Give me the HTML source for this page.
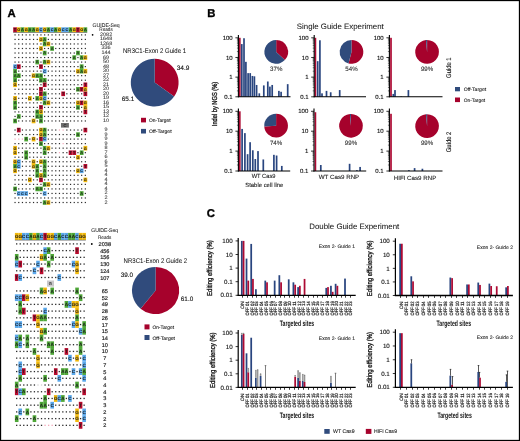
<!DOCTYPE html>
<html><head><meta charset="utf-8"><style>
html,body{margin:0;padding:0;background:#fff;}
svg{display:block;font-family:"Liberation Sans", sans-serif;text-rendering:geometricPrecision;will-change:transform;}
</style></head><body>
<svg width="520" height="441" viewBox="0 0 520 441">
<rect x="0" y="0" width="520" height="441" fill="#fff"/>
<text x="7.6" y="16.6" font-size="11.3" font-weight="bold" fill="#000" stroke="#000" stroke-width="0.35">A</text>
<text x="207.2" y="17.0" font-size="11.3" font-weight="bold" fill="#000" stroke="#000" stroke-width="0.35">B</text>
<text x="206.8" y="217.2" font-size="11.3" font-weight="bold" fill="#000" stroke="#000" stroke-width="0.35">C</text>
<rect x="13.20" y="27.30" width="3.75" height="5.00" fill="#b80a2d" />
<text x="15.05" y="31.20" font-size="3.9" text-anchor="middle" fill="#111" font-weight="bold" >T</text>
<rect x="16.90" y="27.30" width="3.75" height="5.00" fill="#f2b90c" />
<text x="18.75" y="31.20" font-size="3.9" text-anchor="middle" fill="#111" font-weight="bold" >G</text>
<rect x="20.60" y="27.30" width="3.75" height="5.00" fill="#4ea737" />
<text x="22.45" y="31.20" font-size="3.9" text-anchor="middle" fill="#111" font-weight="bold" >A</text>
<rect x="24.30" y="27.30" width="3.75" height="5.00" fill="#f2b90c" />
<text x="26.15" y="31.20" font-size="3.9" text-anchor="middle" fill="#111" font-weight="bold" >G</text>
<rect x="28.00" y="27.30" width="3.75" height="5.00" fill="#4ea737" />
<text x="29.85" y="31.20" font-size="3.9" text-anchor="middle" fill="#111" font-weight="bold" >A</text>
<rect x="31.70" y="27.30" width="3.75" height="5.00" fill="#4ea737" />
<text x="33.55" y="31.20" font-size="3.9" text-anchor="middle" fill="#111" font-weight="bold" >A</text>
<rect x="35.40" y="27.30" width="3.75" height="5.00" fill="#f2b90c" />
<text x="37.25" y="31.20" font-size="3.9" text-anchor="middle" fill="#111" font-weight="bold" >G</text>
<rect x="39.10" y="27.30" width="3.75" height="5.00" fill="#5aa8ec" />
<text x="40.95" y="31.20" font-size="3.9" text-anchor="middle" fill="#111" font-weight="bold" >C</text>
<rect x="42.80" y="27.30" width="3.75" height="5.00" fill="#f2b90c" />
<text x="44.65" y="31.20" font-size="3.9" text-anchor="middle" fill="#111" font-weight="bold" >G</text>
<rect x="46.50" y="27.30" width="3.75" height="5.00" fill="#4ea737" />
<text x="48.35" y="31.20" font-size="3.9" text-anchor="middle" fill="#111" font-weight="bold" >A</text>
<rect x="50.20" y="27.30" width="3.75" height="5.00" fill="#5aa8ec" />
<text x="52.05" y="31.20" font-size="3.9" text-anchor="middle" fill="#111" font-weight="bold" >C</text>
<rect x="53.90" y="27.30" width="3.75" height="5.00" fill="#4ea737" />
<text x="55.75" y="31.20" font-size="3.9" text-anchor="middle" fill="#111" font-weight="bold" >A</text>
<rect x="57.60" y="27.30" width="3.75" height="5.00" fill="#f2b90c" />
<text x="59.45" y="31.20" font-size="3.9" text-anchor="middle" fill="#111" font-weight="bold" >G</text>
<rect x="61.30" y="27.30" width="3.75" height="5.00" fill="#5aa8ec" />
<text x="63.15" y="31.20" font-size="3.9" text-anchor="middle" fill="#111" font-weight="bold" >C</text>
<rect x="65.00" y="27.30" width="3.75" height="5.00" fill="#5aa8ec" />
<text x="66.85" y="31.20" font-size="3.9" text-anchor="middle" fill="#111" font-weight="bold" >C</text>
<rect x="68.70" y="27.30" width="3.75" height="5.00" fill="#4ea737" />
<text x="70.55" y="31.20" font-size="3.9" text-anchor="middle" fill="#111" font-weight="bold" >A</text>
<rect x="72.40" y="27.30" width="3.75" height="5.00" fill="#f2b90c" />
<text x="74.25" y="31.20" font-size="3.9" text-anchor="middle" fill="#111" font-weight="bold" >G</text>
<rect x="76.10" y="27.30" width="3.75" height="5.00" fill="#b80a2d" />
<text x="77.95" y="31.20" font-size="3.9" text-anchor="middle" fill="#111" font-weight="bold" >T</text>
<rect x="79.80" y="27.30" width="3.75" height="5.00" fill="#f2b90c" />
<text x="81.65" y="31.20" font-size="3.9" text-anchor="middle" fill="#111" font-weight="bold" >G</text>
<rect x="83.50" y="27.30" width="3.75" height="5.00" fill="#4ea737" />
<text x="85.35" y="31.20" font-size="3.9" text-anchor="middle" fill="#111" font-weight="bold" >A</text>
<line x1="13.20" y1="32.50" x2="87.20" y2="32.50" stroke="#555" stroke-width="0.6"/>
<rect x="14.45" y="34.30" width="1.20" height="1.20" fill="#2a2a2a" />
<rect x="18.15" y="34.30" width="1.20" height="1.20" fill="#2a2a2a" />
<rect x="21.85" y="34.30" width="1.20" height="1.20" fill="#2a2a2a" />
<rect x="25.55" y="34.30" width="1.20" height="1.20" fill="#2a2a2a" />
<rect x="29.25" y="34.30" width="1.20" height="1.20" fill="#2a2a2a" />
<rect x="32.95" y="34.30" width="1.20" height="1.20" fill="#2a2a2a" />
<rect x="36.65" y="34.30" width="1.20" height="1.20" fill="#2a2a2a" />
<rect x="40.35" y="34.30" width="1.20" height="1.20" fill="#2a2a2a" />
<rect x="44.05" y="34.30" width="1.20" height="1.20" fill="#2a2a2a" />
<rect x="47.75" y="34.30" width="1.20" height="1.20" fill="#2a2a2a" />
<rect x="51.45" y="34.30" width="1.20" height="1.20" fill="#2a2a2a" />
<rect x="55.15" y="34.30" width="1.20" height="1.20" fill="#2a2a2a" />
<rect x="58.85" y="34.30" width="1.20" height="1.20" fill="#2a2a2a" />
<rect x="62.55" y="34.30" width="1.20" height="1.20" fill="#2a2a2a" />
<rect x="66.25" y="34.30" width="1.20" height="1.20" fill="#2a2a2a" />
<rect x="69.95" y="34.30" width="1.20" height="1.20" fill="#2a2a2a" />
<rect x="73.65" y="34.30" width="1.20" height="1.20" fill="#2a2a2a" />
<rect x="77.35" y="34.30" width="1.20" height="1.20" fill="#2a2a2a" />
<rect x="81.05" y="34.30" width="1.20" height="1.20" fill="#2a2a2a" />
<rect x="84.75" y="34.30" width="1.20" height="1.20" fill="#2a2a2a" />
<text x="106.10" y="35.90" font-size="5.0" text-anchor="middle" fill="#333" stroke="#333" stroke-width="0.06" textLength="12.20" lengthAdjust="spacingAndGlyphs" >2082</text>
<rect x="14.45" y="38.83" width="1.20" height="1.20" fill="#2a2a2a" />
<rect x="18.15" y="38.83" width="1.20" height="1.20" fill="#2a2a2a" />
<rect x="21.85" y="38.83" width="1.20" height="1.20" fill="#2a2a2a" />
<rect x="25.55" y="38.83" width="1.20" height="1.20" fill="#2a2a2a" />
<rect x="29.25" y="38.83" width="1.20" height="1.20" fill="#2a2a2a" />
<rect x="32.95" y="38.83" width="1.20" height="1.20" fill="#2a2a2a" />
<rect x="36.65" y="38.83" width="1.20" height="1.20" fill="#2a2a2a" />
<rect x="39.10" y="37.16" width="3.75" height="4.58" fill="#f2b90c" />
<text x="40.95" y="40.83" font-size="3.9" text-anchor="middle" fill="#1a1a1a" font-weight="bold" >G</text>
<rect x="42.80" y="37.16" width="3.75" height="4.58" fill="#4ea737" />
<text x="44.65" y="40.83" font-size="3.9" text-anchor="middle" fill="#1a1a1a" font-weight="bold" >A</text>
<rect x="47.75" y="38.83" width="1.20" height="1.20" fill="#2a2a2a" />
<rect x="51.45" y="38.83" width="1.20" height="1.20" fill="#2a2a2a" />
<rect x="55.15" y="38.83" width="1.20" height="1.20" fill="#2a2a2a" />
<rect x="58.85" y="38.83" width="1.20" height="1.20" fill="#2a2a2a" />
<rect x="62.55" y="38.83" width="1.20" height="1.20" fill="#2a2a2a" />
<rect x="66.25" y="38.83" width="1.20" height="1.20" fill="#2a2a2a" />
<rect x="69.95" y="38.83" width="1.20" height="1.20" fill="#2a2a2a" />
<rect x="73.65" y="38.83" width="1.20" height="1.20" fill="#2a2a2a" />
<rect x="77.35" y="38.83" width="1.20" height="1.20" fill="#2a2a2a" />
<rect x="81.05" y="38.83" width="1.20" height="1.20" fill="#2a2a2a" />
<rect x="84.75" y="38.83" width="1.20" height="1.20" fill="#2a2a2a" />
<text x="106.10" y="40.43" font-size="5.0" text-anchor="middle" fill="#333" stroke="#333" stroke-width="0.06" textLength="12.20" lengthAdjust="spacingAndGlyphs" >1648</text>
<rect x="14.45" y="43.36" width="1.20" height="1.20" fill="#2a2a2a" />
<rect x="18.15" y="43.36" width="1.20" height="1.20" fill="#2a2a2a" />
<rect x="21.85" y="43.36" width="1.20" height="1.20" fill="#2a2a2a" />
<rect x="25.55" y="43.36" width="1.20" height="1.20" fill="#2a2a2a" />
<rect x="29.25" y="43.36" width="1.20" height="1.20" fill="#2a2a2a" />
<rect x="32.95" y="43.36" width="1.20" height="1.20" fill="#2a2a2a" />
<rect x="36.65" y="43.36" width="1.20" height="1.20" fill="#2a2a2a" />
<rect x="40.35" y="43.36" width="1.20" height="1.20" fill="#2a2a2a" />
<rect x="42.80" y="41.70" width="3.75" height="4.58" fill="#4ea737" />
<text x="44.65" y="45.36" font-size="3.9" text-anchor="middle" fill="#1a1a1a" font-weight="bold" >A</text>
<rect x="46.50" y="41.70" width="3.75" height="4.58" fill="#f2b90c" />
<text x="48.35" y="45.36" font-size="3.9" text-anchor="middle" fill="#1a1a1a" font-weight="bold" >G</text>
<rect x="51.45" y="43.36" width="1.20" height="1.20" fill="#2a2a2a" />
<rect x="55.15" y="43.36" width="1.20" height="1.20" fill="#2a2a2a" />
<rect x="58.85" y="43.36" width="1.20" height="1.20" fill="#2a2a2a" />
<rect x="62.55" y="43.36" width="1.20" height="1.20" fill="#2a2a2a" />
<rect x="66.25" y="43.36" width="1.20" height="1.20" fill="#2a2a2a" />
<rect x="69.95" y="43.36" width="1.20" height="1.20" fill="#2a2a2a" />
<rect x="73.65" y="43.36" width="1.20" height="1.20" fill="#2a2a2a" />
<rect x="77.35" y="43.36" width="1.20" height="1.20" fill="#2a2a2a" />
<rect x="81.05" y="43.36" width="1.20" height="1.20" fill="#2a2a2a" />
<rect x="84.75" y="43.36" width="1.20" height="1.20" fill="#2a2a2a" />
<text x="106.10" y="44.96" font-size="5.0" text-anchor="middle" fill="#333" stroke="#333" stroke-width="0.06" textLength="12.20" lengthAdjust="spacingAndGlyphs" >1268</text>
<rect x="14.45" y="47.89" width="1.20" height="1.20" fill="#2a2a2a" />
<rect x="18.15" y="47.89" width="1.20" height="1.20" fill="#2a2a2a" />
<rect x="21.85" y="47.89" width="1.20" height="1.20" fill="#2a2a2a" />
<rect x="25.55" y="47.89" width="1.20" height="1.20" fill="#2a2a2a" />
<rect x="29.25" y="47.89" width="1.20" height="1.20" fill="#2a2a2a" />
<rect x="32.95" y="47.89" width="1.20" height="1.20" fill="#2a2a2a" />
<rect x="36.65" y="47.89" width="1.20" height="1.20" fill="#2a2a2a" />
<rect x="39.10" y="46.22" width="3.75" height="4.58" fill="#f2b90c" />
<text x="40.95" y="49.89" font-size="3.9" text-anchor="middle" fill="#1a1a1a" font-weight="bold" >G</text>
<rect x="44.05" y="47.89" width="1.20" height="1.20" fill="#2a2a2a" />
<rect x="47.75" y="47.89" width="1.20" height="1.20" fill="#2a2a2a" />
<rect x="50.20" y="46.22" width="3.75" height="4.58" fill="#4ea737" />
<text x="52.05" y="49.89" font-size="3.9" text-anchor="middle" fill="#1a1a1a" font-weight="bold" >A</text>
<rect x="55.15" y="47.89" width="1.20" height="1.20" fill="#2a2a2a" />
<rect x="58.85" y="47.89" width="1.20" height="1.20" fill="#2a2a2a" />
<rect x="62.55" y="47.89" width="1.20" height="1.20" fill="#2a2a2a" />
<rect x="66.25" y="47.89" width="1.20" height="1.20" fill="#2a2a2a" />
<rect x="69.95" y="47.89" width="1.20" height="1.20" fill="#2a2a2a" />
<rect x="73.65" y="47.89" width="1.20" height="1.20" fill="#2a2a2a" />
<rect x="77.35" y="47.89" width="1.20" height="1.20" fill="#2a2a2a" />
<rect x="81.05" y="47.89" width="1.20" height="1.20" fill="#2a2a2a" />
<rect x="84.75" y="47.89" width="1.20" height="1.20" fill="#2a2a2a" />
<text x="106.10" y="49.49" font-size="5.0" text-anchor="middle" fill="#333" stroke="#333" stroke-width="0.06" textLength="9.15" lengthAdjust="spacingAndGlyphs" >336</text>
<rect x="14.45" y="52.42" width="1.20" height="1.20" fill="#2a2a2a" />
<rect x="18.15" y="52.42" width="1.20" height="1.20" fill="#2a2a2a" />
<rect x="21.85" y="52.42" width="1.20" height="1.20" fill="#2a2a2a" />
<rect x="25.55" y="52.42" width="1.20" height="1.20" fill="#2a2a2a" />
<rect x="29.25" y="52.42" width="1.20" height="1.20" fill="#2a2a2a" />
<rect x="32.95" y="52.42" width="1.20" height="1.20" fill="#2a2a2a" />
<rect x="36.65" y="52.42" width="1.20" height="1.20" fill="#2a2a2a" />
<rect x="40.35" y="52.42" width="1.20" height="1.20" fill="#2a2a2a" />
<rect x="42.80" y="50.75" width="3.75" height="4.58" fill="#4ea737" />
<text x="44.65" y="54.42" font-size="3.9" text-anchor="middle" fill="#1a1a1a" font-weight="bold" >A</text>
<rect x="47.75" y="52.42" width="1.20" height="1.20" fill="#2a2a2a" />
<rect x="51.45" y="52.42" width="1.20" height="1.20" fill="#2a2a2a" />
<rect x="55.15" y="52.42" width="1.20" height="1.20" fill="#2a2a2a" />
<rect x="58.85" y="52.42" width="1.20" height="1.20" fill="#2a2a2a" />
<rect x="62.55" y="52.42" width="1.20" height="1.20" fill="#2a2a2a" />
<rect x="66.25" y="52.42" width="1.20" height="1.20" fill="#2a2a2a" />
<rect x="69.95" y="52.42" width="1.20" height="1.20" fill="#2a2a2a" />
<rect x="73.65" y="52.42" width="1.20" height="1.20" fill="#2a2a2a" />
<rect x="76.10" y="50.75" width="3.75" height="4.58" fill="#4ea737" />
<text x="77.95" y="54.42" font-size="3.9" text-anchor="middle" fill="#1a1a1a" font-weight="bold" >A</text>
<rect x="81.05" y="52.42" width="1.20" height="1.20" fill="#2a2a2a" />
<rect x="84.75" y="52.42" width="1.20" height="1.20" fill="#2a2a2a" />
<text x="106.10" y="54.02" font-size="5.0" text-anchor="middle" fill="#333" stroke="#333" stroke-width="0.06" textLength="9.15" lengthAdjust="spacingAndGlyphs" >144</text>
<rect x="14.45" y="56.95" width="1.20" height="1.20" fill="#2a2a2a" />
<rect x="18.15" y="56.95" width="1.20" height="1.20" fill="#2a2a2a" />
<rect x="21.85" y="56.95" width="1.20" height="1.20" fill="#2a2a2a" />
<rect x="25.55" y="56.95" width="1.20" height="1.20" fill="#2a2a2a" />
<rect x="29.25" y="56.95" width="1.20" height="1.20" fill="#2a2a2a" />
<rect x="32.95" y="56.95" width="1.20" height="1.20" fill="#2a2a2a" />
<rect x="36.65" y="56.95" width="1.20" height="1.20" fill="#2a2a2a" />
<rect x="40.35" y="56.95" width="1.20" height="1.20" fill="#2a2a2a" />
<rect x="44.05" y="56.95" width="1.20" height="1.20" fill="#2a2a2a" />
<rect x="47.75" y="56.95" width="1.20" height="1.20" fill="#2a2a2a" />
<rect x="51.45" y="56.95" width="1.20" height="1.20" fill="#2a2a2a" />
<rect x="55.15" y="56.95" width="1.20" height="1.20" fill="#2a2a2a" />
<rect x="58.85" y="56.95" width="1.20" height="1.20" fill="#2a2a2a" />
<rect x="62.55" y="56.95" width="1.20" height="1.20" fill="#2a2a2a" />
<rect x="66.25" y="56.95" width="1.20" height="1.20" fill="#2a2a2a" />
<rect x="69.95" y="56.95" width="1.20" height="1.20" fill="#2a2a2a" />
<rect x="72.40" y="55.28" width="3.75" height="4.58" fill="#4ea737" />
<text x="74.25" y="58.95" font-size="3.9" text-anchor="middle" fill="#1a1a1a" font-weight="bold" >A</text>
<rect x="77.35" y="56.95" width="1.20" height="1.20" fill="#2a2a2a" />
<rect x="79.80" y="55.28" width="3.75" height="4.58" fill="#4ea737" />
<text x="81.65" y="58.95" font-size="3.9" text-anchor="middle" fill="#1a1a1a" font-weight="bold" >A</text>
<rect x="83.50" y="55.28" width="3.75" height="4.58" fill="#f2b90c" />
<text x="85.35" y="58.95" font-size="3.9" text-anchor="middle" fill="#1a1a1a" font-weight="bold" >G</text>
<text x="106.10" y="58.55" font-size="5.0" text-anchor="middle" fill="#333" stroke="#333" stroke-width="0.06" textLength="6.10" lengthAdjust="spacingAndGlyphs" >69</text>
<rect x="14.45" y="61.48" width="1.20" height="1.20" fill="#2a2a2a" />
<rect x="18.15" y="61.48" width="1.20" height="1.20" fill="#2a2a2a" />
<rect x="21.85" y="61.48" width="1.20" height="1.20" fill="#2a2a2a" />
<rect x="25.55" y="61.48" width="1.20" height="1.20" fill="#2a2a2a" />
<rect x="29.25" y="61.48" width="1.20" height="1.20" fill="#2a2a2a" />
<rect x="32.95" y="61.48" width="1.20" height="1.20" fill="#2a2a2a" />
<rect x="35.40" y="59.81" width="3.75" height="4.58" fill="#4ea737" />
<text x="37.25" y="63.48" font-size="3.9" text-anchor="middle" fill="#1a1a1a" font-weight="bold" >A</text>
<rect x="40.35" y="61.48" width="1.20" height="1.20" fill="#2a2a2a" />
<rect x="42.80" y="59.81" width="3.75" height="4.58" fill="#4ea737" />
<text x="44.65" y="63.48" font-size="3.9" text-anchor="middle" fill="#1a1a1a" font-weight="bold" >A</text>
<rect x="46.50" y="59.81" width="3.75" height="4.58" fill="#f2b90c" />
<text x="48.35" y="63.48" font-size="3.9" text-anchor="middle" fill="#1a1a1a" font-weight="bold" >G</text>
<rect x="51.45" y="61.48" width="1.20" height="1.20" fill="#2a2a2a" />
<rect x="55.15" y="61.48" width="1.20" height="1.20" fill="#2a2a2a" />
<rect x="58.85" y="61.48" width="1.20" height="1.20" fill="#2a2a2a" />
<rect x="62.55" y="61.48" width="1.20" height="1.20" fill="#2a2a2a" />
<rect x="66.25" y="61.48" width="1.20" height="1.20" fill="#2a2a2a" />
<rect x="69.95" y="61.48" width="1.20" height="1.20" fill="#2a2a2a" />
<rect x="73.65" y="61.48" width="1.20" height="1.20" fill="#2a2a2a" />
<rect x="77.35" y="61.48" width="1.20" height="1.20" fill="#2a2a2a" />
<rect x="81.05" y="61.48" width="1.20" height="1.20" fill="#2a2a2a" />
<rect x="84.75" y="61.48" width="1.20" height="1.20" fill="#2a2a2a" />
<text x="106.10" y="63.08" font-size="5.0" text-anchor="middle" fill="#333" stroke="#333" stroke-width="0.06" textLength="6.10" lengthAdjust="spacingAndGlyphs" >50</text>
<rect x="13.20" y="64.34" width="3.75" height="4.58" fill="#5aa8ec" />
<text x="15.05" y="68.01" font-size="3.9" text-anchor="middle" fill="#1a1a1a" font-weight="bold" >C</text>
<rect x="16.90" y="64.34" width="3.75" height="4.58" fill="#b80a2d" />
<text x="18.75" y="68.01" font-size="3.9" text-anchor="middle" fill="#1a1a1a" font-weight="bold" >T</text>
<rect x="21.85" y="66.01" width="1.20" height="1.20" fill="#2a2a2a" />
<rect x="25.55" y="66.01" width="1.20" height="1.20" fill="#2a2a2a" />
<rect x="29.25" y="66.01" width="1.20" height="1.20" fill="#2a2a2a" />
<rect x="32.95" y="66.01" width="1.20" height="1.20" fill="#2a2a2a" />
<rect x="36.65" y="66.01" width="1.20" height="1.20" fill="#2a2a2a" />
<rect x="39.10" y="64.34" width="3.75" height="4.58" fill="#b80a2d" />
<text x="40.95" y="68.01" font-size="3.9" text-anchor="middle" fill="#1a1a1a" font-weight="bold" >T</text>
<rect x="44.05" y="66.01" width="1.20" height="1.20" fill="#2a2a2a" />
<rect x="47.75" y="66.01" width="1.20" height="1.20" fill="#2a2a2a" />
<rect x="51.45" y="66.01" width="1.20" height="1.20" fill="#2a2a2a" />
<rect x="55.15" y="66.01" width="1.20" height="1.20" fill="#2a2a2a" />
<rect x="58.85" y="66.01" width="1.20" height="1.20" fill="#2a2a2a" />
<rect x="62.55" y="66.01" width="1.20" height="1.20" fill="#2a2a2a" />
<rect x="66.25" y="66.01" width="1.20" height="1.20" fill="#2a2a2a" />
<rect x="69.95" y="66.01" width="1.20" height="1.20" fill="#2a2a2a" />
<rect x="73.65" y="66.01" width="1.20" height="1.20" fill="#2a2a2a" />
<rect x="77.35" y="66.01" width="1.20" height="1.20" fill="#2a2a2a" />
<rect x="79.80" y="64.34" width="3.75" height="4.58" fill="#4ea737" />
<text x="81.65" y="68.01" font-size="3.9" text-anchor="middle" fill="#1a1a1a" font-weight="bold" >A</text>
<rect x="84.75" y="66.01" width="1.20" height="1.20" fill="#2a2a2a" />
<text x="106.10" y="67.61" font-size="5.0" text-anchor="middle" fill="#333" stroke="#333" stroke-width="0.06" textLength="6.10" lengthAdjust="spacingAndGlyphs" >48</text>
<rect x="13.20" y="68.88" width="3.75" height="4.58" fill="#4ea737" />
<text x="15.05" y="72.54" font-size="3.9" text-anchor="middle" fill="#1a1a1a" font-weight="bold" >A</text>
<rect x="18.15" y="70.54" width="1.20" height="1.20" fill="#2a2a2a" />
<rect x="21.85" y="70.54" width="1.20" height="1.20" fill="#2a2a2a" />
<rect x="25.55" y="70.54" width="1.20" height="1.20" fill="#2a2a2a" />
<rect x="29.25" y="70.54" width="1.20" height="1.20" fill="#2a2a2a" />
<rect x="32.95" y="70.54" width="1.20" height="1.20" fill="#2a2a2a" />
<rect x="36.65" y="70.54" width="1.20" height="1.20" fill="#2a2a2a" />
<rect x="40.35" y="70.54" width="1.20" height="1.20" fill="#2a2a2a" />
<rect x="42.80" y="68.88" width="3.75" height="4.58" fill="#5aa8ec" />
<text x="44.65" y="72.54" font-size="3.9" text-anchor="middle" fill="#1a1a1a" font-weight="bold" >C</text>
<rect x="47.75" y="70.54" width="1.20" height="1.20" fill="#2a2a2a" />
<rect x="51.45" y="70.54" width="1.20" height="1.20" fill="#2a2a2a" />
<rect x="55.15" y="70.54" width="1.20" height="1.20" fill="#2a2a2a" />
<rect x="58.85" y="70.54" width="1.20" height="1.20" fill="#2a2a2a" />
<rect x="62.55" y="70.54" width="1.20" height="1.20" fill="#2a2a2a" />
<rect x="66.25" y="70.54" width="1.20" height="1.20" fill="#2a2a2a" />
<rect x="69.95" y="70.54" width="1.20" height="1.20" fill="#2a2a2a" />
<rect x="73.65" y="70.54" width="1.20" height="1.20" fill="#2a2a2a" />
<rect x="76.10" y="68.88" width="3.75" height="4.58" fill="#f2b90c" />
<text x="77.95" y="72.54" font-size="3.9" text-anchor="middle" fill="#1a1a1a" font-weight="bold" >G</text>
<rect x="79.80" y="68.88" width="3.75" height="4.58" fill="#4ea737" />
<text x="81.65" y="72.54" font-size="3.9" text-anchor="middle" fill="#1a1a1a" font-weight="bold" >A</text>
<rect x="83.50" y="68.88" width="3.75" height="4.58" fill="#f2b90c" />
<text x="85.35" y="72.54" font-size="3.9" text-anchor="middle" fill="#1a1a1a" font-weight="bold" >G</text>
<text x="106.10" y="72.14" font-size="5.0" text-anchor="middle" fill="#333" stroke="#333" stroke-width="0.06" textLength="6.10" lengthAdjust="spacingAndGlyphs" >30</text>
<rect x="13.20" y="73.41" width="3.75" height="4.58" fill="#4ea737" />
<text x="15.05" y="77.07" font-size="3.9" text-anchor="middle" fill="#1a1a1a" font-weight="bold" >A</text>
<rect x="16.90" y="73.41" width="3.75" height="4.58" fill="#4ea737" />
<text x="18.75" y="77.07" font-size="3.9" text-anchor="middle" fill="#1a1a1a" font-weight="bold" >A</text>
<rect x="21.85" y="75.07" width="1.20" height="1.20" fill="#2a2a2a" />
<rect x="25.55" y="75.07" width="1.20" height="1.20" fill="#2a2a2a" />
<rect x="29.25" y="75.07" width="1.20" height="1.20" fill="#2a2a2a" />
<rect x="31.70" y="73.41" width="3.75" height="4.58" fill="#f2b90c" />
<text x="33.55" y="77.07" font-size="3.9" text-anchor="middle" fill="#1a1a1a" font-weight="bold" >G</text>
<rect x="35.40" y="73.41" width="3.75" height="4.58" fill="#4ea737" />
<text x="37.25" y="77.07" font-size="3.9" text-anchor="middle" fill="#1a1a1a" font-weight="bold" >A</text>
<rect x="39.10" y="73.41" width="3.75" height="4.58" fill="#4ea737" />
<text x="40.95" y="77.07" font-size="3.9" text-anchor="middle" fill="#1a1a1a" font-weight="bold" >A</text>
<rect x="44.05" y="75.07" width="1.20" height="1.20" fill="#2a2a2a" />
<rect x="47.75" y="75.07" width="1.20" height="1.20" fill="#2a2a2a" />
<rect x="51.45" y="75.07" width="1.20" height="1.20" fill="#2a2a2a" />
<rect x="55.15" y="75.07" width="1.20" height="1.20" fill="#2a2a2a" />
<rect x="58.85" y="75.07" width="1.20" height="1.20" fill="#2a2a2a" />
<rect x="62.55" y="75.07" width="1.20" height="1.20" fill="#2a2a2a" />
<rect x="66.25" y="75.07" width="1.20" height="1.20" fill="#2a2a2a" />
<rect x="69.95" y="75.07" width="1.20" height="1.20" fill="#2a2a2a" />
<rect x="73.65" y="75.07" width="1.20" height="1.20" fill="#2a2a2a" />
<rect x="77.35" y="75.07" width="1.20" height="1.20" fill="#2a2a2a" />
<rect x="81.05" y="75.07" width="1.20" height="1.20" fill="#2a2a2a" />
<rect x="84.75" y="75.07" width="1.20" height="1.20" fill="#2a2a2a" />
<text x="106.10" y="76.67" font-size="5.0" text-anchor="middle" fill="#333" stroke="#333" stroke-width="0.06" textLength="6.10" lengthAdjust="spacingAndGlyphs" >27</text>
<rect x="13.20" y="77.94" width="3.75" height="4.58" fill="#4ea737" />
<text x="15.05" y="81.60" font-size="3.9" text-anchor="middle" fill="#1a1a1a" font-weight="bold" >A</text>
<rect x="18.15" y="79.60" width="1.20" height="1.20" fill="#2a2a2a" />
<rect x="21.85" y="79.60" width="1.20" height="1.20" fill="#2a2a2a" />
<rect x="25.55" y="79.60" width="1.20" height="1.20" fill="#2a2a2a" />
<rect x="29.25" y="79.60" width="1.20" height="1.20" fill="#2a2a2a" />
<rect x="32.95" y="79.60" width="1.20" height="1.20" fill="#2a2a2a" />
<rect x="36.65" y="79.60" width="1.20" height="1.20" fill="#2a2a2a" />
<rect x="39.10" y="77.94" width="3.75" height="4.58" fill="#4ea737" />
<text x="40.95" y="81.60" font-size="3.9" text-anchor="middle" fill="#1a1a1a" font-weight="bold" >A</text>
<rect x="42.80" y="77.94" width="3.75" height="4.58" fill="#4ea737" />
<text x="44.65" y="81.60" font-size="3.9" text-anchor="middle" fill="#1a1a1a" font-weight="bold" >A</text>
<rect x="47.75" y="79.60" width="1.20" height="1.20" fill="#2a2a2a" />
<rect x="51.45" y="79.60" width="1.20" height="1.20" fill="#2a2a2a" />
<rect x="55.15" y="79.60" width="1.20" height="1.20" fill="#2a2a2a" />
<rect x="58.85" y="79.60" width="1.20" height="1.20" fill="#2a2a2a" />
<rect x="62.55" y="79.60" width="1.20" height="1.20" fill="#2a2a2a" />
<rect x="66.25" y="79.60" width="1.20" height="1.20" fill="#2a2a2a" />
<rect x="69.95" y="79.60" width="1.20" height="1.20" fill="#2a2a2a" />
<rect x="73.65" y="79.60" width="1.20" height="1.20" fill="#2a2a2a" />
<rect x="77.35" y="79.60" width="1.20" height="1.20" fill="#2a2a2a" />
<rect x="81.05" y="79.60" width="1.20" height="1.20" fill="#2a2a2a" />
<rect x="84.75" y="79.60" width="1.20" height="1.20" fill="#2a2a2a" />
<text x="106.10" y="81.20" font-size="5.0" text-anchor="middle" fill="#333" stroke="#333" stroke-width="0.06" textLength="6.10" lengthAdjust="spacingAndGlyphs" >22</text>
<rect x="13.20" y="82.47" width="3.75" height="4.58" fill="#f2b90c" />
<text x="15.05" y="86.13" font-size="3.9" text-anchor="middle" fill="#1a1a1a" font-weight="bold" >G</text>
<rect x="18.15" y="84.13" width="1.20" height="1.20" fill="#2a2a2a" />
<rect x="21.85" y="84.13" width="1.20" height="1.20" fill="#2a2a2a" />
<rect x="25.55" y="84.13" width="1.20" height="1.20" fill="#2a2a2a" />
<rect x="29.25" y="84.13" width="1.20" height="1.20" fill="#2a2a2a" />
<rect x="32.95" y="84.13" width="1.20" height="1.20" fill="#2a2a2a" />
<rect x="36.65" y="84.13" width="1.20" height="1.20" fill="#2a2a2a" />
<rect x="40.35" y="84.13" width="1.20" height="1.20" fill="#2a2a2a" />
<rect x="42.80" y="82.47" width="3.75" height="4.58" fill="#b80a2d" />
<text x="44.65" y="86.13" font-size="3.9" text-anchor="middle" fill="#1a1a1a" font-weight="bold" >T</text>
<rect x="47.75" y="84.13" width="1.20" height="1.20" fill="#2a2a2a" />
<rect x="51.45" y="84.13" width="1.20" height="1.20" fill="#2a2a2a" />
<rect x="55.15" y="84.13" width="1.20" height="1.20" fill="#2a2a2a" />
<rect x="58.85" y="84.13" width="1.20" height="1.20" fill="#2a2a2a" />
<rect x="62.55" y="84.13" width="1.20" height="1.20" fill="#2a2a2a" />
<rect x="66.25" y="84.13" width="1.20" height="1.20" fill="#2a2a2a" />
<rect x="69.95" y="84.13" width="1.20" height="1.20" fill="#2a2a2a" />
<rect x="73.65" y="84.13" width="1.20" height="1.20" fill="#2a2a2a" />
<rect x="77.35" y="84.13" width="1.20" height="1.20" fill="#2a2a2a" />
<rect x="81.05" y="84.13" width="1.20" height="1.20" fill="#2a2a2a" />
<rect x="83.50" y="82.47" width="3.75" height="4.58" fill="#b80a2d" />
<text x="85.35" y="86.13" font-size="3.9" text-anchor="middle" fill="#1a1a1a" font-weight="bold" >T</text>
<text x="106.10" y="85.73" font-size="5.0" text-anchor="middle" fill="#333" stroke="#333" stroke-width="0.06" textLength="6.10" lengthAdjust="spacingAndGlyphs" >21</text>
<rect x="14.45" y="88.66" width="1.20" height="1.20" fill="#2a2a2a" />
<rect x="18.15" y="88.66" width="1.20" height="1.20" fill="#2a2a2a" />
<rect x="21.85" y="88.66" width="1.20" height="1.20" fill="#2a2a2a" />
<rect x="25.55" y="88.66" width="1.20" height="1.20" fill="#2a2a2a" />
<rect x="29.25" y="88.66" width="1.20" height="1.20" fill="#2a2a2a" />
<rect x="32.95" y="88.66" width="1.20" height="1.20" fill="#2a2a2a" />
<rect x="36.65" y="88.66" width="1.20" height="1.20" fill="#2a2a2a" />
<rect x="39.10" y="86.99" width="3.75" height="4.58" fill="#b80a2d" />
<text x="40.95" y="90.66" font-size="3.9" text-anchor="middle" fill="#1a1a1a" font-weight="bold" >T</text>
<rect x="44.05" y="88.66" width="1.20" height="1.20" fill="#2a2a2a" />
<rect x="47.75" y="88.66" width="1.20" height="1.20" fill="#2a2a2a" />
<rect x="51.45" y="88.66" width="1.20" height="1.20" fill="#2a2a2a" />
<rect x="55.15" y="88.66" width="1.20" height="1.20" fill="#2a2a2a" />
<rect x="58.85" y="88.66" width="1.20" height="1.20" fill="#2a2a2a" />
<rect x="62.55" y="88.66" width="1.20" height="1.20" fill="#2a2a2a" />
<rect x="66.25" y="88.66" width="1.20" height="1.20" fill="#2a2a2a" />
<rect x="69.95" y="88.66" width="1.20" height="1.20" fill="#2a2a2a" />
<rect x="73.65" y="88.66" width="1.20" height="1.20" fill="#2a2a2a" />
<rect x="76.10" y="86.99" width="3.75" height="4.58" fill="#4ea737" />
<text x="77.95" y="90.66" font-size="3.9" text-anchor="middle" fill="#1a1a1a" font-weight="bold" >A</text>
<rect x="79.80" y="86.99" width="3.75" height="4.58" fill="#b80a2d" />
<text x="81.65" y="90.66" font-size="3.9" text-anchor="middle" fill="#1a1a1a" font-weight="bold" >T</text>
<rect x="83.50" y="86.99" width="3.75" height="4.58" fill="#f2b90c" />
<text x="85.35" y="90.66" font-size="3.9" text-anchor="middle" fill="#1a1a1a" font-weight="bold" >G</text>
<text x="106.10" y="90.26" font-size="5.0" text-anchor="middle" fill="#333" stroke="#333" stroke-width="0.06" textLength="6.10" lengthAdjust="spacingAndGlyphs" >20</text>
<rect x="14.45" y="93.19" width="1.20" height="1.20" fill="#2a2a2a" />
<rect x="18.15" y="93.19" width="1.20" height="1.20" fill="#2a2a2a" />
<rect x="21.85" y="93.19" width="1.20" height="1.20" fill="#2a2a2a" />
<rect x="25.55" y="93.19" width="1.20" height="1.20" fill="#2a2a2a" />
<rect x="29.25" y="93.19" width="1.20" height="1.20" fill="#2a2a2a" />
<rect x="32.95" y="93.19" width="1.20" height="1.20" fill="#2a2a2a" />
<rect x="36.65" y="93.19" width="1.20" height="1.20" fill="#2a2a2a" />
<rect x="39.10" y="91.52" width="3.75" height="4.58" fill="#b80a2d" />
<text x="40.95" y="95.19" font-size="3.9" text-anchor="middle" fill="#1a1a1a" font-weight="bold" >T</text>
<rect x="42.80" y="91.52" width="3.75" height="4.58" fill="#4ea737" />
<text x="44.65" y="95.19" font-size="3.9" text-anchor="middle" fill="#1a1a1a" font-weight="bold" >A</text>
<rect x="47.75" y="93.19" width="1.20" height="1.20" fill="#2a2a2a" />
<rect x="51.45" y="93.19" width="1.20" height="1.20" fill="#2a2a2a" />
<rect x="55.15" y="93.19" width="1.20" height="1.20" fill="#2a2a2a" />
<rect x="58.85" y="93.19" width="1.20" height="1.20" fill="#2a2a2a" />
<rect x="61.30" y="91.52" width="3.75" height="4.58" fill="#b80a2d" />
<text x="63.15" y="95.19" font-size="3.9" text-anchor="middle" fill="#1a1a1a" font-weight="bold" >T</text>
<rect x="66.25" y="93.19" width="1.20" height="1.20" fill="#2a2a2a" />
<rect x="69.95" y="93.19" width="1.20" height="1.20" fill="#2a2a2a" />
<rect x="73.65" y="93.19" width="1.20" height="1.20" fill="#2a2a2a" />
<rect x="77.35" y="93.19" width="1.20" height="1.20" fill="#2a2a2a" />
<rect x="81.05" y="93.19" width="1.20" height="1.20" fill="#2a2a2a" />
<rect x="83.50" y="91.52" width="3.75" height="4.58" fill="#b80a2d" />
<text x="85.35" y="95.19" font-size="3.9" text-anchor="middle" fill="#1a1a1a" font-weight="bold" >T</text>
<text x="106.10" y="94.79" font-size="5.0" text-anchor="middle" fill="#333" stroke="#333" stroke-width="0.06" textLength="6.10" lengthAdjust="spacingAndGlyphs" >20</text>
<rect x="13.20" y="96.05" width="3.75" height="4.58" fill="#f2b90c" />
<text x="15.05" y="99.72" font-size="3.9" text-anchor="middle" fill="#1a1a1a" font-weight="bold" >G</text>
<rect x="18.15" y="97.72" width="1.20" height="1.20" fill="#2a2a2a" />
<rect x="21.85" y="97.72" width="1.20" height="1.20" fill="#2a2a2a" />
<rect x="25.55" y="97.72" width="1.20" height="1.20" fill="#2a2a2a" />
<rect x="28.00" y="96.05" width="3.75" height="4.58" fill="#f2b90c" />
<text x="29.85" y="99.72" font-size="3.9" text-anchor="middle" fill="#1a1a1a" font-weight="bold" >G</text>
<rect x="32.95" y="97.72" width="1.20" height="1.20" fill="#2a2a2a" />
<rect x="35.40" y="96.05" width="3.75" height="4.58" fill="#4ea737" />
<text x="37.25" y="99.72" font-size="3.9" text-anchor="middle" fill="#1a1a1a" font-weight="bold" >A</text>
<rect x="39.10" y="96.05" width="3.75" height="4.58" fill="#f2b90c" />
<text x="40.95" y="99.72" font-size="3.9" text-anchor="middle" fill="#1a1a1a" font-weight="bold" >G</text>
<rect x="42.80" y="96.05" width="3.75" height="4.58" fill="#5aa8ec" />
<text x="44.65" y="99.72" font-size="3.9" text-anchor="middle" fill="#1a1a1a" font-weight="bold" >C</text>
<rect x="47.75" y="97.72" width="1.20" height="1.20" fill="#2a2a2a" />
<rect x="51.45" y="97.72" width="1.20" height="1.20" fill="#2a2a2a" />
<rect x="55.15" y="97.72" width="1.20" height="1.20" fill="#2a2a2a" />
<rect x="58.85" y="97.72" width="1.20" height="1.20" fill="#2a2a2a" />
<rect x="62.55" y="97.72" width="1.20" height="1.20" fill="#2a2a2a" />
<rect x="66.25" y="97.72" width="1.20" height="1.20" fill="#2a2a2a" />
<rect x="69.95" y="97.72" width="1.20" height="1.20" fill="#2a2a2a" />
<rect x="73.65" y="97.72" width="1.20" height="1.20" fill="#2a2a2a" />
<rect x="77.35" y="97.72" width="1.20" height="1.20" fill="#2a2a2a" />
<rect x="81.05" y="97.72" width="1.20" height="1.20" fill="#2a2a2a" />
<rect x="84.75" y="97.72" width="1.20" height="1.20" fill="#2a2a2a" />
<text x="106.10" y="99.32" font-size="5.0" text-anchor="middle" fill="#333" stroke="#333" stroke-width="0.06" textLength="6.10" lengthAdjust="spacingAndGlyphs" >19</text>
<rect x="13.20" y="100.58" width="3.75" height="4.58" fill="#4ea737" />
<text x="15.05" y="104.25" font-size="3.9" text-anchor="middle" fill="#1a1a1a" font-weight="bold" >A</text>
<rect x="18.15" y="102.25" width="1.20" height="1.20" fill="#2a2a2a" />
<rect x="21.85" y="102.25" width="1.20" height="1.20" fill="#2a2a2a" />
<rect x="25.55" y="102.25" width="1.20" height="1.20" fill="#2a2a2a" />
<rect x="29.25" y="102.25" width="1.20" height="1.20" fill="#2a2a2a" />
<rect x="32.95" y="102.25" width="1.20" height="1.20" fill="#2a2a2a" />
<rect x="36.65" y="102.25" width="1.20" height="1.20" fill="#2a2a2a" />
<rect x="40.35" y="102.25" width="1.20" height="1.20" fill="#2a2a2a" />
<rect x="42.80" y="100.58" width="3.75" height="4.58" fill="#4ea737" />
<text x="44.65" y="104.25" font-size="3.9" text-anchor="middle" fill="#1a1a1a" font-weight="bold" >A</text>
<rect x="46.50" y="100.58" width="3.75" height="4.58" fill="#f2b90c" />
<text x="48.35" y="104.25" font-size="3.9" text-anchor="middle" fill="#1a1a1a" font-weight="bold" >G</text>
<rect x="51.45" y="102.25" width="1.20" height="1.20" fill="#2a2a2a" />
<rect x="55.15" y="102.25" width="1.20" height="1.20" fill="#2a2a2a" />
<rect x="58.85" y="102.25" width="1.20" height="1.20" fill="#2a2a2a" />
<rect x="62.55" y="102.25" width="1.20" height="1.20" fill="#2a2a2a" />
<rect x="66.25" y="102.25" width="1.20" height="1.20" fill="#2a2a2a" />
<rect x="69.95" y="102.25" width="1.20" height="1.20" fill="#2a2a2a" />
<rect x="73.65" y="102.25" width="1.20" height="1.20" fill="#2a2a2a" />
<rect x="76.10" y="100.58" width="3.75" height="4.58" fill="#f2b90c" />
<text x="77.95" y="104.25" font-size="3.9" text-anchor="middle" fill="#1a1a1a" font-weight="bold" >G</text>
<rect x="79.80" y="100.58" width="3.75" height="4.58" fill="#b80a2d" />
<text x="81.65" y="104.25" font-size="3.9" text-anchor="middle" fill="#1a1a1a" font-weight="bold" >T</text>
<rect x="83.50" y="100.58" width="3.75" height="4.58" fill="#f2b90c" />
<text x="85.35" y="104.25" font-size="3.9" text-anchor="middle" fill="#1a1a1a" font-weight="bold" >G</text>
<text x="106.10" y="103.85" font-size="5.0" text-anchor="middle" fill="#333" stroke="#333" stroke-width="0.06" textLength="6.10" lengthAdjust="spacingAndGlyphs" >16</text>
<rect x="13.20" y="105.11" width="3.75" height="4.58" fill="#4ea737" />
<text x="15.05" y="108.78" font-size="3.9" text-anchor="middle" fill="#1a1a1a" font-weight="bold" >A</text>
<rect x="18.15" y="106.78" width="1.20" height="1.20" fill="#2a2a2a" />
<rect x="21.85" y="106.78" width="1.20" height="1.20" fill="#2a2a2a" />
<rect x="25.55" y="106.78" width="1.20" height="1.20" fill="#2a2a2a" />
<rect x="29.25" y="106.78" width="1.20" height="1.20" fill="#2a2a2a" />
<rect x="32.95" y="106.78" width="1.20" height="1.20" fill="#2a2a2a" />
<rect x="36.65" y="106.78" width="1.20" height="1.20" fill="#2a2a2a" />
<rect x="39.10" y="105.11" width="3.75" height="4.58" fill="#b80a2d" />
<text x="40.95" y="108.78" font-size="3.9" text-anchor="middle" fill="#1a1a1a" font-weight="bold" >T</text>
<rect x="44.05" y="106.78" width="1.20" height="1.20" fill="#2a2a2a" />
<rect x="47.75" y="106.78" width="1.20" height="1.20" fill="#2a2a2a" />
<rect x="51.45" y="106.78" width="1.20" height="1.20" fill="#2a2a2a" />
<rect x="55.15" y="106.78" width="1.20" height="1.20" fill="#2a2a2a" />
<rect x="58.85" y="106.78" width="1.20" height="1.20" fill="#2a2a2a" />
<rect x="62.55" y="106.78" width="1.20" height="1.20" fill="#2a2a2a" />
<rect x="66.25" y="106.78" width="1.20" height="1.20" fill="#2a2a2a" />
<rect x="69.95" y="106.78" width="1.20" height="1.20" fill="#2a2a2a" />
<rect x="73.65" y="106.78" width="1.20" height="1.20" fill="#2a2a2a" />
<rect x="76.10" y="105.11" width="3.75" height="4.58" fill="#4ea737" />
<text x="77.95" y="108.78" font-size="3.9" text-anchor="middle" fill="#1a1a1a" font-weight="bold" >A</text>
<rect x="81.05" y="106.78" width="1.20" height="1.20" fill="#2a2a2a" />
<rect x="83.50" y="105.11" width="3.75" height="4.58" fill="#f2b90c" />
<text x="85.35" y="108.78" font-size="3.9" text-anchor="middle" fill="#1a1a1a" font-weight="bold" >G</text>
<text x="106.10" y="108.38" font-size="5.0" text-anchor="middle" fill="#333" stroke="#333" stroke-width="0.06" textLength="6.10" lengthAdjust="spacingAndGlyphs" >15</text>
<rect x="14.45" y="111.31" width="1.20" height="1.20" fill="#2a2a2a" />
<rect x="18.15" y="111.31" width="1.20" height="1.20" fill="#2a2a2a" />
<rect x="21.85" y="111.31" width="1.20" height="1.20" fill="#2a2a2a" />
<rect x="25.55" y="111.31" width="1.20" height="1.20" fill="#2a2a2a" />
<rect x="29.25" y="111.31" width="1.20" height="1.20" fill="#2a2a2a" />
<rect x="32.95" y="111.31" width="1.20" height="1.20" fill="#2a2a2a" />
<rect x="35.40" y="109.64" width="3.75" height="4.58" fill="#4ea737" />
<text x="37.25" y="113.31" font-size="3.9" text-anchor="middle" fill="#1a1a1a" font-weight="bold" >A</text>
<rect x="39.10" y="109.64" width="3.75" height="4.58" fill="#f2b90c" />
<text x="40.95" y="113.31" font-size="3.9" text-anchor="middle" fill="#1a1a1a" font-weight="bold" >G</text>
<rect x="44.05" y="111.31" width="1.20" height="1.20" fill="#2a2a2a" />
<rect x="47.75" y="111.31" width="1.20" height="1.20" fill="#2a2a2a" />
<rect x="51.45" y="111.31" width="1.20" height="1.20" fill="#2a2a2a" />
<rect x="55.15" y="111.31" width="1.20" height="1.20" fill="#2a2a2a" />
<rect x="58.85" y="111.31" width="1.20" height="1.20" fill="#2a2a2a" />
<rect x="62.55" y="111.31" width="1.20" height="1.20" fill="#2a2a2a" />
<rect x="66.25" y="111.31" width="1.20" height="1.20" fill="#2a2a2a" />
<rect x="69.95" y="111.31" width="1.20" height="1.20" fill="#2a2a2a" />
<rect x="73.65" y="111.31" width="1.20" height="1.20" fill="#2a2a2a" />
<rect x="77.35" y="111.31" width="1.20" height="1.20" fill="#2a2a2a" />
<rect x="81.05" y="111.31" width="1.20" height="1.20" fill="#2a2a2a" />
<rect x="83.50" y="109.64" width="3.75" height="4.58" fill="#b80a2d" />
<text x="85.35" y="113.31" font-size="3.9" text-anchor="middle" fill="#1a1a1a" font-weight="bold" >T</text>
<text x="106.10" y="112.91" font-size="5.0" text-anchor="middle" fill="#333" stroke="#333" stroke-width="0.06" textLength="6.10" lengthAdjust="spacingAndGlyphs" >13</text>
<rect x="14.45" y="115.84" width="1.20" height="1.20" fill="#2a2a2a" />
<rect x="16.90" y="114.17" width="3.75" height="4.58" fill="#4ea737" />
<text x="18.75" y="117.84" font-size="3.9" text-anchor="middle" fill="#1a1a1a" font-weight="bold" >A</text>
<rect x="21.85" y="115.84" width="1.20" height="1.20" fill="#2a2a2a" />
<rect x="25.55" y="115.84" width="1.20" height="1.20" fill="#2a2a2a" />
<rect x="29.25" y="115.84" width="1.20" height="1.20" fill="#2a2a2a" />
<rect x="32.95" y="115.84" width="1.20" height="1.20" fill="#2a2a2a" />
<rect x="35.40" y="114.17" width="3.75" height="4.58" fill="#4ea737" />
<text x="37.25" y="117.84" font-size="3.9" text-anchor="middle" fill="#1a1a1a" font-weight="bold" >A</text>
<rect x="39.10" y="114.17" width="3.75" height="4.58" fill="#4ea737" />
<text x="40.95" y="117.84" font-size="3.9" text-anchor="middle" fill="#1a1a1a" font-weight="bold" >A</text>
<rect x="44.05" y="115.84" width="1.20" height="1.20" fill="#2a2a2a" />
<rect x="47.75" y="115.84" width="1.20" height="1.20" fill="#2a2a2a" />
<rect x="51.45" y="115.84" width="1.20" height="1.20" fill="#2a2a2a" />
<rect x="55.15" y="115.84" width="1.20" height="1.20" fill="#2a2a2a" />
<rect x="58.85" y="115.84" width="1.20" height="1.20" fill="#2a2a2a" />
<rect x="62.55" y="115.84" width="1.20" height="1.20" fill="#2a2a2a" />
<rect x="66.25" y="115.84" width="1.20" height="1.20" fill="#2a2a2a" />
<rect x="69.95" y="115.84" width="1.20" height="1.20" fill="#2a2a2a" />
<rect x="73.65" y="115.84" width="1.20" height="1.20" fill="#2a2a2a" />
<rect x="77.35" y="115.84" width="1.20" height="1.20" fill="#2a2a2a" />
<rect x="81.05" y="115.84" width="1.20" height="1.20" fill="#2a2a2a" />
<rect x="84.75" y="115.84" width="1.20" height="1.20" fill="#2a2a2a" />
<text x="106.10" y="117.44" font-size="5.0" text-anchor="middle" fill="#333" stroke="#333" stroke-width="0.06" textLength="6.10" lengthAdjust="spacingAndGlyphs" >12</text>
<rect x="13.20" y="118.70" width="3.75" height="4.58" fill="#4ea737" />
<text x="15.05" y="122.37" font-size="3.9" text-anchor="middle" fill="#1a1a1a" font-weight="bold" >A</text>
<rect x="18.15" y="120.37" width="1.20" height="1.20" fill="#2a2a2a" />
<rect x="21.85" y="120.37" width="1.20" height="1.20" fill="#2a2a2a" />
<rect x="25.55" y="120.37" width="1.20" height="1.20" fill="#2a2a2a" />
<rect x="29.25" y="120.37" width="1.20" height="1.20" fill="#2a2a2a" />
<rect x="31.70" y="118.70" width="3.75" height="4.58" fill="#f2b90c" />
<text x="33.55" y="122.37" font-size="3.9" text-anchor="middle" fill="#1a1a1a" font-weight="bold" >G</text>
<rect x="36.65" y="120.37" width="1.20" height="1.20" fill="#2a2a2a" />
<rect x="39.10" y="118.70" width="3.75" height="4.58" fill="#4ea737" />
<text x="40.95" y="122.37" font-size="3.9" text-anchor="middle" fill="#1a1a1a" font-weight="bold" >A</text>
<rect x="44.05" y="120.37" width="1.20" height="1.20" fill="#2a2a2a" />
<rect x="47.75" y="120.37" width="1.20" height="1.20" fill="#2a2a2a" />
<rect x="51.45" y="120.37" width="1.20" height="1.20" fill="#2a2a2a" />
<rect x="55.15" y="120.37" width="1.20" height="1.20" fill="#2a2a2a" />
<rect x="58.85" y="120.37" width="1.20" height="1.20" fill="#2a2a2a" />
<rect x="62.55" y="120.37" width="1.20" height="1.20" fill="#2a2a2a" />
<rect x="66.25" y="120.37" width="1.20" height="1.20" fill="#2a2a2a" />
<rect x="69.95" y="120.37" width="1.20" height="1.20" fill="#2a2a2a" />
<rect x="73.65" y="120.37" width="1.20" height="1.20" fill="#2a2a2a" />
<rect x="77.35" y="120.37" width="1.20" height="1.20" fill="#2a2a2a" />
<rect x="81.05" y="120.37" width="1.20" height="1.20" fill="#2a2a2a" />
<rect x="84.75" y="120.37" width="1.20" height="1.20" fill="#2a2a2a" />
<text x="106.10" y="121.97" font-size="5.0" text-anchor="middle" fill="#333" stroke="#333" stroke-width="0.06" textLength="6.10" lengthAdjust="spacingAndGlyphs" >10</text>
<rect x="14.45" y="129.43" width="1.20" height="1.20" fill="#2a2a2a" />
<rect x="16.90" y="127.77" width="3.75" height="4.58" fill="#b80a2d" />
<text x="18.75" y="131.43" font-size="3.9" text-anchor="middle" fill="#1a1a1a" font-weight="bold" >T</text>
<rect x="21.85" y="129.43" width="1.20" height="1.20" fill="#2a2a2a" />
<rect x="25.55" y="129.43" width="1.20" height="1.20" fill="#2a2a2a" />
<rect x="29.25" y="129.43" width="1.20" height="1.20" fill="#2a2a2a" />
<rect x="32.95" y="129.43" width="1.20" height="1.20" fill="#2a2a2a" />
<rect x="36.65" y="129.43" width="1.20" height="1.20" fill="#2a2a2a" />
<rect x="39.10" y="127.77" width="3.75" height="4.58" fill="#f2b90c" />
<text x="40.95" y="131.43" font-size="3.9" text-anchor="middle" fill="#1a1a1a" font-weight="bold" >G</text>
<rect x="42.80" y="127.77" width="3.75" height="4.58" fill="#4ea737" />
<text x="44.65" y="131.43" font-size="3.9" text-anchor="middle" fill="#1a1a1a" font-weight="bold" >A</text>
<rect x="47.75" y="129.43" width="1.20" height="1.20" fill="#2a2a2a" />
<rect x="51.45" y="129.43" width="1.20" height="1.20" fill="#2a2a2a" />
<rect x="55.15" y="129.43" width="1.20" height="1.20" fill="#2a2a2a" />
<rect x="58.85" y="129.43" width="1.20" height="1.20" fill="#f2a6b8" />
<rect x="62.55" y="129.43" width="1.20" height="1.20" fill="#f2a6b8" />
<rect x="66.25" y="129.43" width="1.20" height="1.20" fill="#2a2a2a" />
<rect x="69.95" y="129.43" width="1.20" height="1.20" fill="#2a2a2a" />
<rect x="73.65" y="129.43" width="1.20" height="1.20" fill="#2a2a2a" />
<rect x="77.35" y="129.43" width="1.20" height="1.20" fill="#2a2a2a" />
<rect x="81.05" y="129.43" width="1.20" height="1.20" fill="#2a2a2a" />
<rect x="83.50" y="127.77" width="3.75" height="4.58" fill="#b80a2d" />
<text x="85.35" y="131.43" font-size="3.9" text-anchor="middle" fill="#1a1a1a" font-weight="bold" >T</text>
<text x="106.10" y="131.03" font-size="5.0" text-anchor="middle" fill="#333" stroke="#333" stroke-width="0.06" textLength="3.05" lengthAdjust="spacingAndGlyphs" >9</text>
<rect x="14.45" y="133.96" width="1.20" height="1.20" fill="#2a2a2a" />
<rect x="18.15" y="133.96" width="1.20" height="1.20" fill="#2a2a2a" />
<rect x="21.85" y="133.96" width="1.20" height="1.20" fill="#2a2a2a" />
<rect x="25.55" y="133.96" width="1.20" height="1.20" fill="#2a2a2a" />
<rect x="29.25" y="133.96" width="1.20" height="1.20" fill="#2a2a2a" />
<rect x="32.95" y="133.96" width="1.20" height="1.20" fill="#2a2a2a" />
<rect x="36.65" y="133.96" width="1.20" height="1.20" fill="#2a2a2a" />
<rect x="39.10" y="132.30" width="3.75" height="4.58" fill="#f2b90c" />
<text x="40.95" y="135.96" font-size="3.9" text-anchor="middle" fill="#1a1a1a" font-weight="bold" >G</text>
<rect x="42.80" y="132.30" width="3.75" height="4.58" fill="#4ea737" />
<text x="44.65" y="135.96" font-size="3.9" text-anchor="middle" fill="#1a1a1a" font-weight="bold" >A</text>
<rect x="47.75" y="133.96" width="1.20" height="1.20" fill="#2a2a2a" />
<rect x="51.45" y="133.96" width="1.20" height="1.20" fill="#2a2a2a" />
<rect x="55.15" y="133.96" width="1.20" height="1.20" fill="#2a2a2a" />
<rect x="58.85" y="133.96" width="1.20" height="1.20" fill="#2a2a2a" />
<rect x="62.55" y="133.96" width="1.20" height="1.20" fill="#2a2a2a" />
<rect x="66.25" y="133.96" width="1.20" height="1.20" fill="#2a2a2a" />
<rect x="69.95" y="133.96" width="1.20" height="1.20" fill="#2a2a2a" />
<rect x="73.65" y="133.96" width="1.20" height="1.20" fill="#2a2a2a" />
<rect x="76.10" y="132.30" width="3.75" height="4.58" fill="#4ea737" />
<text x="77.95" y="135.96" font-size="3.9" text-anchor="middle" fill="#1a1a1a" font-weight="bold" >A</text>
<rect x="81.05" y="133.96" width="1.20" height="1.20" fill="#2a2a2a" />
<rect x="84.75" y="133.96" width="1.20" height="1.20" fill="#2a2a2a" />
<text x="106.10" y="135.56" font-size="5.0" text-anchor="middle" fill="#333" stroke="#333" stroke-width="0.06" textLength="3.05" lengthAdjust="spacingAndGlyphs" >9</text>
<rect x="14.45" y="138.49" width="1.20" height="1.20" fill="#f2a6b8" />
<rect x="18.15" y="138.49" width="1.20" height="1.20" fill="#f2a6b8" />
<rect x="21.85" y="138.49" width="1.20" height="1.20" fill="#f2a6b8" />
<rect x="24.30" y="136.83" width="3.75" height="4.58" fill="#4ea737" />
<text x="26.15" y="140.49" font-size="3.9" text-anchor="middle" fill="#1a1a1a" font-weight="bold" >A</text>
<rect x="29.25" y="138.49" width="1.20" height="1.20" fill="#2a2a2a" />
<rect x="31.70" y="136.83" width="3.75" height="4.58" fill="#f2b90c" />
<text x="33.55" y="140.49" font-size="3.9" text-anchor="middle" fill="#1a1a1a" font-weight="bold" >G</text>
<rect x="36.65" y="138.49" width="1.20" height="1.20" fill="#2a2a2a" />
<rect x="39.10" y="136.83" width="3.75" height="4.58" fill="#b80a2d" />
<text x="40.95" y="140.49" font-size="3.9" text-anchor="middle" fill="#1a1a1a" font-weight="bold" >T</text>
<rect x="42.80" y="136.83" width="3.75" height="4.58" fill="#5aa8ec" />
<text x="44.65" y="140.49" font-size="3.9" text-anchor="middle" fill="#1a1a1a" font-weight="bold" >C</text>
<rect x="47.75" y="138.49" width="1.20" height="1.20" fill="#2a2a2a" />
<rect x="51.45" y="138.49" width="1.20" height="1.20" fill="#2a2a2a" />
<rect x="55.15" y="138.49" width="1.20" height="1.20" fill="#2a2a2a" />
<rect x="58.85" y="138.49" width="1.20" height="1.20" fill="#2a2a2a" />
<rect x="62.55" y="138.49" width="1.20" height="1.20" fill="#2a2a2a" />
<rect x="66.25" y="138.49" width="1.20" height="1.20" fill="#2a2a2a" />
<rect x="69.95" y="138.49" width="1.20" height="1.20" fill="#2a2a2a" />
<rect x="73.65" y="138.49" width="1.20" height="1.20" fill="#2a2a2a" />
<rect x="77.35" y="138.49" width="1.20" height="1.20" fill="#2a2a2a" />
<rect x="81.05" y="138.49" width="1.20" height="1.20" fill="#2a2a2a" />
<rect x="84.75" y="138.49" width="1.20" height="1.20" fill="#2a2a2a" />
<text x="106.10" y="140.09" font-size="5.0" text-anchor="middle" fill="#333" stroke="#333" stroke-width="0.06" textLength="3.05" lengthAdjust="spacingAndGlyphs" >9</text>
<rect x="14.45" y="143.02" width="1.20" height="1.20" fill="#2a2a2a" />
<rect x="18.15" y="143.02" width="1.20" height="1.20" fill="#2a2a2a" />
<rect x="21.85" y="143.02" width="1.20" height="1.20" fill="#2a2a2a" />
<rect x="25.55" y="143.02" width="1.20" height="1.20" fill="#2a2a2a" />
<rect x="29.25" y="143.02" width="1.20" height="1.20" fill="#2a2a2a" />
<rect x="32.95" y="143.02" width="1.20" height="1.20" fill="#2a2a2a" />
<rect x="36.65" y="143.02" width="1.20" height="1.20" fill="#2a2a2a" />
<rect x="39.10" y="141.36" width="3.75" height="4.58" fill="#4ea737" />
<text x="40.95" y="145.02" font-size="3.9" text-anchor="middle" fill="#1a1a1a" font-weight="bold" >A</text>
<rect x="44.05" y="143.02" width="1.20" height="1.20" fill="#2a2a2a" />
<rect x="47.75" y="143.02" width="1.20" height="1.20" fill="#2a2a2a" />
<rect x="51.45" y="143.02" width="1.20" height="1.20" fill="#2a2a2a" />
<rect x="55.15" y="143.02" width="1.20" height="1.20" fill="#2a2a2a" />
<rect x="58.85" y="143.02" width="1.20" height="1.20" fill="#2a2a2a" />
<rect x="62.55" y="143.02" width="1.20" height="1.20" fill="#f2a6b8" />
<rect x="66.25" y="143.02" width="1.20" height="1.20" fill="#2a2a2a" />
<rect x="69.95" y="143.02" width="1.20" height="1.20" fill="#2a2a2a" />
<rect x="73.65" y="143.02" width="1.20" height="1.20" fill="#2a2a2a" />
<rect x="77.35" y="143.02" width="1.20" height="1.20" fill="#2a2a2a" />
<rect x="81.05" y="143.02" width="1.20" height="1.20" fill="#2a2a2a" />
<rect x="84.75" y="143.02" width="1.20" height="1.20" fill="#2a2a2a" />
<text x="106.10" y="144.62" font-size="5.0" text-anchor="middle" fill="#333" stroke="#333" stroke-width="0.06" textLength="3.05" lengthAdjust="spacingAndGlyphs" >9</text>
<rect x="13.20" y="145.89" width="3.75" height="4.58" fill="#f2b90c" />
<text x="15.05" y="149.55" font-size="3.9" text-anchor="middle" fill="#1a1a1a" font-weight="bold" >G</text>
<rect x="18.15" y="147.55" width="1.20" height="1.20" fill="#2a2a2a" />
<rect x="21.85" y="147.55" width="1.20" height="1.20" fill="#2a2a2a" />
<rect x="25.55" y="147.55" width="1.20" height="1.20" fill="#2a2a2a" />
<rect x="29.25" y="147.55" width="1.20" height="1.20" fill="#2a2a2a" />
<rect x="32.95" y="147.55" width="1.20" height="1.20" fill="#2a2a2a" />
<rect x="36.65" y="147.55" width="1.20" height="1.20" fill="#2a2a2a" />
<rect x="40.35" y="147.55" width="1.20" height="1.20" fill="#2a2a2a" />
<rect x="42.80" y="145.89" width="3.75" height="4.58" fill="#4ea737" />
<text x="44.65" y="149.55" font-size="3.9" text-anchor="middle" fill="#1a1a1a" font-weight="bold" >A</text>
<rect x="46.50" y="145.89" width="3.75" height="4.58" fill="#f2b90c" />
<text x="48.35" y="149.55" font-size="3.9" text-anchor="middle" fill="#1a1a1a" font-weight="bold" >G</text>
<rect x="51.45" y="147.55" width="1.20" height="1.20" fill="#2a2a2a" />
<rect x="55.15" y="147.55" width="1.20" height="1.20" fill="#2a2a2a" />
<rect x="58.85" y="147.55" width="1.20" height="1.20" fill="#2a2a2a" />
<rect x="62.55" y="147.55" width="1.20" height="1.20" fill="#2a2a2a" />
<rect x="66.25" y="147.55" width="1.20" height="1.20" fill="#2a2a2a" />
<rect x="69.95" y="147.55" width="1.20" height="1.20" fill="#2a2a2a" />
<rect x="73.65" y="147.55" width="1.20" height="1.20" fill="#2a2a2a" />
<rect x="77.35" y="147.55" width="1.20" height="1.20" fill="#2a2a2a" />
<rect x="81.05" y="147.55" width="1.20" height="1.20" fill="#2a2a2a" />
<rect x="83.50" y="145.89" width="3.75" height="4.58" fill="#f2b90c" />
<text x="85.35" y="149.55" font-size="3.9" text-anchor="middle" fill="#1a1a1a" font-weight="bold" >G</text>
<text x="106.10" y="149.15" font-size="5.0" text-anchor="middle" fill="#333" stroke="#333" stroke-width="0.06" textLength="3.05" lengthAdjust="spacingAndGlyphs" >8</text>
<rect x="13.20" y="150.42" width="3.75" height="4.58" fill="#f2b90c" />
<text x="15.05" y="154.08" font-size="3.9" text-anchor="middle" fill="#1a1a1a" font-weight="bold" >G</text>
<rect x="18.15" y="152.08" width="1.20" height="1.20" fill="#2a2a2a" />
<rect x="21.85" y="152.08" width="1.20" height="1.20" fill="#2a2a2a" />
<rect x="24.30" y="150.42" width="3.75" height="4.58" fill="#4ea737" />
<text x="26.15" y="154.08" font-size="3.9" text-anchor="middle" fill="#1a1a1a" font-weight="bold" >A</text>
<rect x="29.25" y="152.08" width="1.20" height="1.20" fill="#2a2a2a" />
<rect x="32.95" y="152.08" width="1.20" height="1.20" fill="#2a2a2a" />
<rect x="36.65" y="152.08" width="1.20" height="1.20" fill="#2a2a2a" />
<rect x="40.35" y="152.08" width="1.20" height="1.20" fill="#2a2a2a" />
<rect x="42.80" y="150.42" width="3.75" height="4.58" fill="#4ea737" />
<text x="44.65" y="154.08" font-size="3.9" text-anchor="middle" fill="#1a1a1a" font-weight="bold" >A</text>
<rect x="47.75" y="152.08" width="1.20" height="1.20" fill="#2a2a2a" />
<rect x="51.45" y="152.08" width="1.20" height="1.20" fill="#2a2a2a" />
<rect x="55.15" y="152.08" width="1.20" height="1.20" fill="#2a2a2a" />
<rect x="58.85" y="152.08" width="1.20" height="1.20" fill="#f2a6b8" />
<rect x="62.55" y="152.08" width="1.20" height="1.20" fill="#2a2a2a" />
<rect x="66.25" y="152.08" width="1.20" height="1.20" fill="#2a2a2a" />
<rect x="68.70" y="150.42" width="3.75" height="4.58" fill="#b80a2d" />
<text x="70.55" y="154.08" font-size="3.9" text-anchor="middle" fill="#1a1a1a" font-weight="bold" >T</text>
<rect x="72.40" y="150.42" width="3.75" height="4.58" fill="#b80a2d" />
<text x="74.25" y="154.08" font-size="3.9" text-anchor="middle" fill="#1a1a1a" font-weight="bold" >T</text>
<rect x="77.35" y="152.08" width="1.20" height="1.20" fill="#2a2a2a" />
<rect x="79.80" y="150.42" width="3.75" height="4.58" fill="#4ea737" />
<text x="81.65" y="154.08" font-size="3.9" text-anchor="middle" fill="#1a1a1a" font-weight="bold" >A</text>
<rect x="84.75" y="152.08" width="1.20" height="1.20" fill="#2a2a2a" />
<text x="106.10" y="153.68" font-size="5.0" text-anchor="middle" fill="#333" stroke="#333" stroke-width="0.06" textLength="3.05" lengthAdjust="spacingAndGlyphs" >7</text>
<rect x="14.45" y="156.61" width="1.20" height="1.20" fill="#2a2a2a" />
<rect x="18.15" y="156.61" width="1.20" height="1.20" fill="#2a2a2a" />
<rect x="21.85" y="156.61" width="1.20" height="1.20" fill="#2a2a2a" />
<rect x="24.30" y="154.95" width="3.75" height="4.58" fill="#4ea737" />
<text x="26.15" y="158.61" font-size="3.9" text-anchor="middle" fill="#1a1a1a" font-weight="bold" >A</text>
<rect x="29.25" y="156.61" width="1.20" height="1.20" fill="#2a2a2a" />
<rect x="32.95" y="156.61" width="1.20" height="1.20" fill="#2a2a2a" />
<rect x="36.65" y="156.61" width="1.20" height="1.20" fill="#2a2a2a" />
<rect x="40.35" y="156.61" width="1.20" height="1.20" fill="#2a2a2a" />
<rect x="44.05" y="156.61" width="1.20" height="1.20" fill="#2a2a2a" />
<rect x="47.75" y="156.61" width="1.20" height="1.20" fill="#2a2a2a" />
<rect x="51.45" y="156.61" width="1.20" height="1.20" fill="#2a2a2a" />
<rect x="55.15" y="156.61" width="1.20" height="1.20" fill="#2a2a2a" />
<rect x="58.85" y="156.61" width="1.20" height="1.20" fill="#2a2a2a" />
<rect x="62.55" y="156.61" width="1.20" height="1.20" fill="#2a2a2a" />
<rect x="66.25" y="156.61" width="1.20" height="1.20" fill="#2a2a2a" />
<rect x="69.95" y="156.61" width="1.20" height="1.20" fill="#2a2a2a" />
<rect x="73.65" y="156.61" width="1.20" height="1.20" fill="#2a2a2a" />
<rect x="76.10" y="154.95" width="3.75" height="4.58" fill="#f2b90c" />
<text x="77.95" y="158.61" font-size="3.9" text-anchor="middle" fill="#1a1a1a" font-weight="bold" >G</text>
<rect x="81.05" y="156.61" width="1.20" height="1.20" fill="#2a2a2a" />
<rect x="84.75" y="156.61" width="1.20" height="1.20" fill="#2a2a2a" />
<text x="106.10" y="158.21" font-size="5.0" text-anchor="middle" fill="#333" stroke="#333" stroke-width="0.06" textLength="3.05" lengthAdjust="spacingAndGlyphs" >6</text>
<rect x="13.20" y="159.48" width="3.75" height="4.58" fill="#f2b90c" />
<text x="15.05" y="163.14" font-size="3.9" text-anchor="middle" fill="#1a1a1a" font-weight="bold" >G</text>
<rect x="16.90" y="159.48" width="3.75" height="4.58" fill="#5aa8ec" />
<text x="18.75" y="163.14" font-size="3.9" text-anchor="middle" fill="#1a1a1a" font-weight="bold" >C</text>
<rect x="21.85" y="161.14" width="1.20" height="1.20" fill="#2a2a2a" />
<rect x="25.55" y="161.14" width="1.20" height="1.20" fill="#2a2a2a" />
<rect x="29.25" y="161.14" width="1.20" height="1.20" fill="#2a2a2a" />
<rect x="31.70" y="159.48" width="3.75" height="4.58" fill="#f2b90c" />
<text x="33.55" y="163.14" font-size="3.9" text-anchor="middle" fill="#1a1a1a" font-weight="bold" >G</text>
<rect x="36.65" y="161.14" width="1.20" height="1.20" fill="#2a2a2a" />
<rect x="39.10" y="159.48" width="3.75" height="4.58" fill="#f2b90c" />
<text x="40.95" y="163.14" font-size="3.9" text-anchor="middle" fill="#1a1a1a" font-weight="bold" >G</text>
<rect x="42.80" y="159.48" width="3.75" height="4.58" fill="#4ea737" />
<text x="44.65" y="163.14" font-size="3.9" text-anchor="middle" fill="#1a1a1a" font-weight="bold" >A</text>
<rect x="47.75" y="161.14" width="1.20" height="1.20" fill="#2a2a2a" />
<rect x="51.45" y="161.14" width="1.20" height="1.20" fill="#2a2a2a" />
<rect x="55.15" y="161.14" width="1.20" height="1.20" fill="#2a2a2a" />
<rect x="58.85" y="161.14" width="1.20" height="1.20" fill="#2a2a2a" />
<rect x="62.55" y="161.14" width="1.20" height="1.20" fill="#2a2a2a" />
<rect x="66.25" y="161.14" width="1.20" height="1.20" fill="#2a2a2a" />
<rect x="69.95" y="161.14" width="1.20" height="1.20" fill="#2a2a2a" />
<rect x="73.65" y="161.14" width="1.20" height="1.20" fill="#2a2a2a" />
<rect x="77.35" y="161.14" width="1.20" height="1.20" fill="#2a2a2a" />
<rect x="81.05" y="161.14" width="1.20" height="1.20" fill="#2a2a2a" />
<rect x="84.75" y="161.14" width="1.20" height="1.20" fill="#2a2a2a" />
<text x="106.10" y="162.74" font-size="5.0" text-anchor="middle" fill="#333" stroke="#333" stroke-width="0.06" textLength="3.05" lengthAdjust="spacingAndGlyphs" >6</text>
<rect x="13.20" y="164.01" width="3.75" height="4.58" fill="#4ea737" />
<text x="15.05" y="167.67" font-size="3.9" text-anchor="middle" fill="#1a1a1a" font-weight="bold" >A</text>
<rect x="16.90" y="164.01" width="3.75" height="4.58" fill="#5aa8ec" />
<text x="18.75" y="167.67" font-size="3.9" text-anchor="middle" fill="#1a1a1a" font-weight="bold" >C</text>
<rect x="21.85" y="165.67" width="1.20" height="1.20" fill="#2a2a2a" />
<rect x="25.55" y="165.67" width="1.20" height="1.20" fill="#2a2a2a" />
<rect x="29.25" y="165.67" width="1.20" height="1.20" fill="#2a2a2a" />
<rect x="31.70" y="164.01" width="3.75" height="4.58" fill="#f2b90c" />
<text x="33.55" y="167.67" font-size="3.9" text-anchor="middle" fill="#1a1a1a" font-weight="bold" >G</text>
<rect x="35.40" y="164.01" width="3.75" height="4.58" fill="#4ea737" />
<text x="37.25" y="167.67" font-size="3.9" text-anchor="middle" fill="#1a1a1a" font-weight="bold" >A</text>
<rect x="40.35" y="165.67" width="1.20" height="1.20" fill="#2a2a2a" />
<rect x="42.80" y="164.01" width="3.75" height="4.58" fill="#4ea737" />
<text x="44.65" y="167.67" font-size="3.9" text-anchor="middle" fill="#1a1a1a" font-weight="bold" >A</text>
<rect x="47.75" y="165.67" width="1.20" height="1.20" fill="#2a2a2a" />
<rect x="51.45" y="165.67" width="1.20" height="1.20" fill="#2a2a2a" />
<rect x="55.15" y="165.67" width="1.20" height="1.20" fill="#2a2a2a" />
<rect x="58.85" y="165.67" width="1.20" height="1.20" fill="#2a2a2a" />
<rect x="62.55" y="165.67" width="1.20" height="1.20" fill="#2a2a2a" />
<rect x="66.25" y="165.67" width="1.20" height="1.20" fill="#2a2a2a" />
<rect x="69.95" y="165.67" width="1.20" height="1.20" fill="#2a2a2a" />
<rect x="73.65" y="165.67" width="1.20" height="1.20" fill="#2a2a2a" />
<rect x="77.35" y="165.67" width="1.20" height="1.20" fill="#2a2a2a" />
<rect x="81.05" y="165.67" width="1.20" height="1.20" fill="#2a2a2a" />
<rect x="83.50" y="164.01" width="3.75" height="4.58" fill="#b80a2d" />
<text x="85.35" y="167.67" font-size="3.9" text-anchor="middle" fill="#1a1a1a" font-weight="bold" >T</text>
<text x="106.10" y="167.27" font-size="5.0" text-anchor="middle" fill="#333" stroke="#333" stroke-width="0.06" textLength="3.05" lengthAdjust="spacingAndGlyphs" >5</text>
<rect x="13.20" y="168.54" width="3.75" height="4.58" fill="#f2b90c" />
<text x="15.05" y="172.20" font-size="3.9" text-anchor="middle" fill="#1a1a1a" font-weight="bold" >G</text>
<rect x="18.15" y="170.20" width="1.20" height="1.20" fill="#2a2a2a" />
<rect x="21.85" y="170.20" width="1.20" height="1.20" fill="#2a2a2a" />
<rect x="25.55" y="170.20" width="1.20" height="1.20" fill="#2a2a2a" />
<rect x="29.25" y="170.20" width="1.20" height="1.20" fill="#2a2a2a" />
<rect x="32.95" y="170.20" width="1.20" height="1.20" fill="#2a2a2a" />
<rect x="35.40" y="168.54" width="3.75" height="4.58" fill="#4ea737" />
<text x="37.25" y="172.20" font-size="3.9" text-anchor="middle" fill="#1a1a1a" font-weight="bold" >A</text>
<rect x="40.35" y="170.20" width="1.20" height="1.20" fill="#2a2a2a" />
<rect x="42.80" y="168.54" width="3.75" height="4.58" fill="#4ea737" />
<text x="44.65" y="172.20" font-size="3.9" text-anchor="middle" fill="#1a1a1a" font-weight="bold" >A</text>
<rect x="47.75" y="170.20" width="1.20" height="1.20" fill="#2a2a2a" />
<rect x="51.45" y="170.20" width="1.20" height="1.20" fill="#2a2a2a" />
<rect x="55.15" y="170.20" width="1.20" height="1.20" fill="#2a2a2a" />
<rect x="58.85" y="170.20" width="1.20" height="1.20" fill="#2a2a2a" />
<rect x="62.55" y="170.20" width="1.20" height="1.20" fill="#2a2a2a" />
<rect x="66.25" y="170.20" width="1.20" height="1.20" fill="#2a2a2a" />
<rect x="69.95" y="170.20" width="1.20" height="1.20" fill="#2a2a2a" />
<rect x="73.65" y="170.20" width="1.20" height="1.20" fill="#2a2a2a" />
<rect x="76.10" y="168.54" width="3.75" height="4.58" fill="#f2b90c" />
<text x="77.95" y="172.20" font-size="3.9" text-anchor="middle" fill="#1a1a1a" font-weight="bold" >G</text>
<rect x="79.80" y="168.54" width="3.75" height="4.58" fill="#5aa8ec" />
<text x="81.65" y="172.20" font-size="3.9" text-anchor="middle" fill="#1a1a1a" font-weight="bold" >C</text>
<rect x="84.75" y="170.20" width="1.20" height="1.20" fill="#2a2a2a" />
<text x="106.10" y="171.80" font-size="5.0" text-anchor="middle" fill="#333" stroke="#333" stroke-width="0.06" textLength="3.05" lengthAdjust="spacingAndGlyphs" >4</text>
<rect x="14.45" y="174.73" width="1.20" height="1.20" fill="#2a2a2a" />
<rect x="18.15" y="174.73" width="1.20" height="1.20" fill="#2a2a2a" />
<rect x="21.85" y="174.73" width="1.20" height="1.20" fill="#2a2a2a" />
<rect x="25.55" y="174.73" width="1.20" height="1.20" fill="#2a2a2a" />
<rect x="29.25" y="174.73" width="1.20" height="1.20" fill="#2a2a2a" />
<rect x="32.95" y="174.73" width="1.20" height="1.20" fill="#2a2a2a" />
<rect x="35.40" y="173.07" width="3.75" height="4.58" fill="#4ea737" />
<text x="37.25" y="176.73" font-size="3.9" text-anchor="middle" fill="#1a1a1a" font-weight="bold" >A</text>
<rect x="39.10" y="173.07" width="3.75" height="4.58" fill="#f2b90c" />
<text x="40.95" y="176.73" font-size="3.9" text-anchor="middle" fill="#1a1a1a" font-weight="bold" >G</text>
<rect x="42.80" y="173.07" width="3.75" height="4.58" fill="#4ea737" />
<text x="44.65" y="176.73" font-size="3.9" text-anchor="middle" fill="#1a1a1a" font-weight="bold" >A</text>
<rect x="47.75" y="174.73" width="1.20" height="1.20" fill="#2a2a2a" />
<rect x="51.45" y="174.73" width="1.20" height="1.20" fill="#2a2a2a" />
<rect x="55.15" y="174.73" width="1.20" height="1.20" fill="#2a2a2a" />
<rect x="58.85" y="174.73" width="1.20" height="1.20" fill="#2a2a2a" />
<rect x="62.55" y="174.73" width="1.20" height="1.20" fill="#2a2a2a" />
<rect x="66.25" y="174.73" width="1.20" height="1.20" fill="#2a2a2a" />
<rect x="69.95" y="174.73" width="1.20" height="1.20" fill="#2a2a2a" />
<rect x="73.65" y="174.73" width="1.20" height="1.20" fill="#2a2a2a" />
<rect x="77.35" y="174.73" width="1.20" height="1.20" fill="#2a2a2a" />
<rect x="81.05" y="174.73" width="1.20" height="1.20" fill="#2a2a2a" />
<rect x="84.75" y="174.73" width="1.20" height="1.20" fill="#2a2a2a" />
<text x="106.10" y="176.33" font-size="5.0" text-anchor="middle" fill="#333" stroke="#333" stroke-width="0.06" textLength="3.05" lengthAdjust="spacingAndGlyphs" >4</text>
<rect x="14.45" y="179.26" width="1.20" height="1.20" fill="#2a2a2a" />
<rect x="18.15" y="179.26" width="1.20" height="1.20" fill="#2a2a2a" />
<rect x="21.85" y="179.26" width="1.20" height="1.20" fill="#2a2a2a" />
<rect x="25.55" y="179.26" width="1.20" height="1.20" fill="#2a2a2a" />
<rect x="28.00" y="177.60" width="3.75" height="4.58" fill="#f2b90c" />
<text x="29.85" y="181.26" font-size="3.9" text-anchor="middle" fill="#1a1a1a" font-weight="bold" >G</text>
<rect x="32.95" y="179.26" width="1.20" height="1.20" fill="#2a2a2a" />
<rect x="36.65" y="179.26" width="1.20" height="1.20" fill="#2a2a2a" />
<rect x="39.10" y="177.60" width="3.75" height="4.58" fill="#b80a2d" />
<text x="40.95" y="181.26" font-size="3.9" text-anchor="middle" fill="#1a1a1a" font-weight="bold" >T</text>
<rect x="44.05" y="179.26" width="1.20" height="1.20" fill="#2a2a2a" />
<rect x="47.75" y="179.26" width="1.20" height="1.20" fill="#2a2a2a" />
<rect x="51.45" y="179.26" width="1.20" height="1.20" fill="#2a2a2a" />
<rect x="55.15" y="179.26" width="1.20" height="1.20" fill="#2a2a2a" />
<rect x="58.85" y="179.26" width="1.20" height="1.20" fill="#2a2a2a" />
<rect x="62.55" y="179.26" width="1.20" height="1.20" fill="#2a2a2a" />
<rect x="66.25" y="179.26" width="1.20" height="1.20" fill="#2a2a2a" />
<rect x="69.95" y="179.26" width="1.20" height="1.20" fill="#2a2a2a" />
<rect x="73.65" y="179.26" width="1.20" height="1.20" fill="#2a2a2a" />
<rect x="77.35" y="179.26" width="1.20" height="1.20" fill="#2a2a2a" />
<rect x="81.05" y="179.26" width="1.20" height="1.20" fill="#2a2a2a" />
<rect x="83.50" y="177.60" width="3.75" height="4.58" fill="#f2b90c" />
<text x="85.35" y="181.26" font-size="3.9" text-anchor="middle" fill="#1a1a1a" font-weight="bold" >G</text>
<text x="106.10" y="180.86" font-size="5.0" text-anchor="middle" fill="#333" stroke="#333" stroke-width="0.06" textLength="3.05" lengthAdjust="spacingAndGlyphs" >4</text>
<rect x="14.45" y="183.79" width="1.20" height="1.20" fill="#2a2a2a" />
<rect x="18.15" y="183.79" width="1.20" height="1.20" fill="#2a2a2a" />
<rect x="21.85" y="183.79" width="1.20" height="1.20" fill="#2a2a2a" />
<rect x="25.55" y="183.79" width="1.20" height="1.20" fill="#2a2a2a" />
<rect x="29.25" y="183.79" width="1.20" height="1.20" fill="#2a2a2a" />
<rect x="32.95" y="183.79" width="1.20" height="1.20" fill="#2a2a2a" />
<rect x="36.65" y="183.79" width="1.20" height="1.20" fill="#2a2a2a" />
<rect x="40.35" y="183.79" width="1.20" height="1.20" fill="#2a2a2a" />
<rect x="42.80" y="182.13" width="3.75" height="4.58" fill="#4ea737" />
<text x="44.65" y="185.79" font-size="3.9" text-anchor="middle" fill="#1a1a1a" font-weight="bold" >A</text>
<rect x="46.50" y="182.13" width="3.75" height="4.58" fill="#f2b90c" />
<text x="48.35" y="185.79" font-size="3.9" text-anchor="middle" fill="#1a1a1a" font-weight="bold" >G</text>
<rect x="51.45" y="183.79" width="1.20" height="1.20" fill="#2a2a2a" />
<rect x="55.15" y="183.79" width="1.20" height="1.20" fill="#2a2a2a" />
<rect x="58.85" y="183.79" width="1.20" height="1.20" fill="#2a2a2a" />
<rect x="62.55" y="183.79" width="1.20" height="1.20" fill="#2a2a2a" />
<rect x="66.25" y="183.79" width="1.20" height="1.20" fill="#2a2a2a" />
<rect x="69.95" y="183.79" width="1.20" height="1.20" fill="#2a2a2a" />
<rect x="73.65" y="183.79" width="1.20" height="1.20" fill="#2a2a2a" />
<rect x="77.35" y="183.79" width="1.20" height="1.20" fill="#2a2a2a" />
<rect x="81.05" y="183.79" width="1.20" height="1.20" fill="#2a2a2a" />
<rect x="84.75" y="183.79" width="1.20" height="1.20" fill="#2a2a2a" />
<text x="106.10" y="185.39" font-size="5.0" text-anchor="middle" fill="#333" stroke="#333" stroke-width="0.06" textLength="3.05" lengthAdjust="spacingAndGlyphs" >4</text>
<rect x="13.20" y="186.66" width="3.75" height="4.58" fill="#4ea737" />
<text x="15.05" y="190.32" font-size="3.9" text-anchor="middle" fill="#1a1a1a" font-weight="bold" >A</text>
<rect x="18.15" y="188.32" width="1.20" height="1.20" fill="#2a2a2a" />
<rect x="21.85" y="188.32" width="1.20" height="1.20" fill="#2a2a2a" />
<rect x="25.55" y="188.32" width="1.20" height="1.20" fill="#2a2a2a" />
<rect x="29.25" y="188.32" width="1.20" height="1.20" fill="#2a2a2a" />
<rect x="32.95" y="188.32" width="1.20" height="1.20" fill="#2a2a2a" />
<rect x="35.40" y="186.66" width="3.75" height="4.58" fill="#4ea737" />
<text x="37.25" y="190.32" font-size="3.9" text-anchor="middle" fill="#1a1a1a" font-weight="bold" >A</text>
<rect x="39.10" y="186.66" width="3.75" height="4.58" fill="#4ea737" />
<text x="40.95" y="190.32" font-size="3.9" text-anchor="middle" fill="#1a1a1a" font-weight="bold" >A</text>
<rect x="44.05" y="188.32" width="1.20" height="1.20" fill="#2a2a2a" />
<rect x="47.75" y="188.32" width="1.20" height="1.20" fill="#2a2a2a" />
<rect x="51.45" y="188.32" width="1.20" height="1.20" fill="#2a2a2a" />
<rect x="55.15" y="188.32" width="1.20" height="1.20" fill="#2a2a2a" />
<rect x="58.85" y="188.32" width="1.20" height="1.20" fill="#2a2a2a" />
<rect x="62.55" y="188.32" width="1.20" height="1.20" fill="#2a2a2a" />
<rect x="66.25" y="188.32" width="1.20" height="1.20" fill="#2a2a2a" />
<rect x="69.95" y="188.32" width="1.20" height="1.20" fill="#2a2a2a" />
<rect x="73.65" y="188.32" width="1.20" height="1.20" fill="#2a2a2a" />
<rect x="77.35" y="188.32" width="1.20" height="1.20" fill="#2a2a2a" />
<rect x="81.05" y="188.32" width="1.20" height="1.20" fill="#2a2a2a" />
<rect x="84.75" y="188.32" width="1.20" height="1.20" fill="#2a2a2a" />
<text x="106.10" y="189.92" font-size="5.0" text-anchor="middle" fill="#333" stroke="#333" stroke-width="0.06" textLength="3.05" lengthAdjust="spacingAndGlyphs" >4</text>
<rect x="14.45" y="192.85" width="1.20" height="1.20" fill="#2a2a2a" />
<rect x="16.90" y="191.19" width="3.75" height="4.58" fill="#5aa8ec" />
<text x="18.75" y="194.85" font-size="3.9" text-anchor="middle" fill="#1a1a1a" font-weight="bold" >C</text>
<rect x="20.60" y="191.19" width="3.75" height="4.58" fill="#5aa8ec" />
<text x="22.45" y="194.85" font-size="3.9" text-anchor="middle" fill="#1a1a1a" font-weight="bold" >C</text>
<rect x="24.30" y="191.19" width="3.75" height="4.58" fill="#5aa8ec" />
<text x="26.15" y="194.85" font-size="3.9" text-anchor="middle" fill="#1a1a1a" font-weight="bold" >C</text>
<rect x="29.25" y="192.85" width="1.20" height="1.20" fill="#2a2a2a" />
<rect x="32.95" y="192.85" width="1.20" height="1.20" fill="#2a2a2a" />
<rect x="36.65" y="192.85" width="1.20" height="1.20" fill="#2a2a2a" />
<rect x="40.35" y="192.85" width="1.20" height="1.20" fill="#2a2a2a" />
<rect x="42.80" y="191.19" width="3.75" height="4.58" fill="#5aa8ec" />
<text x="44.65" y="194.85" font-size="3.9" text-anchor="middle" fill="#1a1a1a" font-weight="bold" >C</text>
<rect x="47.75" y="192.85" width="1.20" height="1.20" fill="#2a2a2a" />
<rect x="51.45" y="192.85" width="1.20" height="1.20" fill="#2a2a2a" />
<rect x="55.15" y="192.85" width="1.20" height="1.20" fill="#2a2a2a" />
<rect x="58.85" y="192.85" width="1.20" height="1.20" fill="#2a2a2a" />
<rect x="62.55" y="192.85" width="1.20" height="1.20" fill="#2a2a2a" />
<rect x="66.25" y="192.85" width="1.20" height="1.20" fill="#2a2a2a" />
<rect x="69.95" y="192.85" width="1.20" height="1.20" fill="#2a2a2a" />
<rect x="73.65" y="192.85" width="1.20" height="1.20" fill="#2a2a2a" />
<rect x="77.35" y="192.85" width="1.20" height="1.20" fill="#2a2a2a" />
<rect x="79.80" y="191.19" width="3.75" height="4.58" fill="#4ea737" />
<text x="81.65" y="194.85" font-size="3.9" text-anchor="middle" fill="#1a1a1a" font-weight="bold" >A</text>
<rect x="84.75" y="192.85" width="1.20" height="1.20" fill="#2a2a2a" />
<text x="106.10" y="194.45" font-size="5.0" text-anchor="middle" fill="#333" stroke="#333" stroke-width="0.06" textLength="3.05" lengthAdjust="spacingAndGlyphs" >2</text>
<rect x="14.45" y="197.38" width="1.20" height="1.20" fill="#2a2a2a" />
<rect x="18.15" y="197.38" width="1.20" height="1.20" fill="#2a2a2a" />
<rect x="21.85" y="197.38" width="1.20" height="1.20" fill="#2a2a2a" />
<rect x="25.55" y="197.38" width="1.20" height="1.20" fill="#2a2a2a" />
<rect x="29.25" y="197.38" width="1.20" height="1.20" fill="#2a2a2a" />
<rect x="32.95" y="197.38" width="1.20" height="1.20" fill="#2a2a2a" />
<rect x="36.65" y="197.38" width="1.20" height="1.20" fill="#2a2a2a" />
<rect x="40.35" y="197.38" width="1.20" height="1.20" fill="#2a2a2a" />
<rect x="44.05" y="197.38" width="1.20" height="1.20" fill="#2a2a2a" />
<rect x="47.75" y="197.38" width="1.20" height="1.20" fill="#2a2a2a" />
<rect x="51.45" y="197.38" width="1.20" height="1.20" fill="#2a2a2a" />
<rect x="55.15" y="197.38" width="1.20" height="1.20" fill="#2a2a2a" />
<rect x="58.85" y="197.38" width="1.20" height="1.20" fill="#2a2a2a" />
<rect x="62.55" y="197.38" width="1.20" height="1.20" fill="#2a2a2a" />
<rect x="66.25" y="197.38" width="1.20" height="1.20" fill="#2a2a2a" />
<rect x="69.95" y="197.38" width="1.20" height="1.20" fill="#2a2a2a" />
<rect x="73.65" y="197.38" width="1.20" height="1.20" fill="#2a2a2a" />
<rect x="77.35" y="197.38" width="1.20" height="1.20" fill="#2a2a2a" />
<rect x="81.05" y="197.38" width="1.20" height="1.20" fill="#2a2a2a" />
<rect x="84.75" y="197.38" width="1.20" height="1.20" fill="#2a2a2a" />
<text x="106.10" y="198.98" font-size="5.0" text-anchor="middle" fill="#333" stroke="#333" stroke-width="0.06" textLength="3.05" lengthAdjust="spacingAndGlyphs" >2</text>
<rect x="14.45" y="201.91" width="1.20" height="1.20" fill="#2a2a2a" />
<rect x="18.15" y="201.91" width="1.20" height="1.20" fill="#2a2a2a" />
<rect x="21.85" y="201.91" width="1.20" height="1.20" fill="#2a2a2a" />
<rect x="25.55" y="201.91" width="1.20" height="1.20" fill="#2a2a2a" />
<rect x="29.25" y="201.91" width="1.20" height="1.20" fill="#2a2a2a" />
<rect x="32.95" y="201.91" width="1.20" height="1.20" fill="#2a2a2a" />
<rect x="36.65" y="201.91" width="1.20" height="1.20" fill="#2a2a2a" />
<rect x="40.35" y="201.91" width="1.20" height="1.20" fill="#2a2a2a" />
<rect x="42.80" y="200.25" width="3.75" height="4.58" fill="#4ea737" />
<text x="44.65" y="203.91" font-size="3.9" text-anchor="middle" fill="#1a1a1a" font-weight="bold" >A</text>
<rect x="46.50" y="200.25" width="3.75" height="4.58" fill="#f2b90c" />
<text x="48.35" y="203.91" font-size="3.9" text-anchor="middle" fill="#1a1a1a" font-weight="bold" >G</text>
<rect x="51.45" y="201.91" width="1.20" height="1.20" fill="#2a2a2a" />
<rect x="55.15" y="201.91" width="1.20" height="1.20" fill="#2a2a2a" />
<rect x="58.85" y="201.91" width="1.20" height="1.20" fill="#2a2a2a" />
<rect x="62.55" y="201.91" width="1.20" height="1.20" fill="#2a2a2a" />
<rect x="66.25" y="201.91" width="1.20" height="1.20" fill="#2a2a2a" />
<rect x="69.95" y="201.91" width="1.20" height="1.20" fill="#2a2a2a" />
<rect x="73.65" y="201.91" width="1.20" height="1.20" fill="#2a2a2a" />
<rect x="77.35" y="201.91" width="1.20" height="1.20" fill="#2a2a2a" />
<rect x="81.05" y="201.91" width="1.20" height="1.20" fill="#2a2a2a" />
<rect x="84.75" y="201.91" width="1.20" height="1.20" fill="#2a2a2a" />
<text x="106.10" y="203.51" font-size="5.0" text-anchor="middle" fill="#333" stroke="#333" stroke-width="0.06" textLength="3.05" lengthAdjust="spacingAndGlyphs" >2</text>
<rect x="61.00" y="123.00" width="7.90" height="4.60" fill="#6e6e6e" />
<text x="64.95" y="126.80" font-size="4.2" text-anchor="middle" fill="#222" stroke="#222" stroke-width="0.1" >C</text>
<text x="106.10" y="26.60" font-size="5.3" text-anchor="middle" fill="#222" stroke="#222" stroke-width="0.05" textLength="27.00" lengthAdjust="spacingAndGlyphs" >GUIDE-Seq</text>
<text x="106.00" y="30.90" font-size="5.0" text-anchor="middle" fill="#222" stroke="#222" stroke-width="0.05" textLength="13.40" lengthAdjust="spacingAndGlyphs" >Reads</text>
<circle cx="92.6" cy="34.8" r="0.85" fill="#000"/>
<rect x="14.90" y="232.90" width="3.60" height="7.10" fill="#f2b90c" />
<text x="16.68" y="238.44" font-size="4.6" text-anchor="middle" fill="#111" font-weight="bold" >G</text>
<rect x="18.45" y="232.90" width="3.60" height="7.10" fill="#f2b90c" />
<text x="20.22" y="238.44" font-size="4.6" text-anchor="middle" fill="#111" font-weight="bold" >G</text>
<rect x="22.00" y="232.90" width="3.60" height="7.10" fill="#5aa8ec" />
<text x="23.77" y="238.44" font-size="4.6" text-anchor="middle" fill="#111" font-weight="bold" >C</text>
<rect x="25.55" y="232.90" width="3.60" height="7.10" fill="#5aa8ec" />
<text x="27.32" y="238.44" font-size="4.6" text-anchor="middle" fill="#111" font-weight="bold" >C</text>
<rect x="29.10" y="232.90" width="3.60" height="7.10" fill="#4ea737" />
<text x="30.88" y="238.44" font-size="4.6" text-anchor="middle" fill="#111" font-weight="bold" >A</text>
<rect x="32.65" y="232.90" width="3.60" height="7.10" fill="#f2b90c" />
<text x="34.42" y="238.44" font-size="4.6" text-anchor="middle" fill="#111" font-weight="bold" >G</text>
<rect x="36.20" y="232.90" width="3.60" height="7.10" fill="#4ea737" />
<text x="37.97" y="238.44" font-size="4.6" text-anchor="middle" fill="#111" font-weight="bold" >A</text>
<rect x="39.75" y="232.90" width="3.60" height="7.10" fill="#5aa8ec" />
<text x="41.52" y="238.44" font-size="4.6" text-anchor="middle" fill="#111" font-weight="bold" >C</text>
<rect x="43.30" y="232.90" width="3.60" height="7.10" fill="#b80a2d" />
<text x="45.07" y="238.44" font-size="4.6" text-anchor="middle" fill="#111" font-weight="bold" >T</text>
<rect x="46.85" y="232.90" width="3.60" height="7.10" fill="#f2b90c" />
<text x="48.62" y="238.44" font-size="4.6" text-anchor="middle" fill="#111" font-weight="bold" >G</text>
<rect x="50.40" y="232.90" width="3.60" height="7.10" fill="#f2b90c" />
<text x="52.17" y="238.44" font-size="4.6" text-anchor="middle" fill="#111" font-weight="bold" >G</text>
<rect x="53.95" y="232.90" width="3.60" height="7.10" fill="#5aa8ec" />
<text x="55.72" y="238.44" font-size="4.6" text-anchor="middle" fill="#111" font-weight="bold" >C</text>
<rect x="57.50" y="232.90" width="3.60" height="7.10" fill="#4ea737" />
<text x="59.27" y="238.44" font-size="4.6" text-anchor="middle" fill="#111" font-weight="bold" >A</text>
<rect x="61.05" y="232.90" width="3.60" height="7.10" fill="#5aa8ec" />
<text x="62.82" y="238.44" font-size="4.6" text-anchor="middle" fill="#111" font-weight="bold" >C</text>
<rect x="64.60" y="232.90" width="3.60" height="7.10" fill="#5aa8ec" />
<text x="66.38" y="238.44" font-size="4.6" text-anchor="middle" fill="#111" font-weight="bold" >C</text>
<rect x="68.15" y="232.90" width="3.60" height="7.10" fill="#4ea737" />
<text x="69.93" y="238.44" font-size="4.6" text-anchor="middle" fill="#111" font-weight="bold" >A</text>
<rect x="71.70" y="232.90" width="3.60" height="7.10" fill="#4ea737" />
<text x="73.48" y="238.44" font-size="4.6" text-anchor="middle" fill="#111" font-weight="bold" >A</text>
<rect x="75.25" y="232.90" width="3.60" height="7.10" fill="#5aa8ec" />
<text x="77.03" y="238.44" font-size="4.6" text-anchor="middle" fill="#111" font-weight="bold" >C</text>
<rect x="78.80" y="232.90" width="3.60" height="7.10" fill="#f2b90c" />
<text x="80.58" y="238.44" font-size="4.6" text-anchor="middle" fill="#111" font-weight="bold" >G</text>
<rect x="82.35" y="232.90" width="3.60" height="7.10" fill="#f2b90c" />
<text x="84.13" y="238.44" font-size="4.6" text-anchor="middle" fill="#111" font-weight="bold" >G</text>
<line x1="14.90" y1="240.20" x2="85.90" y2="240.20" stroke="#555" stroke-width="0.6"/>
<rect x="16.03" y="243.25" width="1.30" height="1.30" fill="#2a2a2a" />
<rect x="19.57" y="243.25" width="1.30" height="1.30" fill="#2a2a2a" />
<rect x="23.12" y="243.25" width="1.30" height="1.30" fill="#2a2a2a" />
<rect x="26.67" y="243.25" width="1.30" height="1.30" fill="#2a2a2a" />
<rect x="30.23" y="243.25" width="1.30" height="1.30" fill="#2a2a2a" />
<rect x="33.77" y="243.25" width="1.30" height="1.30" fill="#2a2a2a" />
<rect x="37.32" y="243.25" width="1.30" height="1.30" fill="#2a2a2a" />
<rect x="40.88" y="243.25" width="1.30" height="1.30" fill="#2a2a2a" />
<rect x="44.42" y="243.25" width="1.30" height="1.30" fill="#2a2a2a" />
<rect x="47.98" y="243.25" width="1.30" height="1.30" fill="#2a2a2a" />
<rect x="51.52" y="243.25" width="1.30" height="1.30" fill="#2a2a2a" />
<rect x="55.07" y="243.25" width="1.30" height="1.30" fill="#2a2a2a" />
<rect x="58.62" y="243.25" width="1.30" height="1.30" fill="#2a2a2a" />
<rect x="62.17" y="243.25" width="1.30" height="1.30" fill="#2a2a2a" />
<rect x="65.72" y="243.25" width="1.30" height="1.30" fill="#2a2a2a" />
<rect x="69.28" y="243.25" width="1.30" height="1.30" fill="#2a2a2a" />
<rect x="72.83" y="243.25" width="1.30" height="1.30" fill="#2a2a2a" />
<rect x="76.38" y="243.25" width="1.30" height="1.30" fill="#2a2a2a" />
<rect x="79.92" y="243.25" width="1.30" height="1.30" fill="#2a2a2a" />
<rect x="83.48" y="243.25" width="1.30" height="1.30" fill="#2a2a2a" />
<text x="104.80" y="245.90" font-size="5.5" text-anchor="middle" fill="#1a1a1a" stroke="#1a1a1a" stroke-width="0.16" textLength="12.40" lengthAdjust="spacingAndGlyphs" >2038</text>
<rect x="16.03" y="249.97" width="1.30" height="1.30" fill="#2a2a2a" />
<rect x="19.57" y="249.97" width="1.30" height="1.30" fill="#2a2a2a" />
<rect x="23.12" y="249.97" width="1.30" height="1.30" fill="#2a2a2a" />
<rect x="26.67" y="249.97" width="1.30" height="1.30" fill="#2a2a2a" />
<rect x="30.23" y="249.97" width="1.30" height="1.30" fill="#2a2a2a" />
<rect x="33.77" y="249.97" width="1.30" height="1.30" fill="#2a2a2a" />
<rect x="37.32" y="249.97" width="1.30" height="1.30" fill="#2a2a2a" />
<rect x="40.88" y="249.97" width="1.30" height="1.30" fill="#2a2a2a" />
<rect x="43.30" y="247.26" width="3.60" height="6.77" fill="#5aa8ec" />
<text x="45.07" y="252.28" font-size="4.6" text-anchor="middle" fill="#1a1a1a" font-weight="bold" >C</text>
<rect x="46.85" y="247.26" width="3.60" height="6.77" fill="#4ea737" />
<text x="48.62" y="252.28" font-size="4.6" text-anchor="middle" fill="#1a1a1a" font-weight="bold" >A</text>
<rect x="51.52" y="249.97" width="1.30" height="1.30" fill="#2a2a2a" />
<rect x="55.07" y="249.97" width="1.30" height="1.30" fill="#2a2a2a" />
<rect x="58.62" y="249.97" width="1.30" height="1.30" fill="#2a2a2a" />
<rect x="62.17" y="249.97" width="1.30" height="1.30" fill="#2a2a2a" />
<rect x="65.72" y="249.97" width="1.30" height="1.30" fill="#2a2a2a" />
<rect x="69.28" y="249.97" width="1.30" height="1.30" fill="#2a2a2a" />
<rect x="72.83" y="249.97" width="1.30" height="1.30" fill="#2a2a2a" />
<rect x="75.25" y="247.26" width="3.60" height="6.77" fill="#b80a2d" />
<text x="77.03" y="252.28" font-size="4.6" text-anchor="middle" fill="#1a1a1a" font-weight="bold" >T</text>
<rect x="79.92" y="249.97" width="1.30" height="1.30" fill="#2a2a2a" />
<rect x="83.48" y="249.97" width="1.30" height="1.30" fill="#2a2a2a" />
<text x="104.80" y="252.62" font-size="5.5" text-anchor="middle" fill="#1a1a1a" stroke="#1a1a1a" stroke-width="0.16" textLength="9.30" lengthAdjust="spacingAndGlyphs" >456</text>
<rect x="14.90" y="253.98" width="3.60" height="6.77" fill="#4ea737" />
<text x="16.68" y="259.00" font-size="4.6" text-anchor="middle" fill="#1a1a1a" font-weight="bold" >A</text>
<rect x="19.57" y="256.69" width="1.30" height="1.30" fill="#2a2a2a" />
<rect x="23.12" y="256.69" width="1.30" height="1.30" fill="#2a2a2a" />
<rect x="26.67" y="256.69" width="1.30" height="1.30" fill="#2a2a2a" />
<rect x="30.23" y="256.69" width="1.30" height="1.30" fill="#2a2a2a" />
<rect x="33.77" y="256.69" width="1.30" height="1.30" fill="#2a2a2a" />
<rect x="37.32" y="256.69" width="1.30" height="1.30" fill="#2a2a2a" />
<rect x="39.75" y="253.98" width="3.60" height="6.77" fill="#f2b90c" />
<text x="41.52" y="259.00" font-size="4.6" text-anchor="middle" fill="#1a1a1a" font-weight="bold" >G</text>
<rect x="43.30" y="253.98" width="3.60" height="6.77" fill="#4ea737" />
<text x="45.07" y="259.00" font-size="4.6" text-anchor="middle" fill="#1a1a1a" font-weight="bold" >A</text>
<rect x="47.98" y="256.69" width="1.30" height="1.30" fill="#2a2a2a" />
<rect x="50.40" y="253.98" width="3.60" height="6.77" fill="#4ea737" />
<text x="52.17" y="259.00" font-size="4.6" text-anchor="middle" fill="#1a1a1a" font-weight="bold" >A</text>
<rect x="55.07" y="256.69" width="1.30" height="1.30" fill="#2a2a2a" />
<rect x="58.62" y="256.69" width="1.30" height="1.30" fill="#2a2a2a" />
<rect x="62.17" y="256.69" width="1.30" height="1.30" fill="#2a2a2a" />
<rect x="65.72" y="256.69" width="1.30" height="1.30" fill="#2a2a2a" />
<rect x="69.28" y="256.69" width="1.30" height="1.30" fill="#2a2a2a" />
<rect x="72.83" y="256.69" width="1.30" height="1.30" fill="#2a2a2a" />
<rect x="76.38" y="256.69" width="1.30" height="1.30" fill="#2a2a2a" />
<rect x="79.92" y="256.69" width="1.30" height="1.30" fill="#2a2a2a" />
<rect x="83.48" y="256.69" width="1.30" height="1.30" fill="#2a2a2a" />
<text x="104.80" y="259.34" font-size="5.5" text-anchor="middle" fill="#1a1a1a" stroke="#1a1a1a" stroke-width="0.16" textLength="9.30" lengthAdjust="spacingAndGlyphs" >156</text>
<rect x="14.90" y="260.70" width="3.60" height="6.77" fill="#5aa8ec" />
<text x="16.68" y="265.72" font-size="4.6" text-anchor="middle" fill="#1a1a1a" font-weight="bold" >C</text>
<rect x="18.45" y="260.70" width="3.60" height="6.77" fill="#b80a2d" />
<text x="20.22" y="265.72" font-size="4.6" text-anchor="middle" fill="#1a1a1a" font-weight="bold" >T</text>
<rect x="23.12" y="263.41" width="1.30" height="1.30" fill="#2a2a2a" />
<rect x="26.67" y="263.41" width="1.30" height="1.30" fill="#2a2a2a" />
<rect x="30.23" y="263.41" width="1.30" height="1.30" fill="#2a2a2a" />
<rect x="33.77" y="263.41" width="1.30" height="1.30" fill="#2a2a2a" />
<rect x="36.20" y="260.70" width="3.60" height="6.77" fill="#5aa8ec" />
<text x="37.97" y="265.72" font-size="4.6" text-anchor="middle" fill="#1a1a1a" font-weight="bold" >C</text>
<rect x="40.88" y="263.41" width="1.30" height="1.30" fill="#2a2a2a" />
<rect x="44.42" y="263.41" width="1.30" height="1.30" fill="#2a2a2a" />
<rect x="46.85" y="260.70" width="3.60" height="6.77" fill="#4ea737" />
<text x="48.62" y="265.72" font-size="4.6" text-anchor="middle" fill="#1a1a1a" font-weight="bold" >A</text>
<rect x="51.52" y="263.41" width="1.30" height="1.30" fill="#2a2a2a" />
<rect x="55.07" y="263.41" width="1.30" height="1.30" fill="#2a2a2a" />
<rect x="58.62" y="263.41" width="1.30" height="1.30" fill="#2a2a2a" />
<rect x="62.17" y="263.41" width="1.30" height="1.30" fill="#2a2a2a" />
<rect x="65.72" y="263.41" width="1.30" height="1.30" fill="#2a2a2a" />
<rect x="69.28" y="263.41" width="1.30" height="1.30" fill="#2a2a2a" />
<rect x="71.70" y="260.70" width="3.60" height="6.77" fill="#5aa8ec" />
<text x="73.48" y="265.72" font-size="4.6" text-anchor="middle" fill="#1a1a1a" font-weight="bold" >C</text>
<rect x="75.25" y="260.70" width="3.60" height="6.77" fill="#f2b90c" />
<text x="77.03" y="265.72" font-size="4.6" text-anchor="middle" fill="#1a1a1a" font-weight="bold" >G</text>
<rect x="79.92" y="263.41" width="1.30" height="1.30" fill="#2a2a2a" />
<rect x="83.48" y="263.41" width="1.30" height="1.30" fill="#2a2a2a" />
<text x="104.80" y="266.06" font-size="5.5" text-anchor="middle" fill="#1a1a1a" stroke="#1a1a1a" stroke-width="0.16" textLength="9.30" lengthAdjust="spacingAndGlyphs" >130</text>
<rect x="16.03" y="270.13" width="1.30" height="1.30" fill="#2a2a2a" />
<rect x="19.57" y="270.13" width="1.30" height="1.30" fill="#2a2a2a" />
<rect x="23.12" y="270.13" width="1.30" height="1.30" fill="#2a2a2a" />
<rect x="26.67" y="270.13" width="1.30" height="1.30" fill="#2a2a2a" />
<rect x="30.23" y="270.13" width="1.30" height="1.30" fill="#2a2a2a" />
<rect x="32.65" y="267.42" width="3.60" height="6.77" fill="#5aa8ec" />
<text x="34.42" y="272.44" font-size="4.6" text-anchor="middle" fill="#1a1a1a" font-weight="bold" >C</text>
<rect x="37.32" y="270.13" width="1.30" height="1.30" fill="#2a2a2a" />
<rect x="39.75" y="267.42" width="3.60" height="6.77" fill="#b80a2d" />
<text x="41.52" y="272.44" font-size="4.6" text-anchor="middle" fill="#1a1a1a" font-weight="bold" >T</text>
<rect x="44.42" y="270.13" width="1.30" height="1.30" fill="#2a2a2a" />
<rect x="47.98" y="270.13" width="1.30" height="1.30" fill="#2a2a2a" />
<rect x="51.52" y="270.13" width="1.30" height="1.30" fill="#2a2a2a" />
<rect x="55.07" y="270.13" width="1.30" height="1.30" fill="#2a2a2a" />
<rect x="58.62" y="270.13" width="1.30" height="1.30" fill="#2a2a2a" />
<rect x="62.17" y="270.13" width="1.30" height="1.30" fill="#2a2a2a" />
<rect x="65.72" y="270.13" width="1.30" height="1.30" fill="#2a2a2a" />
<rect x="69.28" y="270.13" width="1.30" height="1.30" fill="#2a2a2a" />
<rect x="72.83" y="270.13" width="1.30" height="1.30" fill="#2a2a2a" />
<rect x="75.25" y="267.42" width="3.60" height="6.77" fill="#f2b90c" />
<text x="77.03" y="272.44" font-size="4.6" text-anchor="middle" fill="#1a1a1a" font-weight="bold" >G</text>
<rect x="79.92" y="270.13" width="1.30" height="1.30" fill="#2a2a2a" />
<rect x="83.48" y="270.13" width="1.30" height="1.30" fill="#2a2a2a" />
<text x="104.80" y="272.78" font-size="5.5" text-anchor="middle" fill="#1a1a1a" stroke="#1a1a1a" stroke-width="0.16" textLength="9.30" lengthAdjust="spacingAndGlyphs" >124</text>
<rect x="14.90" y="274.14" width="3.60" height="6.77" fill="#b80a2d" />
<text x="16.68" y="279.16" font-size="4.6" text-anchor="middle" fill="#1a1a1a" font-weight="bold" >T</text>
<rect x="18.45" y="274.14" width="3.60" height="6.77" fill="#5aa8ec" />
<text x="20.22" y="279.16" font-size="4.6" text-anchor="middle" fill="#1a1a1a" font-weight="bold" >C</text>
<rect x="23.12" y="276.85" width="1.30" height="1.30" fill="#2a2a2a" />
<rect x="26.67" y="276.85" width="1.30" height="1.30" fill="#2a2a2a" />
<rect x="30.23" y="276.85" width="1.30" height="1.30" fill="#2a2a2a" />
<rect x="33.77" y="276.85" width="1.30" height="1.30" fill="#2a2a2a" />
<rect x="37.32" y="276.85" width="1.30" height="1.30" fill="#2a2a2a" />
<rect x="40.88" y="276.85" width="1.30" height="1.30" fill="#2a2a2a" />
<rect x="44.42" y="276.85" width="1.30" height="1.30" fill="#2a2a2a" />
<rect x="47.98" y="276.85" width="1.30" height="1.30" fill="#2a2a2a" />
<rect x="51.52" y="276.85" width="1.30" height="1.30" fill="#2a2a2a" />
<rect x="55.07" y="276.85" width="1.30" height="1.30" fill="#2a2a2a" />
<rect x="57.50" y="274.14" width="3.60" height="6.77" fill="#5aa8ec" />
<text x="59.27" y="279.16" font-size="4.6" text-anchor="middle" fill="#1a1a1a" font-weight="bold" >C</text>
<rect x="62.17" y="276.85" width="1.30" height="1.30" fill="#2a2a2a" />
<rect x="65.72" y="276.85" width="1.30" height="1.30" fill="#2a2a2a" />
<rect x="69.28" y="276.85" width="1.30" height="1.30" fill="#2a2a2a" />
<rect x="72.83" y="276.85" width="1.30" height="1.30" fill="#2a2a2a" />
<rect x="76.38" y="276.85" width="1.30" height="1.30" fill="#2a2a2a" />
<rect x="79.92" y="276.85" width="1.30" height="1.30" fill="#2a2a2a" />
<rect x="83.48" y="276.85" width="1.30" height="1.30" fill="#2a2a2a" />
<text x="104.80" y="279.50" font-size="5.5" text-anchor="middle" fill="#1a1a1a" stroke="#1a1a1a" stroke-width="0.16" textLength="9.30" lengthAdjust="spacingAndGlyphs" >107</text>
<rect x="16.03" y="290.29" width="1.30" height="1.30" fill="#2a2a2a" />
<rect x="19.57" y="290.29" width="1.30" height="1.30" fill="#2a2a2a" />
<rect x="23.12" y="290.29" width="1.30" height="1.30" fill="#2a2a2a" />
<rect x="26.67" y="290.29" width="1.30" height="1.30" fill="#2a2a2a" />
<rect x="30.23" y="290.29" width="1.30" height="1.30" fill="#2a2a2a" />
<rect x="33.77" y="290.29" width="1.30" height="1.30" fill="#2a2a2a" />
<rect x="37.32" y="290.29" width="1.30" height="1.30" fill="#2a2a2a" />
<rect x="39.75" y="287.58" width="3.60" height="6.77" fill="#4ea737" />
<text x="41.52" y="292.60" font-size="4.6" text-anchor="middle" fill="#1a1a1a" font-weight="bold" >A</text>
<rect x="43.30" y="287.58" width="3.60" height="6.77" fill="#f2b90c" />
<text x="45.07" y="292.60" font-size="4.6" text-anchor="middle" fill="#1a1a1a" font-weight="bold" >G</text>
<rect x="47.98" y="290.29" width="1.30" height="1.30" fill="#2a2a2a" />
<rect x="50.40" y="287.58" width="3.60" height="6.77" fill="#4ea737" />
<text x="52.17" y="292.60" font-size="4.6" text-anchor="middle" fill="#1a1a1a" font-weight="bold" >A</text>
<rect x="55.07" y="290.29" width="1.30" height="1.30" fill="#2a2a2a" />
<rect x="58.62" y="290.29" width="1.30" height="1.30" fill="#2a2a2a" />
<rect x="62.17" y="290.29" width="1.30" height="1.30" fill="#2a2a2a" />
<rect x="65.72" y="290.29" width="1.30" height="1.30" fill="#2a2a2a" />
<rect x="69.28" y="290.29" width="1.30" height="1.30" fill="#2a2a2a" />
<rect x="72.83" y="290.29" width="1.30" height="1.30" fill="#2a2a2a" />
<rect x="75.25" y="287.58" width="3.60" height="6.77" fill="#4ea737" />
<text x="77.03" y="292.60" font-size="4.6" text-anchor="middle" fill="#1a1a1a" font-weight="bold" >A</text>
<rect x="79.92" y="290.29" width="1.30" height="1.30" fill="#2a2a2a" />
<rect x="83.48" y="290.29" width="1.30" height="1.30" fill="#2a2a2a" />
<text x="104.80" y="292.94" font-size="5.5" text-anchor="middle" fill="#1a1a1a" stroke="#1a1a1a" stroke-width="0.16" textLength="6.20" lengthAdjust="spacingAndGlyphs" >65</text>
<rect x="14.90" y="294.30" width="3.60" height="6.77" fill="#5aa8ec" />
<text x="16.68" y="299.32" font-size="4.6" text-anchor="middle" fill="#1a1a1a" font-weight="bold" >C</text>
<rect x="18.45" y="294.30" width="3.60" height="6.77" fill="#5aa8ec" />
<text x="20.22" y="299.32" font-size="4.6" text-anchor="middle" fill="#1a1a1a" font-weight="bold" >C</text>
<rect x="22.00" y="294.30" width="3.60" height="6.77" fill="#b80a2d" />
<text x="23.77" y="299.32" font-size="4.6" text-anchor="middle" fill="#1a1a1a" font-weight="bold" >T</text>
<rect x="25.55" y="294.30" width="3.60" height="6.77" fill="#f2b90c" />
<text x="27.32" y="299.32" font-size="4.6" text-anchor="middle" fill="#1a1a1a" font-weight="bold" >G</text>
<rect x="30.23" y="297.01" width="1.30" height="1.30" fill="#2a2a2a" />
<rect x="33.77" y="297.01" width="1.30" height="1.30" fill="#2a2a2a" />
<rect x="37.32" y="297.01" width="1.30" height="1.30" fill="#2a2a2a" />
<rect x="40.88" y="297.01" width="1.30" height="1.30" fill="#2a2a2a" />
<rect x="44.42" y="297.01" width="1.30" height="1.30" fill="#2a2a2a" />
<rect x="47.98" y="297.01" width="1.30" height="1.30" fill="#2a2a2a" />
<rect x="51.52" y="297.01" width="1.30" height="1.30" fill="#2a2a2a" />
<rect x="55.07" y="297.01" width="1.30" height="1.30" fill="#2a2a2a" />
<rect x="58.62" y="297.01" width="1.30" height="1.30" fill="#2a2a2a" />
<rect x="62.17" y="297.01" width="1.30" height="1.30" fill="#2a2a2a" />
<rect x="65.72" y="297.01" width="1.30" height="1.30" fill="#2a2a2a" />
<rect x="69.28" y="297.01" width="1.30" height="1.30" fill="#2a2a2a" />
<rect x="72.83" y="297.01" width="1.30" height="1.30" fill="#2a2a2a" />
<rect x="76.38" y="297.01" width="1.30" height="1.30" fill="#2a2a2a" />
<rect x="78.80" y="294.30" width="3.60" height="6.77" fill="#4ea737" />
<text x="80.58" y="299.32" font-size="4.6" text-anchor="middle" fill="#1a1a1a" font-weight="bold" >A</text>
<rect x="83.48" y="297.01" width="1.30" height="1.30" fill="#2a2a2a" />
<text x="104.80" y="299.66" font-size="5.5" text-anchor="middle" fill="#1a1a1a" stroke="#1a1a1a" stroke-width="0.16" textLength="6.20" lengthAdjust="spacingAndGlyphs" >52</text>
<rect x="16.03" y="303.73" width="1.30" height="1.30" fill="#2a2a2a" />
<rect x="18.45" y="301.02" width="3.60" height="6.77" fill="#4ea737" />
<text x="20.22" y="306.04" font-size="4.6" text-anchor="middle" fill="#1a1a1a" font-weight="bold" >A</text>
<rect x="23.12" y="303.73" width="1.30" height="1.30" fill="#2a2a2a" />
<rect x="26.67" y="303.73" width="1.30" height="1.30" fill="#2a2a2a" />
<rect x="30.23" y="303.73" width="1.30" height="1.30" fill="#2a2a2a" />
<rect x="33.77" y="303.73" width="1.30" height="1.30" fill="#2a2a2a" />
<rect x="37.32" y="303.73" width="1.30" height="1.30" fill="#2a2a2a" />
<rect x="40.88" y="303.73" width="1.30" height="1.30" fill="#2a2a2a" />
<rect x="44.42" y="303.73" width="1.30" height="1.30" fill="#2a2a2a" />
<rect x="47.98" y="303.73" width="1.30" height="1.30" fill="#2a2a2a" />
<rect x="51.52" y="303.73" width="1.30" height="1.30" fill="#2a2a2a" />
<rect x="55.07" y="303.73" width="1.30" height="1.30" fill="#2a2a2a" />
<rect x="58.62" y="303.73" width="1.30" height="1.30" fill="#2a2a2a" />
<rect x="62.17" y="303.73" width="1.30" height="1.30" fill="#2a2a2a" />
<rect x="64.60" y="301.02" width="3.60" height="6.77" fill="#4ea737" />
<text x="66.38" y="306.04" font-size="4.6" text-anchor="middle" fill="#1a1a1a" font-weight="bold" >A</text>
<rect x="68.15" y="301.02" width="3.60" height="6.77" fill="#5aa8ec" />
<text x="69.93" y="306.04" font-size="4.6" text-anchor="middle" fill="#1a1a1a" font-weight="bold" >C</text>
<rect x="71.70" y="301.02" width="3.60" height="6.77" fill="#f2b90c" />
<text x="73.48" y="306.04" font-size="4.6" text-anchor="middle" fill="#1a1a1a" font-weight="bold" >G</text>
<rect x="75.25" y="301.02" width="3.60" height="6.77" fill="#f2b90c" />
<text x="77.03" y="306.04" font-size="4.6" text-anchor="middle" fill="#1a1a1a" font-weight="bold" >G</text>
<rect x="79.92" y="303.73" width="1.30" height="1.30" fill="#2a2a2a" />
<rect x="83.48" y="303.73" width="1.30" height="1.30" fill="#2a2a2a" />
<text x="104.80" y="306.38" font-size="5.5" text-anchor="middle" fill="#1a1a1a" stroke="#1a1a1a" stroke-width="0.16" textLength="6.20" lengthAdjust="spacingAndGlyphs" >49</text>
<rect x="16.03" y="310.45" width="1.30" height="1.30" fill="#2a2a2a" />
<rect x="18.45" y="307.74" width="3.60" height="6.77" fill="#4ea737" />
<text x="20.22" y="312.76" font-size="4.6" text-anchor="middle" fill="#1a1a1a" font-weight="bold" >A</text>
<rect x="22.00" y="307.74" width="3.60" height="6.77" fill="#b80a2d" />
<text x="23.77" y="312.76" font-size="4.6" text-anchor="middle" fill="#1a1a1a" font-weight="bold" >T</text>
<rect x="26.67" y="310.45" width="1.30" height="1.30" fill="#2a2a2a" />
<rect x="30.23" y="310.45" width="1.30" height="1.30" fill="#2a2a2a" />
<rect x="33.77" y="310.45" width="1.30" height="1.30" fill="#2a2a2a" />
<rect x="37.32" y="310.45" width="1.30" height="1.30" fill="#2a2a2a" />
<rect x="40.88" y="310.45" width="1.30" height="1.30" fill="#2a2a2a" />
<rect x="43.30" y="307.74" width="3.60" height="6.77" fill="#5aa8ec" />
<text x="45.07" y="312.76" font-size="4.6" text-anchor="middle" fill="#1a1a1a" font-weight="bold" >C</text>
<rect x="47.98" y="310.45" width="1.30" height="1.30" fill="#2a2a2a" />
<rect x="51.52" y="310.45" width="1.30" height="1.30" fill="#2a2a2a" />
<rect x="55.07" y="310.45" width="1.30" height="1.30" fill="#2a2a2a" />
<rect x="58.62" y="310.45" width="1.30" height="1.30" fill="#2a2a2a" />
<rect x="62.17" y="310.45" width="1.30" height="1.30" fill="#2a2a2a" />
<rect x="65.72" y="310.45" width="1.30" height="1.30" fill="#2a2a2a" />
<rect x="69.28" y="310.45" width="1.30" height="1.30" fill="#2a2a2a" />
<rect x="72.83" y="310.45" width="1.30" height="1.30" fill="#2a2a2a" />
<rect x="75.25" y="307.74" width="3.60" height="6.77" fill="#f2b90c" />
<text x="77.03" y="312.76" font-size="4.6" text-anchor="middle" fill="#1a1a1a" font-weight="bold" >G</text>
<rect x="79.92" y="310.45" width="1.30" height="1.30" fill="#2a2a2a" />
<rect x="83.48" y="310.45" width="1.30" height="1.30" fill="#2a2a2a" />
<text x="104.80" y="313.10" font-size="5.5" text-anchor="middle" fill="#1a1a1a" stroke="#1a1a1a" stroke-width="0.16" textLength="6.20" lengthAdjust="spacingAndGlyphs" >28</text>
<rect x="16.03" y="317.17" width="1.30" height="1.30" fill="#2a2a2a" />
<rect x="19.57" y="317.17" width="1.30" height="1.30" fill="#2a2a2a" />
<rect x="23.12" y="317.17" width="1.30" height="1.30" fill="#2a2a2a" />
<rect x="26.67" y="317.17" width="1.30" height="1.30" fill="#2a2a2a" />
<rect x="30.23" y="317.17" width="1.30" height="1.30" fill="#2a2a2a" />
<rect x="32.65" y="314.46" width="3.60" height="6.77" fill="#b80a2d" />
<text x="34.42" y="319.48" font-size="4.6" text-anchor="middle" fill="#1a1a1a" font-weight="bold" >T</text>
<rect x="36.20" y="314.46" width="3.60" height="6.77" fill="#f2b90c" />
<text x="37.97" y="319.48" font-size="4.6" text-anchor="middle" fill="#1a1a1a" font-weight="bold" >G</text>
<rect x="39.75" y="314.46" width="3.60" height="6.77" fill="#4ea737" />
<text x="41.52" y="319.48" font-size="4.6" text-anchor="middle" fill="#1a1a1a" font-weight="bold" >A</text>
<rect x="43.30" y="314.46" width="3.60" height="6.77" fill="#4ea737" />
<text x="45.07" y="319.48" font-size="4.6" text-anchor="middle" fill="#1a1a1a" font-weight="bold" >A</text>
<rect x="47.98" y="317.17" width="1.30" height="1.30" fill="#2a2a2a" />
<rect x="51.52" y="317.17" width="1.30" height="1.30" fill="#2a2a2a" />
<rect x="55.07" y="317.17" width="1.30" height="1.30" fill="#2a2a2a" />
<rect x="58.62" y="317.17" width="1.30" height="1.30" fill="#2a2a2a" />
<rect x="62.17" y="317.17" width="1.30" height="1.30" fill="#2a2a2a" />
<rect x="65.72" y="317.17" width="1.30" height="1.30" fill="#2a2a2a" />
<rect x="69.28" y="317.17" width="1.30" height="1.30" fill="#2a2a2a" />
<rect x="72.83" y="317.17" width="1.30" height="1.30" fill="#2a2a2a" />
<rect x="75.25" y="314.46" width="3.60" height="6.77" fill="#4ea737" />
<text x="77.03" y="319.48" font-size="4.6" text-anchor="middle" fill="#1a1a1a" font-weight="bold" >A</text>
<rect x="79.92" y="317.17" width="1.30" height="1.30" fill="#2a2a2a" />
<rect x="83.48" y="317.17" width="1.30" height="1.30" fill="#2a2a2a" />
<text x="104.80" y="319.82" font-size="5.5" text-anchor="middle" fill="#1a1a1a" stroke="#1a1a1a" stroke-width="0.16" textLength="6.20" lengthAdjust="spacingAndGlyphs" >26</text>
<rect x="14.90" y="321.18" width="3.60" height="6.77" fill="#5aa8ec" />
<text x="16.68" y="326.20" font-size="4.6" text-anchor="middle" fill="#1a1a1a" font-weight="bold" >C</text>
<rect x="18.45" y="321.18" width="3.60" height="6.77" fill="#5aa8ec" />
<text x="20.22" y="326.20" font-size="4.6" text-anchor="middle" fill="#1a1a1a" font-weight="bold" >C</text>
<rect x="23.12" y="323.89" width="1.30" height="1.30" fill="#2a2a2a" />
<rect x="26.67" y="323.89" width="1.30" height="1.30" fill="#2a2a2a" />
<rect x="30.23" y="323.89" width="1.30" height="1.30" fill="#2a2a2a" />
<rect x="33.77" y="323.89" width="1.30" height="1.30" fill="#2a2a2a" />
<rect x="36.20" y="321.18" width="3.60" height="6.77" fill="#f2b90c" />
<text x="37.97" y="326.20" font-size="4.6" text-anchor="middle" fill="#1a1a1a" font-weight="bold" >G</text>
<rect x="40.88" y="323.89" width="1.30" height="1.30" fill="#2a2a2a" />
<rect x="44.42" y="323.89" width="1.30" height="1.30" fill="#2a2a2a" />
<rect x="47.98" y="323.89" width="1.30" height="1.30" fill="#2a2a2a" />
<rect x="51.52" y="323.89" width="1.30" height="1.30" fill="#2a2a2a" />
<rect x="55.07" y="323.89" width="1.30" height="1.30" fill="#2a2a2a" />
<rect x="58.62" y="323.89" width="1.30" height="1.30" fill="#2a2a2a" />
<rect x="62.17" y="323.89" width="1.30" height="1.30" fill="#2a2a2a" />
<rect x="65.72" y="323.89" width="1.30" height="1.30" fill="#2a2a2a" />
<rect x="69.28" y="323.89" width="1.30" height="1.30" fill="#2a2a2a" />
<rect x="71.70" y="321.18" width="3.60" height="6.77" fill="#5aa8ec" />
<text x="73.48" y="326.20" font-size="4.6" text-anchor="middle" fill="#1a1a1a" font-weight="bold" >C</text>
<rect x="75.25" y="321.18" width="3.60" height="6.77" fill="#f2b90c" />
<text x="77.03" y="326.20" font-size="4.6" text-anchor="middle" fill="#1a1a1a" font-weight="bold" >G</text>
<rect x="79.92" y="323.89" width="1.30" height="1.30" fill="#2a2a2a" />
<rect x="82.35" y="321.18" width="3.60" height="6.77" fill="#4ea737" />
<text x="84.13" y="326.20" font-size="4.6" text-anchor="middle" fill="#1a1a1a" font-weight="bold" >A</text>
<text x="104.80" y="326.54" font-size="5.5" text-anchor="middle" fill="#1a1a1a" stroke="#1a1a1a" stroke-width="0.16" textLength="6.20" lengthAdjust="spacingAndGlyphs" >17</text>
<rect x="16.03" y="330.61" width="1.30" height="1.30" fill="#2a2a2a" />
<rect x="19.57" y="330.61" width="1.30" height="1.30" fill="#2a2a2a" />
<rect x="23.12" y="330.61" width="1.30" height="1.30" fill="#2a2a2a" />
<rect x="26.67" y="330.61" width="1.30" height="1.30" fill="#2a2a2a" />
<rect x="30.23" y="330.61" width="1.30" height="1.30" fill="#2a2a2a" />
<rect x="33.77" y="330.61" width="1.30" height="1.30" fill="#2a2a2a" />
<rect x="37.32" y="330.61" width="1.30" height="1.30" fill="#2a2a2a" />
<rect x="39.75" y="327.90" width="3.60" height="6.77" fill="#f2b90c" />
<text x="41.52" y="332.92" font-size="4.6" text-anchor="middle" fill="#1a1a1a" font-weight="bold" >G</text>
<rect x="43.30" y="327.90" width="3.60" height="6.77" fill="#4ea737" />
<text x="45.07" y="332.92" font-size="4.6" text-anchor="middle" fill="#1a1a1a" font-weight="bold" >A</text>
<rect x="47.98" y="330.61" width="1.30" height="1.30" fill="#2a2a2a" />
<rect x="51.52" y="330.61" width="1.30" height="1.30" fill="#2a2a2a" />
<rect x="55.07" y="330.61" width="1.30" height="1.30" fill="#2a2a2a" />
<rect x="58.62" y="330.61" width="1.30" height="1.30" fill="#2a2a2a" />
<rect x="62.17" y="330.61" width="1.30" height="1.30" fill="#2a2a2a" />
<rect x="65.72" y="330.61" width="1.30" height="1.30" fill="#2a2a2a" />
<rect x="69.28" y="330.61" width="1.30" height="1.30" fill="#2a2a2a" />
<rect x="72.83" y="330.61" width="1.30" height="1.30" fill="#2a2a2a" />
<rect x="76.38" y="330.61" width="1.30" height="1.30" fill="#2a2a2a" />
<rect x="78.80" y="327.90" width="3.60" height="6.77" fill="#5aa8ec" />
<text x="80.58" y="332.92" font-size="4.6" text-anchor="middle" fill="#1a1a1a" font-weight="bold" >C</text>
<rect x="82.35" y="327.90" width="3.60" height="6.77" fill="#4ea737" />
<text x="84.13" y="332.92" font-size="4.6" text-anchor="middle" fill="#1a1a1a" font-weight="bold" >A</text>
<text x="104.80" y="333.26" font-size="5.5" text-anchor="middle" fill="#1a1a1a" stroke="#1a1a1a" stroke-width="0.16" textLength="6.20" lengthAdjust="spacingAndGlyphs" >15</text>
<rect x="14.90" y="334.62" width="3.60" height="6.77" fill="#5aa8ec" />
<text x="16.68" y="339.64" font-size="4.6" text-anchor="middle" fill="#1a1a1a" font-weight="bold" >C</text>
<rect x="18.45" y="334.62" width="3.60" height="6.77" fill="#4ea737" />
<text x="20.22" y="339.64" font-size="4.6" text-anchor="middle" fill="#1a1a1a" font-weight="bold" >A</text>
<rect x="23.12" y="337.33" width="1.30" height="1.30" fill="#2a2a2a" />
<rect x="25.55" y="334.62" width="3.60" height="6.77" fill="#4ea737" />
<text x="27.32" y="339.64" font-size="4.6" text-anchor="middle" fill="#1a1a1a" font-weight="bold" >A</text>
<rect x="30.23" y="337.33" width="1.30" height="1.30" fill="#2a2a2a" />
<rect x="33.77" y="337.33" width="1.30" height="1.30" fill="#2a2a2a" />
<rect x="37.32" y="337.33" width="1.30" height="1.30" fill="#2a2a2a" />
<rect x="39.75" y="334.62" width="3.60" height="6.77" fill="#4ea737" />
<text x="41.52" y="339.64" font-size="4.6" text-anchor="middle" fill="#1a1a1a" font-weight="bold" >A</text>
<rect x="44.42" y="337.33" width="1.30" height="1.30" fill="#2a2a2a" />
<rect x="47.98" y="337.33" width="1.30" height="1.30" fill="#2a2a2a" />
<rect x="51.52" y="337.33" width="1.30" height="1.30" fill="#2a2a2a" />
<rect x="55.07" y="337.33" width="1.30" height="1.30" fill="#2a2a2a" />
<rect x="58.62" y="337.33" width="1.30" height="1.30" fill="#2a2a2a" />
<rect x="62.17" y="337.33" width="1.30" height="1.30" fill="#2a2a2a" />
<rect x="65.72" y="337.33" width="1.30" height="1.30" fill="#2a2a2a" />
<rect x="69.28" y="337.33" width="1.30" height="1.30" fill="#2a2a2a" />
<rect x="72.83" y="337.33" width="1.30" height="1.30" fill="#2a2a2a" />
<rect x="76.38" y="337.33" width="1.30" height="1.30" fill="#2a2a2a" />
<rect x="79.92" y="337.33" width="1.30" height="1.30" fill="#2a2a2a" />
<rect x="83.48" y="337.33" width="1.30" height="1.30" fill="#2a2a2a" />
<text x="104.80" y="339.98" font-size="5.5" text-anchor="middle" fill="#1a1a1a" stroke="#1a1a1a" stroke-width="0.16" textLength="6.20" lengthAdjust="spacingAndGlyphs" >14</text>
<rect x="14.90" y="341.34" width="3.60" height="6.77" fill="#4ea737" />
<text x="16.68" y="346.36" font-size="4.6" text-anchor="middle" fill="#1a1a1a" font-weight="bold" >A</text>
<rect x="18.45" y="341.34" width="3.60" height="6.77" fill="#5aa8ec" />
<text x="20.22" y="346.36" font-size="4.6" text-anchor="middle" fill="#1a1a1a" font-weight="bold" >C</text>
<rect x="23.12" y="344.05" width="1.30" height="1.30" fill="#2a2a2a" />
<rect x="25.55" y="341.34" width="3.60" height="6.77" fill="#4ea737" />
<text x="27.32" y="346.36" font-size="4.6" text-anchor="middle" fill="#1a1a1a" font-weight="bold" >A</text>
<rect x="30.23" y="344.05" width="1.30" height="1.30" fill="#2a2a2a" />
<rect x="33.77" y="344.05" width="1.30" height="1.30" fill="#2a2a2a" />
<rect x="37.32" y="344.05" width="1.30" height="1.30" fill="#2a2a2a" />
<rect x="40.88" y="344.05" width="1.30" height="1.30" fill="#2a2a2a" />
<rect x="44.42" y="344.05" width="1.30" height="1.30" fill="#2a2a2a" />
<rect x="46.85" y="341.34" width="3.60" height="6.77" fill="#4ea737" />
<text x="48.62" y="346.36" font-size="4.6" text-anchor="middle" fill="#1a1a1a" font-weight="bold" >A</text>
<rect x="50.40" y="341.34" width="3.60" height="6.77" fill="#4ea737" />
<text x="52.17" y="346.36" font-size="4.6" text-anchor="middle" fill="#1a1a1a" font-weight="bold" >A</text>
<rect x="55.07" y="344.05" width="1.30" height="1.30" fill="#2a2a2a" />
<rect x="58.62" y="344.05" width="1.30" height="1.30" fill="#2a2a2a" />
<rect x="62.17" y="344.05" width="1.30" height="1.30" fill="#2a2a2a" />
<rect x="65.72" y="344.05" width="1.30" height="1.30" fill="#2a2a2a" />
<rect x="69.28" y="344.05" width="1.30" height="1.30" fill="#2a2a2a" />
<rect x="72.83" y="344.05" width="1.30" height="1.30" fill="#2a2a2a" />
<rect x="76.38" y="344.05" width="1.30" height="1.30" fill="#2a2a2a" />
<rect x="78.80" y="341.34" width="3.60" height="6.77" fill="#4ea737" />
<text x="80.58" y="346.36" font-size="4.6" text-anchor="middle" fill="#1a1a1a" font-weight="bold" >A</text>
<rect x="83.48" y="344.05" width="1.30" height="1.30" fill="#2a2a2a" />
<text x="104.80" y="346.70" font-size="5.5" text-anchor="middle" fill="#1a1a1a" stroke="#1a1a1a" stroke-width="0.16" textLength="6.20" lengthAdjust="spacingAndGlyphs" >10</text>
<rect x="16.03" y="350.77" width="1.30" height="1.30" fill="#2a2a2a" />
<rect x="19.57" y="350.77" width="1.30" height="1.30" fill="#2a2a2a" />
<rect x="23.12" y="350.77" width="1.30" height="1.30" fill="#2a2a2a" />
<rect x="26.67" y="350.77" width="1.30" height="1.30" fill="#2a2a2a" />
<rect x="30.23" y="350.77" width="1.30" height="1.30" fill="#2a2a2a" />
<rect x="32.65" y="348.06" width="3.60" height="6.77" fill="#4ea737" />
<text x="34.42" y="353.08" font-size="4.6" text-anchor="middle" fill="#1a1a1a" font-weight="bold" >A</text>
<rect x="37.32" y="350.77" width="1.30" height="1.30" fill="#2a2a2a" />
<rect x="40.88" y="350.77" width="1.30" height="1.30" fill="#2a2a2a" />
<rect x="44.42" y="350.77" width="1.30" height="1.30" fill="#2a2a2a" />
<rect x="47.98" y="350.77" width="1.30" height="1.30" fill="#2a2a2a" />
<rect x="50.40" y="348.06" width="3.60" height="6.77" fill="#4ea737" />
<text x="52.17" y="353.08" font-size="4.6" text-anchor="middle" fill="#1a1a1a" font-weight="bold" >A</text>
<rect x="55.07" y="350.77" width="1.30" height="1.30" fill="#2a2a2a" />
<rect x="58.62" y="350.77" width="1.30" height="1.30" fill="#2a2a2a" />
<rect x="62.17" y="350.77" width="1.30" height="1.30" fill="#2a2a2a" />
<rect x="64.60" y="348.06" width="3.60" height="6.77" fill="#b80a2d" />
<text x="66.38" y="353.08" font-size="4.6" text-anchor="middle" fill="#1a1a1a" font-weight="bold" >T</text>
<rect x="69.28" y="350.77" width="1.30" height="1.30" fill="#2a2a2a" />
<rect x="72.83" y="350.77" width="1.30" height="1.30" fill="#2a2a2a" />
<rect x="76.38" y="350.77" width="1.30" height="1.30" fill="#2a2a2a" />
<rect x="78.80" y="348.06" width="3.60" height="6.77" fill="#4ea737" />
<text x="80.58" y="353.08" font-size="4.6" text-anchor="middle" fill="#1a1a1a" font-weight="bold" >A</text>
<rect x="83.48" y="350.77" width="1.30" height="1.30" fill="#2a2a2a" />
<text x="104.80" y="353.42" font-size="5.5" text-anchor="middle" fill="#1a1a1a" stroke="#1a1a1a" stroke-width="0.16" textLength="6.20" lengthAdjust="spacingAndGlyphs" >10</text>
<rect x="16.03" y="357.49" width="1.30" height="1.30" fill="#2a2a2a" />
<rect x="19.57" y="357.49" width="1.30" height="1.30" fill="#2a2a2a" />
<rect x="23.12" y="357.49" width="1.30" height="1.30" fill="#2a2a2a" />
<rect x="26.67" y="357.49" width="1.30" height="1.30" fill="#2a2a2a" />
<rect x="30.23" y="357.49" width="1.30" height="1.30" fill="#2a2a2a" />
<rect x="33.77" y="357.49" width="1.30" height="1.30" fill="#2a2a2a" />
<rect x="36.20" y="354.78" width="3.60" height="6.77" fill="#f2b90c" />
<text x="37.97" y="359.80" font-size="4.6" text-anchor="middle" fill="#1a1a1a" font-weight="bold" >G</text>
<rect x="40.88" y="357.49" width="1.30" height="1.30" fill="#2a2a2a" />
<rect x="44.42" y="357.49" width="1.30" height="1.30" fill="#2a2a2a" />
<rect x="47.98" y="357.49" width="1.30" height="1.30" fill="#2a2a2a" />
<rect x="51.52" y="357.49" width="1.30" height="1.30" fill="#2a2a2a" />
<rect x="55.07" y="357.49" width="1.30" height="1.30" fill="#2a2a2a" />
<rect x="58.62" y="357.49" width="1.30" height="1.30" fill="#2a2a2a" />
<rect x="62.17" y="357.49" width="1.30" height="1.30" fill="#2a2a2a" />
<rect x="65.72" y="357.49" width="1.30" height="1.30" fill="#2a2a2a" />
<rect x="68.15" y="354.78" width="3.60" height="6.77" fill="#5aa8ec" />
<text x="69.93" y="359.80" font-size="4.6" text-anchor="middle" fill="#1a1a1a" font-weight="bold" >C</text>
<rect x="72.83" y="357.49" width="1.30" height="1.30" fill="#2a2a2a" />
<rect x="75.25" y="354.78" width="3.60" height="6.77" fill="#f2b90c" />
<text x="77.03" y="359.80" font-size="4.6" text-anchor="middle" fill="#1a1a1a" font-weight="bold" >G</text>
<rect x="79.92" y="357.49" width="1.30" height="1.30" fill="#2a2a2a" />
<rect x="82.35" y="354.78" width="3.60" height="6.77" fill="#5aa8ec" />
<text x="84.13" y="359.80" font-size="4.6" text-anchor="middle" fill="#1a1a1a" font-weight="bold" >C</text>
<text x="104.80" y="360.14" font-size="5.5" text-anchor="middle" fill="#1a1a1a" stroke="#1a1a1a" stroke-width="0.16" textLength="3.10" lengthAdjust="spacingAndGlyphs" >7</text>
<rect x="16.03" y="364.21" width="1.30" height="1.30" fill="#2a2a2a" />
<rect x="18.45" y="361.50" width="3.60" height="6.77" fill="#5aa8ec" />
<text x="20.22" y="366.52" font-size="4.6" text-anchor="middle" fill="#1a1a1a" font-weight="bold" >C</text>
<rect x="23.12" y="364.21" width="1.30" height="1.30" fill="#2a2a2a" />
<rect x="26.67" y="364.21" width="1.30" height="1.30" fill="#2a2a2a" />
<rect x="30.23" y="364.21" width="1.30" height="1.30" fill="#2a2a2a" />
<rect x="33.77" y="364.21" width="1.30" height="1.30" fill="#2a2a2a" />
<rect x="36.20" y="361.50" width="3.60" height="6.77" fill="#f2b90c" />
<text x="37.97" y="366.52" font-size="4.6" text-anchor="middle" fill="#1a1a1a" font-weight="bold" >G</text>
<rect x="40.88" y="364.21" width="1.30" height="1.30" fill="#2a2a2a" />
<rect x="44.42" y="364.21" width="1.30" height="1.30" fill="#2a2a2a" />
<rect x="47.98" y="364.21" width="1.30" height="1.30" fill="#2a2a2a" />
<rect x="51.52" y="364.21" width="1.30" height="1.30" fill="#2a2a2a" />
<rect x="55.07" y="364.21" width="1.30" height="1.30" fill="#2a2a2a" />
<rect x="58.62" y="364.21" width="1.30" height="1.30" fill="#2a2a2a" />
<rect x="62.17" y="364.21" width="1.30" height="1.30" fill="#2a2a2a" />
<rect x="65.72" y="364.21" width="1.30" height="1.30" fill="#2a2a2a" />
<rect x="69.28" y="364.21" width="1.30" height="1.30" fill="#2a2a2a" />
<rect x="72.83" y="364.21" width="1.30" height="1.30" fill="#2a2a2a" />
<rect x="76.38" y="364.21" width="1.30" height="1.30" fill="#2a2a2a" />
<rect x="79.92" y="364.21" width="1.30" height="1.30" fill="#2a2a2a" />
<rect x="82.35" y="361.50" width="3.60" height="6.77" fill="#5aa8ec" />
<text x="84.13" y="366.52" font-size="4.6" text-anchor="middle" fill="#1a1a1a" font-weight="bold" >C</text>
<text x="104.80" y="366.86" font-size="5.5" text-anchor="middle" fill="#1a1a1a" stroke="#1a1a1a" stroke-width="0.16" textLength="3.10" lengthAdjust="spacingAndGlyphs" >7</text>
<rect x="16.03" y="370.93" width="1.30" height="1.30" fill="#2a2a2a" />
<rect x="18.45" y="368.22" width="3.60" height="6.77" fill="#5aa8ec" />
<text x="20.22" y="373.24" font-size="4.6" text-anchor="middle" fill="#1a1a1a" font-weight="bold" >C</text>
<rect x="22.00" y="368.22" width="3.60" height="6.77" fill="#b80a2d" />
<text x="23.77" y="373.24" font-size="4.6" text-anchor="middle" fill="#1a1a1a" font-weight="bold" >T</text>
<rect x="26.67" y="370.93" width="1.30" height="1.30" fill="#2a2a2a" />
<rect x="30.23" y="370.93" width="1.30" height="1.30" fill="#2a2a2a" />
<rect x="33.77" y="370.93" width="1.30" height="1.30" fill="#2a2a2a" />
<rect x="37.32" y="370.93" width="1.30" height="1.30" fill="#2a2a2a" />
<rect x="40.88" y="370.93" width="1.30" height="1.30" fill="#2a2a2a" />
<rect x="44.42" y="370.93" width="1.30" height="1.30" fill="#2a2a2a" />
<rect x="47.98" y="370.93" width="1.30" height="1.30" fill="#2a2a2a" />
<rect x="51.52" y="370.93" width="1.30" height="1.30" fill="#2a2a2a" />
<rect x="53.95" y="368.22" width="3.60" height="6.77" fill="#b80a2d" />
<text x="55.72" y="373.24" font-size="4.6" text-anchor="middle" fill="#1a1a1a" font-weight="bold" >T</text>
<rect x="58.62" y="370.93" width="1.30" height="1.30" fill="#2a2a2a" />
<rect x="61.05" y="368.22" width="3.60" height="6.77" fill="#4ea737" />
<text x="62.82" y="373.24" font-size="4.6" text-anchor="middle" fill="#1a1a1a" font-weight="bold" >A</text>
<rect x="64.60" y="368.22" width="3.60" height="6.77" fill="#4ea737" />
<text x="66.38" y="373.24" font-size="4.6" text-anchor="middle" fill="#1a1a1a" font-weight="bold" >A</text>
<rect x="69.28" y="370.93" width="1.30" height="1.30" fill="#2a2a2a" />
<rect x="71.70" y="368.22" width="3.60" height="6.77" fill="#5aa8ec" />
<text x="73.48" y="373.24" font-size="4.6" text-anchor="middle" fill="#1a1a1a" font-weight="bold" >C</text>
<rect x="76.38" y="370.93" width="1.30" height="1.30" fill="#2a2a2a" />
<rect x="78.80" y="368.22" width="3.60" height="6.77" fill="#5aa8ec" />
<text x="80.58" y="373.24" font-size="4.6" text-anchor="middle" fill="#1a1a1a" font-weight="bold" >C</text>
<rect x="82.35" y="368.22" width="3.60" height="6.77" fill="#4ea737" />
<text x="84.13" y="373.24" font-size="4.6" text-anchor="middle" fill="#1a1a1a" font-weight="bold" >A</text>
<text x="104.80" y="373.58" font-size="5.5" text-anchor="middle" fill="#1a1a1a" stroke="#1a1a1a" stroke-width="0.16" textLength="3.10" lengthAdjust="spacingAndGlyphs" >5</text>
<rect x="16.03" y="377.65" width="1.30" height="1.30" fill="#2a2a2a" />
<rect x="18.45" y="374.94" width="3.60" height="6.77" fill="#4ea737" />
<text x="20.22" y="379.96" font-size="4.6" text-anchor="middle" fill="#1a1a1a" font-weight="bold" >A</text>
<rect x="23.12" y="377.65" width="1.30" height="1.30" fill="#2a2a2a" />
<rect x="26.67" y="377.65" width="1.30" height="1.30" fill="#2a2a2a" />
<rect x="30.23" y="377.65" width="1.30" height="1.30" fill="#2a2a2a" />
<rect x="33.77" y="377.65" width="1.30" height="1.30" fill="#2a2a2a" />
<rect x="37.32" y="377.65" width="1.30" height="1.30" fill="#2a2a2a" />
<rect x="40.88" y="377.65" width="1.30" height="1.30" fill="#2a2a2a" />
<rect x="43.30" y="374.94" width="3.60" height="6.77" fill="#4ea737" />
<text x="45.07" y="379.96" font-size="4.6" text-anchor="middle" fill="#1a1a1a" font-weight="bold" >A</text>
<rect x="47.98" y="377.65" width="1.30" height="1.30" fill="#2a2a2a" />
<rect x="51.52" y="377.65" width="1.30" height="1.30" fill="#2a2a2a" />
<rect x="55.07" y="377.65" width="1.30" height="1.30" fill="#2a2a2a" />
<rect x="57.50" y="374.94" width="3.60" height="6.77" fill="#5aa8ec" />
<text x="59.27" y="379.96" font-size="4.6" text-anchor="middle" fill="#1a1a1a" font-weight="bold" >C</text>
<rect x="62.17" y="377.65" width="1.30" height="1.30" fill="#2a2a2a" />
<rect x="65.72" y="377.65" width="1.30" height="1.30" fill="#2a2a2a" />
<rect x="69.28" y="377.65" width="1.30" height="1.30" fill="#2a2a2a" />
<rect x="72.83" y="377.65" width="1.30" height="1.30" fill="#2a2a2a" />
<rect x="76.38" y="377.65" width="1.30" height="1.30" fill="#2a2a2a" />
<rect x="79.92" y="377.65" width="1.30" height="1.30" fill="#2a2a2a" />
<rect x="82.35" y="374.94" width="3.60" height="6.77" fill="#5aa8ec" />
<text x="84.13" y="379.96" font-size="4.6" text-anchor="middle" fill="#1a1a1a" font-weight="bold" >C</text>
<text x="104.80" y="380.30" font-size="5.5" text-anchor="middle" fill="#1a1a1a" stroke="#1a1a1a" stroke-width="0.16" textLength="3.10" lengthAdjust="spacingAndGlyphs" >4</text>
<rect x="14.90" y="381.66" width="3.60" height="6.77" fill="#4ea737" />
<text x="16.68" y="386.68" font-size="4.6" text-anchor="middle" fill="#1a1a1a" font-weight="bold" >A</text>
<rect x="19.57" y="384.37" width="1.30" height="1.30" fill="#2a2a2a" />
<rect x="23.12" y="384.37" width="1.30" height="1.30" fill="#2a2a2a" />
<rect x="26.67" y="384.37" width="1.30" height="1.30" fill="#2a2a2a" />
<rect x="30.23" y="384.37" width="1.30" height="1.30" fill="#2a2a2a" />
<rect x="33.77" y="384.37" width="1.30" height="1.30" fill="#2a2a2a" />
<rect x="37.32" y="384.37" width="1.30" height="1.30" fill="#d0d0d0" />
<rect x="40.88" y="384.37" width="1.30" height="1.30" fill="#d0d0d0" />
<rect x="44.42" y="384.37" width="1.30" height="1.30" fill="#2a2a2a" />
<rect x="47.98" y="384.37" width="1.30" height="1.30" fill="#2a2a2a" />
<rect x="51.52" y="384.37" width="1.30" height="1.30" fill="#2a2a2a" />
<rect x="55.07" y="384.37" width="1.30" height="1.30" fill="#2a2a2a" />
<rect x="58.62" y="384.37" width="1.30" height="1.30" fill="#2a2a2a" />
<rect x="62.17" y="384.37" width="1.30" height="1.30" fill="#2a2a2a" />
<rect x="65.72" y="384.37" width="1.30" height="1.30" fill="#2a2a2a" />
<rect x="69.28" y="384.37" width="1.30" height="1.30" fill="#2a2a2a" />
<rect x="72.83" y="384.37" width="1.30" height="1.30" fill="#2a2a2a" />
<rect x="75.25" y="381.66" width="3.60" height="6.77" fill="#4ea737" />
<text x="77.03" y="386.68" font-size="4.6" text-anchor="middle" fill="#1a1a1a" font-weight="bold" >A</text>
<rect x="79.92" y="384.37" width="1.30" height="1.30" fill="#2a2a2a" />
<rect x="83.48" y="384.37" width="1.30" height="1.30" fill="#2a2a2a" />
<text x="104.80" y="387.02" font-size="5.5" text-anchor="middle" fill="#1a1a1a" stroke="#1a1a1a" stroke-width="0.16" textLength="3.10" lengthAdjust="spacingAndGlyphs" >4</text>
<rect x="14.90" y="388.38" width="3.60" height="6.77" fill="#b80a2d" />
<text x="16.68" y="393.40" font-size="4.6" text-anchor="middle" fill="#1a1a1a" font-weight="bold" >T</text>
<rect x="18.45" y="388.38" width="3.60" height="6.77" fill="#5aa8ec" />
<text x="20.22" y="393.40" font-size="4.6" text-anchor="middle" fill="#1a1a1a" font-weight="bold" >C</text>
<rect x="22.00" y="388.38" width="3.60" height="6.77" fill="#4ea737" />
<text x="23.77" y="393.40" font-size="4.6" text-anchor="middle" fill="#1a1a1a" font-weight="bold" >A</text>
<rect x="26.67" y="391.09" width="1.30" height="1.30" fill="#2a2a2a" />
<rect x="30.23" y="391.09" width="1.30" height="1.30" fill="#2a2a2a" />
<rect x="33.77" y="391.09" width="1.30" height="1.30" fill="#2a2a2a" />
<rect x="37.32" y="391.09" width="1.30" height="1.30" fill="#2a2a2a" />
<rect x="40.88" y="391.09" width="1.30" height="1.30" fill="#2a2a2a" />
<rect x="44.42" y="391.09" width="1.30" height="1.30" fill="#2a2a2a" />
<rect x="46.85" y="388.38" width="3.60" height="6.77" fill="#b80a2d" />
<text x="48.62" y="393.40" font-size="4.6" text-anchor="middle" fill="#1a1a1a" font-weight="bold" >T</text>
<rect x="51.52" y="391.09" width="1.30" height="1.30" fill="#2a2a2a" />
<rect x="55.07" y="391.09" width="1.30" height="1.30" fill="#2a2a2a" />
<rect x="58.62" y="391.09" width="1.30" height="1.30" fill="#2a2a2a" />
<rect x="62.17" y="391.09" width="1.30" height="1.30" fill="#2a2a2a" />
<rect x="65.72" y="391.09" width="1.30" height="1.30" fill="#2a2a2a" />
<rect x="69.28" y="391.09" width="1.30" height="1.30" fill="#2a2a2a" />
<rect x="72.83" y="391.09" width="1.30" height="1.30" fill="#2a2a2a" />
<rect x="76.38" y="391.09" width="1.30" height="1.30" fill="#2a2a2a" />
<rect x="79.92" y="391.09" width="1.30" height="1.30" fill="#2a2a2a" />
<rect x="82.35" y="388.38" width="3.60" height="6.77" fill="#b80a2d" />
<text x="84.13" y="393.40" font-size="4.6" text-anchor="middle" fill="#1a1a1a" font-weight="bold" >T</text>
<text x="104.80" y="393.74" font-size="5.5" text-anchor="middle" fill="#1a1a1a" stroke="#1a1a1a" stroke-width="0.16" textLength="3.10" lengthAdjust="spacingAndGlyphs" >4</text>
<rect x="16.03" y="397.81" width="1.30" height="1.30" fill="#2a2a2a" />
<rect x="19.57" y="397.81" width="1.30" height="1.30" fill="#2a2a2a" />
<rect x="23.12" y="397.81" width="1.30" height="1.30" fill="#2a2a2a" />
<rect x="26.67" y="397.81" width="1.30" height="1.30" fill="#2a2a2a" />
<rect x="30.23" y="397.81" width="1.30" height="1.30" fill="#2a2a2a" />
<rect x="33.77" y="397.81" width="1.30" height="1.30" fill="#2a2a2a" />
<rect x="37.32" y="397.81" width="1.30" height="1.30" fill="#2a2a2a" />
<rect x="40.88" y="397.81" width="1.30" height="1.30" fill="#2a2a2a" />
<rect x="43.30" y="395.10" width="3.60" height="6.77" fill="#4ea737" />
<text x="45.07" y="400.12" font-size="4.6" text-anchor="middle" fill="#1a1a1a" font-weight="bold" >A</text>
<rect x="47.98" y="397.81" width="1.30" height="1.30" fill="#2a2a2a" />
<rect x="51.52" y="397.81" width="1.30" height="1.30" fill="#2a2a2a" />
<rect x="53.95" y="395.10" width="3.60" height="6.77" fill="#f2b90c" />
<text x="55.72" y="400.12" font-size="4.6" text-anchor="middle" fill="#1a1a1a" font-weight="bold" >G</text>
<rect x="57.50" y="395.10" width="3.60" height="6.77" fill="#5aa8ec" />
<text x="59.27" y="400.12" font-size="4.6" text-anchor="middle" fill="#1a1a1a" font-weight="bold" >C</text>
<rect x="61.05" y="395.10" width="3.60" height="6.77" fill="#4ea737" />
<text x="62.82" y="400.12" font-size="4.6" text-anchor="middle" fill="#1a1a1a" font-weight="bold" >A</text>
<rect x="65.72" y="397.81" width="1.30" height="1.30" fill="#2a2a2a" />
<rect x="68.15" y="395.10" width="3.60" height="6.77" fill="#5aa8ec" />
<text x="69.93" y="400.12" font-size="4.6" text-anchor="middle" fill="#1a1a1a" font-weight="bold" >C</text>
<rect x="72.83" y="397.81" width="1.30" height="1.30" fill="#2a2a2a" />
<rect x="76.38" y="397.81" width="1.30" height="1.30" fill="#2a2a2a" />
<rect x="79.92" y="397.81" width="1.30" height="1.30" fill="#2a2a2a" />
<rect x="83.48" y="397.81" width="1.30" height="1.30" fill="#2a2a2a" />
<text x="104.80" y="400.46" font-size="5.5" text-anchor="middle" fill="#1a1a1a" stroke="#1a1a1a" stroke-width="0.16" textLength="3.10" lengthAdjust="spacingAndGlyphs" >3</text>
<rect x="16.03" y="404.53" width="1.30" height="1.30" fill="#2a2a2a" />
<rect x="19.57" y="404.53" width="1.30" height="1.30" fill="#2a2a2a" />
<rect x="23.12" y="404.53" width="1.30" height="1.30" fill="#2a2a2a" />
<rect x="26.67" y="404.53" width="1.30" height="1.30" fill="#2a2a2a" />
<rect x="30.23" y="404.53" width="1.30" height="1.30" fill="#2a2a2a" />
<rect x="33.77" y="404.53" width="1.30" height="1.30" fill="#2a2a2a" />
<rect x="37.32" y="404.53" width="1.30" height="1.30" fill="#2a2a2a" />
<rect x="39.75" y="401.82" width="3.60" height="6.77" fill="#4ea737" />
<text x="41.52" y="406.84" font-size="4.6" text-anchor="middle" fill="#1a1a1a" font-weight="bold" >A</text>
<rect x="43.30" y="401.82" width="3.60" height="6.77" fill="#4ea737" />
<text x="45.07" y="406.84" font-size="4.6" text-anchor="middle" fill="#1a1a1a" font-weight="bold" >A</text>
<rect x="47.98" y="404.53" width="1.30" height="1.30" fill="#2a2a2a" />
<rect x="50.40" y="401.82" width="3.60" height="6.77" fill="#5aa8ec" />
<text x="52.17" y="406.84" font-size="4.6" text-anchor="middle" fill="#1a1a1a" font-weight="bold" >C</text>
<rect x="55.07" y="404.53" width="1.30" height="1.30" fill="#2a2a2a" />
<rect x="58.62" y="404.53" width="1.30" height="1.30" fill="#2a2a2a" />
<rect x="62.17" y="404.53" width="1.30" height="1.30" fill="#2a2a2a" />
<rect x="65.72" y="404.53" width="1.30" height="1.30" fill="#2a2a2a" />
<rect x="69.28" y="404.53" width="1.30" height="1.30" fill="#2a2a2a" />
<rect x="72.83" y="404.53" width="1.30" height="1.30" fill="#2a2a2a" />
<rect x="76.38" y="404.53" width="1.30" height="1.30" fill="#2a2a2a" />
<rect x="78.80" y="401.82" width="3.60" height="6.77" fill="#b80a2d" />
<text x="80.58" y="406.84" font-size="4.6" text-anchor="middle" fill="#1a1a1a" font-weight="bold" >T</text>
<rect x="83.48" y="404.53" width="1.30" height="1.30" fill="#2a2a2a" />
<text x="104.80" y="407.18" font-size="5.5" text-anchor="middle" fill="#1a1a1a" stroke="#1a1a1a" stroke-width="0.16" textLength="3.10" lengthAdjust="spacingAndGlyphs" >3</text>
<rect x="16.03" y="411.25" width="1.30" height="1.30" fill="#2a2a2a" />
<rect x="18.45" y="408.54" width="3.60" height="6.77" fill="#5aa8ec" />
<text x="20.22" y="413.56" font-size="4.6" text-anchor="middle" fill="#1a1a1a" font-weight="bold" >C</text>
<rect x="23.12" y="411.25" width="1.30" height="1.30" fill="#2a2a2a" />
<rect x="25.55" y="408.54" width="3.60" height="6.77" fill="#4ea737" />
<text x="27.32" y="413.56" font-size="4.6" text-anchor="middle" fill="#1a1a1a" font-weight="bold" >A</text>
<rect x="30.23" y="411.25" width="1.30" height="1.30" fill="#2a2a2a" />
<rect x="33.77" y="411.25" width="1.30" height="1.30" fill="#2a2a2a" />
<rect x="37.32" y="411.25" width="1.30" height="1.30" fill="#2a2a2a" />
<rect x="40.88" y="411.25" width="1.30" height="1.30" fill="#2a2a2a" />
<rect x="44.42" y="411.25" width="1.30" height="1.30" fill="#2a2a2a" />
<rect x="47.98" y="411.25" width="1.30" height="1.30" fill="#2a2a2a" />
<rect x="51.52" y="411.25" width="1.30" height="1.30" fill="#2a2a2a" />
<rect x="55.07" y="411.25" width="1.30" height="1.30" fill="#2a2a2a" />
<rect x="58.62" y="411.25" width="1.30" height="1.30" fill="#2a2a2a" />
<rect x="62.17" y="411.25" width="1.30" height="1.30" fill="#2a2a2a" />
<rect x="65.72" y="411.25" width="1.30" height="1.30" fill="#2a2a2a" />
<rect x="69.28" y="411.25" width="1.30" height="1.30" fill="#2a2a2a" />
<rect x="72.83" y="411.25" width="1.30" height="1.30" fill="#2a2a2a" />
<rect x="75.25" y="408.54" width="3.60" height="6.77" fill="#f2b90c" />
<text x="77.03" y="413.56" font-size="4.6" text-anchor="middle" fill="#1a1a1a" font-weight="bold" >G</text>
<rect x="79.92" y="411.25" width="1.30" height="1.30" fill="#2a2a2a" />
<rect x="82.35" y="408.54" width="3.60" height="6.77" fill="#5aa8ec" />
<text x="84.13" y="413.56" font-size="4.6" text-anchor="middle" fill="#1a1a1a" font-weight="bold" >C</text>
<text x="104.80" y="413.90" font-size="5.5" text-anchor="middle" fill="#1a1a1a" stroke="#1a1a1a" stroke-width="0.16" textLength="3.10" lengthAdjust="spacingAndGlyphs" >2</text>
<rect x="14.90" y="415.26" width="3.60" height="6.77" fill="#4ea737" />
<text x="16.68" y="420.28" font-size="4.6" text-anchor="middle" fill="#1a1a1a" font-weight="bold" >A</text>
<rect x="19.57" y="417.97" width="1.30" height="1.30" fill="#2a2a2a" />
<rect x="23.12" y="417.97" width="1.30" height="1.30" fill="#2a2a2a" />
<rect x="26.67" y="417.97" width="1.30" height="1.30" fill="#2a2a2a" />
<rect x="30.23" y="417.97" width="1.30" height="1.30" fill="#2a2a2a" />
<rect x="32.65" y="415.26" width="3.60" height="6.77" fill="#4ea737" />
<text x="34.42" y="420.28" font-size="4.6" text-anchor="middle" fill="#1a1a1a" font-weight="bold" >A</text>
<rect x="37.32" y="417.97" width="1.30" height="1.30" fill="#2a2a2a" />
<rect x="40.88" y="417.97" width="1.30" height="1.30" fill="#2a2a2a" />
<rect x="44.42" y="417.97" width="1.30" height="1.30" fill="#2a2a2a" />
<rect x="47.98" y="417.97" width="1.30" height="1.30" fill="#2a2a2a" />
<rect x="51.52" y="417.97" width="1.30" height="1.30" fill="#2a2a2a" />
<rect x="55.07" y="417.97" width="1.30" height="1.30" fill="#2a2a2a" />
<rect x="58.62" y="417.97" width="1.30" height="1.30" fill="#2a2a2a" />
<rect x="62.17" y="417.97" width="1.30" height="1.30" fill="#2a2a2a" />
<rect x="65.72" y="417.97" width="1.30" height="1.30" fill="#2a2a2a" />
<rect x="69.28" y="417.97" width="1.30" height="1.30" fill="#2a2a2a" />
<rect x="72.83" y="417.97" width="1.30" height="1.30" fill="#2a2a2a" />
<rect x="75.25" y="415.26" width="3.60" height="6.77" fill="#f2b90c" />
<text x="77.03" y="420.28" font-size="4.6" text-anchor="middle" fill="#1a1a1a" font-weight="bold" >G</text>
<rect x="79.92" y="417.97" width="1.30" height="1.30" fill="#2a2a2a" />
<rect x="82.35" y="415.26" width="3.60" height="6.77" fill="#5aa8ec" />
<text x="84.13" y="420.28" font-size="4.6" text-anchor="middle" fill="#1a1a1a" font-weight="bold" >C</text>
<text x="104.80" y="420.62" font-size="5.5" text-anchor="middle" fill="#1a1a1a" stroke="#1a1a1a" stroke-width="0.16" textLength="3.10" lengthAdjust="spacingAndGlyphs" >2</text>
<rect x="16.03" y="424.69" width="1.30" height="1.30" fill="#2a2a2a" />
<rect x="19.57" y="424.69" width="1.30" height="1.30" fill="#2a2a2a" />
<rect x="23.12" y="424.69" width="1.30" height="1.30" fill="#2a2a2a" />
<rect x="26.67" y="424.69" width="1.30" height="1.30" fill="#2a2a2a" />
<rect x="30.23" y="424.69" width="1.30" height="1.30" fill="#2a2a2a" />
<rect x="33.77" y="424.69" width="1.30" height="1.30" fill="#2a2a2a" />
<rect x="37.32" y="424.69" width="1.30" height="1.30" fill="#2a2a2a" />
<rect x="40.88" y="424.69" width="1.30" height="1.30" fill="#2a2a2a" />
<rect x="44.42" y="424.69" width="1.30" height="1.30" fill="#f2a6b8" />
<rect x="47.98" y="424.69" width="1.30" height="1.30" fill="#f2a6b8" />
<rect x="51.52" y="424.69" width="1.30" height="1.30" fill="#f2a6b8" />
<rect x="55.07" y="424.69" width="1.30" height="1.30" fill="#2a2a2a" />
<rect x="58.62" y="424.69" width="1.30" height="1.30" fill="#2a2a2a" />
<rect x="62.17" y="424.69" width="1.30" height="1.30" fill="#2a2a2a" />
<rect x="65.72" y="424.69" width="1.30" height="1.30" fill="#2a2a2a" />
<rect x="69.28" y="424.69" width="1.30" height="1.30" fill="#2a2a2a" />
<rect x="72.83" y="424.69" width="1.30" height="1.30" fill="#2a2a2a" />
<rect x="76.38" y="424.69" width="1.30" height="1.30" fill="#2a2a2a" />
<rect x="78.80" y="421.98" width="3.60" height="6.77" fill="#b80a2d" />
<text x="80.58" y="427.00" font-size="4.6" text-anchor="middle" fill="#1a1a1a" font-weight="bold" >T</text>
<rect x="83.48" y="424.69" width="1.30" height="1.30" fill="#2a2a2a" />
<text x="104.80" y="427.34" font-size="5.5" text-anchor="middle" fill="#1a1a1a" stroke="#1a1a1a" stroke-width="0.16" textLength="3.10" lengthAdjust="spacingAndGlyphs" >2</text>
<rect x="47.00" y="280.50" width="7.00" height="6.20" fill="#c9c9cb" />
<text x="50.50" y="285.10" font-size="4.2" text-anchor="middle" fill="#222" stroke="#222" stroke-width="0.1" >G</text>
<text x="104.70" y="231.80" font-size="5.3" text-anchor="middle" fill="#222" stroke="#222" stroke-width="0.05" textLength="27.00" lengthAdjust="spacingAndGlyphs" >GUIDE-Seq</text>
<text x="104.70" y="238.60" font-size="5.0" text-anchor="middle" fill="#222" stroke="#222" stroke-width="0.05" textLength="13.40" lengthAdjust="spacingAndGlyphs" >Reads</text>
<circle cx="91.8" cy="244.0" r="0.9" fill="#000"/>
<text x="123.00" y="53.20" font-size="6.8" text-anchor="start" fill="#111" stroke="#111" stroke-width="0.04" textLength="63.00" lengthAdjust="spacingAndGlyphs" >NR3C1-Exon 2 Guide 1</text>
<path d="M154.70,82.60 L154.70,58.70 A23.9,23.9 0 0 1 174.12,96.53 Z" fill="#a6022c"/>
<path d="M154.70,82.60 L174.12,96.53 A23.9,23.9 0 1 1 154.70,58.70 Z" fill="#304b7c"/>
<text x="176.70" y="69.60" font-size="6.3" text-anchor="start" fill="#111" stroke="#111" stroke-width="0.1" textLength="12.70" lengthAdjust="spacingAndGlyphs" >34.9</text>
<text x="121.80" y="101.30" font-size="6.3" text-anchor="start" fill="#111" stroke="#111" stroke-width="0.1" textLength="12.50" lengthAdjust="spacingAndGlyphs" >65.1</text>
<rect x="141.00" y="117.80" width="5.00" height="4.60" fill="#a6022c" />
<text x="149.00" y="122.20" font-size="5.0" text-anchor="start" fill="#222" stroke="#222" stroke-width="0.1" textLength="21.60" lengthAdjust="spacingAndGlyphs" >On-Target</text>
<rect x="141.00" y="128.90" width="5.00" height="4.60" fill="#304b7c" />
<text x="149.00" y="133.30" font-size="5.0" text-anchor="start" fill="#222" stroke="#222" stroke-width="0.1" textLength="22.60" lengthAdjust="spacingAndGlyphs" >Off-Target</text>
<text x="123.60" y="263.30" font-size="6.8" text-anchor="start" fill="#111" stroke="#111" stroke-width="0.04" textLength="63.50" lengthAdjust="spacingAndGlyphs" >NR3C1-Exon 2 Guide 2</text>
<path d="M155.60,290.50 L155.60,266.90 A23.6,23.6 0 1 1 140.56,308.68 Z" fill="#a6022c"/>
<path d="M155.60,290.50 L140.56,308.68 A23.6,23.6 0 0 1 155.60,266.90 Z" fill="#304b7c"/>
<text x="120.70" y="277.00" font-size="6.3" text-anchor="start" fill="#111" stroke="#111" stroke-width="0.1" textLength="12.40" lengthAdjust="spacingAndGlyphs" >39.0</text>
<text x="180.80" y="300.60" font-size="6.3" text-anchor="start" fill="#111" stroke="#111" stroke-width="0.1" textLength="12.40" lengthAdjust="spacingAndGlyphs" >61.0</text>
<rect x="144.50" y="324.40" width="5.00" height="5.00" fill="#a6022c" />
<text x="152.40" y="329.00" font-size="5.0" text-anchor="start" fill="#222" stroke="#222" stroke-width="0.1" textLength="21.60" lengthAdjust="spacingAndGlyphs" >On-Target</text>
<rect x="144.50" y="335.00" width="5.00" height="5.00" fill="#304b7c" />
<text x="152.40" y="339.60" font-size="5.0" text-anchor="start" fill="#222" stroke="#222" stroke-width="0.1" textLength="22.60" lengthAdjust="spacingAndGlyphs" >Off-Target</text>
<text x="296.80" y="29.00" font-size="7.8" text-anchor="start" fill="#111" stroke="#111" stroke-width="0.04" textLength="87.00" lengthAdjust="spacingAndGlyphs" >Single Guide Experiment</text>
<rect x="238.95" y="37.80" width="1.70" height="59.00" fill="#ad0a33" />
<rect x="240.95" y="44.07" width="1.70" height="52.73" fill="#29457f" />
<rect x="243.15" y="38.24" width="1.70" height="58.56" fill="#29457f" />
<rect x="245.05" y="61.83" width="1.70" height="34.97" fill="#29457f" />
<rect x="247.25" y="73.12" width="1.70" height="23.68" fill="#29457f" />
<rect x="249.35" y="73.12" width="1.70" height="23.68" fill="#29457f" />
<rect x="251.55" y="75.94" width="1.70" height="20.86" fill="#29457f" />
<rect x="253.55" y="76.32" width="1.70" height="20.48" fill="#29457f" />
<rect x="255.75" y="84.96" width="1.70" height="11.84" fill="#29457f" />
<rect x="258.45" y="93.34" width="1.70" height="3.46" fill="#29457f" />
<rect x="262.95" y="85.40" width="1.70" height="11.40" fill="#29457f" />
<rect x="266.95" y="81.50" width="1.70" height="15.30" fill="#29457f" />
<rect x="269.05" y="86.60" width="1.70" height="10.20" fill="#29457f" />
<rect x="271.35" y="84.96" width="1.70" height="11.84" fill="#29457f" />
<rect x="278.05" y="90.88" width="1.70" height="5.92" fill="#29457f" />
<rect x="280.25" y="91.78" width="1.70" height="5.02" fill="#29457f" />
<rect x="286.85" y="84.15" width="1.70" height="12.65" fill="#29457f" />
<line x1="238.40" y1="34.90" x2="238.40" y2="97.30" stroke="#000" stroke-width="1.1"/>
<line x1="237.90" y1="96.80" x2="290.50" y2="96.80" stroke="#000" stroke-width="1.1"/>
<line x1="235.40" y1="37.80" x2="238.40" y2="37.80" stroke="#000" stroke-width="0.8"/>
<text x="232.70" y="39.90" font-size="6.0" text-anchor="end" fill="#111" stroke="#111" stroke-width="0.12" >100</text>
<line x1="236.90" y1="51.55" x2="238.40" y2="51.55" stroke="#000" stroke-width="0.5"/>
<line x1="236.90" y1="48.08" x2="238.40" y2="48.08" stroke="#000" stroke-width="0.5"/>
<line x1="236.90" y1="45.63" x2="238.40" y2="45.63" stroke="#000" stroke-width="0.5"/>
<line x1="236.90" y1="43.72" x2="238.40" y2="43.72" stroke="#000" stroke-width="0.5"/>
<line x1="236.90" y1="42.16" x2="238.40" y2="42.16" stroke="#000" stroke-width="0.5"/>
<line x1="236.90" y1="40.85" x2="238.40" y2="40.85" stroke="#000" stroke-width="0.5"/>
<line x1="236.90" y1="39.71" x2="238.40" y2="39.71" stroke="#000" stroke-width="0.5"/>
<line x1="236.90" y1="38.70" x2="238.40" y2="38.70" stroke="#000" stroke-width="0.5"/>
<line x1="235.40" y1="57.47" x2="238.40" y2="57.47" stroke="#000" stroke-width="0.8"/>
<text x="232.70" y="59.57" font-size="6.0" text-anchor="end" fill="#111" stroke="#111" stroke-width="0.12" >10</text>
<line x1="236.90" y1="71.21" x2="238.40" y2="71.21" stroke="#000" stroke-width="0.5"/>
<line x1="236.90" y1="67.75" x2="238.40" y2="67.75" stroke="#000" stroke-width="0.5"/>
<line x1="236.90" y1="65.29" x2="238.40" y2="65.29" stroke="#000" stroke-width="0.5"/>
<line x1="236.90" y1="63.39" x2="238.40" y2="63.39" stroke="#000" stroke-width="0.5"/>
<line x1="236.90" y1="61.83" x2="238.40" y2="61.83" stroke="#000" stroke-width="0.5"/>
<line x1="236.90" y1="60.51" x2="238.40" y2="60.51" stroke="#000" stroke-width="0.5"/>
<line x1="236.90" y1="59.37" x2="238.40" y2="59.37" stroke="#000" stroke-width="0.5"/>
<line x1="236.90" y1="58.37" x2="238.40" y2="58.37" stroke="#000" stroke-width="0.5"/>
<line x1="235.40" y1="77.13" x2="238.40" y2="77.13" stroke="#000" stroke-width="0.8"/>
<text x="232.70" y="79.23" font-size="6.0" text-anchor="end" fill="#111" stroke="#111" stroke-width="0.12" >1</text>
<line x1="236.90" y1="90.88" x2="238.40" y2="90.88" stroke="#000" stroke-width="0.5"/>
<line x1="236.90" y1="87.42" x2="238.40" y2="87.42" stroke="#000" stroke-width="0.5"/>
<line x1="236.90" y1="84.96" x2="238.40" y2="84.96" stroke="#000" stroke-width="0.5"/>
<line x1="236.90" y1="83.05" x2="238.40" y2="83.05" stroke="#000" stroke-width="0.5"/>
<line x1="236.90" y1="81.50" x2="238.40" y2="81.50" stroke="#000" stroke-width="0.5"/>
<line x1="236.90" y1="80.18" x2="238.40" y2="80.18" stroke="#000" stroke-width="0.5"/>
<line x1="236.90" y1="79.04" x2="238.40" y2="79.04" stroke="#000" stroke-width="0.5"/>
<line x1="236.90" y1="78.03" x2="238.40" y2="78.03" stroke="#000" stroke-width="0.5"/>
<line x1="235.40" y1="96.80" x2="238.40" y2="96.80" stroke="#000" stroke-width="0.8"/>
<text x="232.70" y="98.90" font-size="6.0" text-anchor="end" fill="#111" stroke="#111" stroke-width="0.12" >0.1</text>
<path d="M276.20,51.90 L276.20,40.05 A11.85,11.85 0 0 1 284.84,60.01 Z" fill="#a6022c"/>
<path d="M276.20,51.90 L284.84,60.01 A11.85,11.85 0 1 1 276.20,40.05 Z" fill="#304b7c"/>
<text x="276.20" y="70.80" font-size="6.3" text-anchor="middle" fill="#333" stroke="#333" stroke-width="0.1" textLength="12.30" lengthAdjust="spacingAndGlyphs" >37%</text>
<rect x="314.55" y="37.80" width="1.70" height="59.00" fill="#ad0a33" />
<rect x="316.85" y="61.15" width="1.70" height="35.65" fill="#29457f" />
<rect x="319.05" y="40.26" width="1.70" height="56.54" fill="#29457f" />
<rect x="321.15" y="93.34" width="1.70" height="3.46" fill="#29457f" />
<rect x="325.65" y="90.88" width="1.70" height="5.92" fill="#29457f" />
<rect x="329.85" y="92.27" width="1.70" height="4.53" fill="#29457f" />
<rect x="338.85" y="90.07" width="1.70" height="6.73" fill="#29457f" />
<line x1="314.20" y1="34.90" x2="314.20" y2="97.30" stroke="#000" stroke-width="1.1"/>
<line x1="313.70" y1="96.80" x2="366.00" y2="96.80" stroke="#000" stroke-width="1.1"/>
<line x1="311.20" y1="37.80" x2="314.20" y2="37.80" stroke="#000" stroke-width="0.8"/>
<text x="308.50" y="39.90" font-size="6.0" text-anchor="end" fill="#111" stroke="#111" stroke-width="0.12" >100</text>
<line x1="312.70" y1="51.55" x2="314.20" y2="51.55" stroke="#000" stroke-width="0.5"/>
<line x1="312.70" y1="48.08" x2="314.20" y2="48.08" stroke="#000" stroke-width="0.5"/>
<line x1="312.70" y1="45.63" x2="314.20" y2="45.63" stroke="#000" stroke-width="0.5"/>
<line x1="312.70" y1="43.72" x2="314.20" y2="43.72" stroke="#000" stroke-width="0.5"/>
<line x1="312.70" y1="42.16" x2="314.20" y2="42.16" stroke="#000" stroke-width="0.5"/>
<line x1="312.70" y1="40.85" x2="314.20" y2="40.85" stroke="#000" stroke-width="0.5"/>
<line x1="312.70" y1="39.71" x2="314.20" y2="39.71" stroke="#000" stroke-width="0.5"/>
<line x1="312.70" y1="38.70" x2="314.20" y2="38.70" stroke="#000" stroke-width="0.5"/>
<line x1="311.20" y1="57.47" x2="314.20" y2="57.47" stroke="#000" stroke-width="0.8"/>
<text x="308.50" y="59.57" font-size="6.0" text-anchor="end" fill="#111" stroke="#111" stroke-width="0.12" >10</text>
<line x1="312.70" y1="71.21" x2="314.20" y2="71.21" stroke="#000" stroke-width="0.5"/>
<line x1="312.70" y1="67.75" x2="314.20" y2="67.75" stroke="#000" stroke-width="0.5"/>
<line x1="312.70" y1="65.29" x2="314.20" y2="65.29" stroke="#000" stroke-width="0.5"/>
<line x1="312.70" y1="63.39" x2="314.20" y2="63.39" stroke="#000" stroke-width="0.5"/>
<line x1="312.70" y1="61.83" x2="314.20" y2="61.83" stroke="#000" stroke-width="0.5"/>
<line x1="312.70" y1="60.51" x2="314.20" y2="60.51" stroke="#000" stroke-width="0.5"/>
<line x1="312.70" y1="59.37" x2="314.20" y2="59.37" stroke="#000" stroke-width="0.5"/>
<line x1="312.70" y1="58.37" x2="314.20" y2="58.37" stroke="#000" stroke-width="0.5"/>
<line x1="311.20" y1="77.13" x2="314.20" y2="77.13" stroke="#000" stroke-width="0.8"/>
<text x="308.50" y="79.23" font-size="6.0" text-anchor="end" fill="#111" stroke="#111" stroke-width="0.12" >1</text>
<line x1="312.70" y1="90.88" x2="314.20" y2="90.88" stroke="#000" stroke-width="0.5"/>
<line x1="312.70" y1="87.42" x2="314.20" y2="87.42" stroke="#000" stroke-width="0.5"/>
<line x1="312.70" y1="84.96" x2="314.20" y2="84.96" stroke="#000" stroke-width="0.5"/>
<line x1="312.70" y1="83.05" x2="314.20" y2="83.05" stroke="#000" stroke-width="0.5"/>
<line x1="312.70" y1="81.50" x2="314.20" y2="81.50" stroke="#000" stroke-width="0.5"/>
<line x1="312.70" y1="80.18" x2="314.20" y2="80.18" stroke="#000" stroke-width="0.5"/>
<line x1="312.70" y1="79.04" x2="314.20" y2="79.04" stroke="#000" stroke-width="0.5"/>
<line x1="312.70" y1="78.03" x2="314.20" y2="78.03" stroke="#000" stroke-width="0.5"/>
<line x1="311.20" y1="96.80" x2="314.20" y2="96.80" stroke="#000" stroke-width="0.8"/>
<text x="308.50" y="98.90" font-size="6.0" text-anchor="end" fill="#111" stroke="#111" stroke-width="0.12" >0.1</text>
<path d="M351.50,51.90 L351.50,40.05 A11.85,11.85 0 1 1 348.55,63.38 Z" fill="#a6022c"/>
<path d="M351.50,51.90 L348.55,63.38 A11.85,11.85 0 0 1 351.50,40.05 Z" fill="#304b7c"/>
<text x="351.50" y="70.80" font-size="6.3" text-anchor="middle" fill="#333" stroke="#333" stroke-width="0.1" textLength="12.30" lengthAdjust="spacingAndGlyphs" >54%</text>
<rect x="390.15" y="37.80" width="1.70" height="59.00" fill="#ad0a33" />
<rect x="392.45" y="93.93" width="1.70" height="2.87" fill="#29457f" />
<rect x="394.15" y="90.07" width="1.70" height="6.73" fill="#29457f" />
<rect x="400.35" y="96.38" width="1.70" height="0.42" fill="#29457f" />
<rect x="407.55" y="90.07" width="1.70" height="6.73" fill="#29457f" />
<line x1="389.40" y1="34.90" x2="389.40" y2="97.30" stroke="#000" stroke-width="1.1"/>
<line x1="388.90" y1="96.80" x2="442.50" y2="96.80" stroke="#000" stroke-width="1.1"/>
<line x1="386.40" y1="37.80" x2="389.40" y2="37.80" stroke="#000" stroke-width="0.8"/>
<text x="383.70" y="39.90" font-size="6.0" text-anchor="end" fill="#111" stroke="#111" stroke-width="0.12" >100</text>
<line x1="387.90" y1="51.55" x2="389.40" y2="51.55" stroke="#000" stroke-width="0.5"/>
<line x1="387.90" y1="48.08" x2="389.40" y2="48.08" stroke="#000" stroke-width="0.5"/>
<line x1="387.90" y1="45.63" x2="389.40" y2="45.63" stroke="#000" stroke-width="0.5"/>
<line x1="387.90" y1="43.72" x2="389.40" y2="43.72" stroke="#000" stroke-width="0.5"/>
<line x1="387.90" y1="42.16" x2="389.40" y2="42.16" stroke="#000" stroke-width="0.5"/>
<line x1="387.90" y1="40.85" x2="389.40" y2="40.85" stroke="#000" stroke-width="0.5"/>
<line x1="387.90" y1="39.71" x2="389.40" y2="39.71" stroke="#000" stroke-width="0.5"/>
<line x1="387.90" y1="38.70" x2="389.40" y2="38.70" stroke="#000" stroke-width="0.5"/>
<line x1="386.40" y1="57.47" x2="389.40" y2="57.47" stroke="#000" stroke-width="0.8"/>
<text x="383.70" y="59.57" font-size="6.0" text-anchor="end" fill="#111" stroke="#111" stroke-width="0.12" >10</text>
<line x1="387.90" y1="71.21" x2="389.40" y2="71.21" stroke="#000" stroke-width="0.5"/>
<line x1="387.90" y1="67.75" x2="389.40" y2="67.75" stroke="#000" stroke-width="0.5"/>
<line x1="387.90" y1="65.29" x2="389.40" y2="65.29" stroke="#000" stroke-width="0.5"/>
<line x1="387.90" y1="63.39" x2="389.40" y2="63.39" stroke="#000" stroke-width="0.5"/>
<line x1="387.90" y1="61.83" x2="389.40" y2="61.83" stroke="#000" stroke-width="0.5"/>
<line x1="387.90" y1="60.51" x2="389.40" y2="60.51" stroke="#000" stroke-width="0.5"/>
<line x1="387.90" y1="59.37" x2="389.40" y2="59.37" stroke="#000" stroke-width="0.5"/>
<line x1="387.90" y1="58.37" x2="389.40" y2="58.37" stroke="#000" stroke-width="0.5"/>
<line x1="386.40" y1="77.13" x2="389.40" y2="77.13" stroke="#000" stroke-width="0.8"/>
<text x="383.70" y="79.23" font-size="6.0" text-anchor="end" fill="#111" stroke="#111" stroke-width="0.12" >1</text>
<line x1="387.90" y1="90.88" x2="389.40" y2="90.88" stroke="#000" stroke-width="0.5"/>
<line x1="387.90" y1="87.42" x2="389.40" y2="87.42" stroke="#000" stroke-width="0.5"/>
<line x1="387.90" y1="84.96" x2="389.40" y2="84.96" stroke="#000" stroke-width="0.5"/>
<line x1="387.90" y1="83.05" x2="389.40" y2="83.05" stroke="#000" stroke-width="0.5"/>
<line x1="387.90" y1="81.50" x2="389.40" y2="81.50" stroke="#000" stroke-width="0.5"/>
<line x1="387.90" y1="80.18" x2="389.40" y2="80.18" stroke="#000" stroke-width="0.5"/>
<line x1="387.90" y1="79.04" x2="389.40" y2="79.04" stroke="#000" stroke-width="0.5"/>
<line x1="387.90" y1="78.03" x2="389.40" y2="78.03" stroke="#000" stroke-width="0.5"/>
<line x1="386.40" y1="96.80" x2="389.40" y2="96.80" stroke="#000" stroke-width="0.8"/>
<text x="383.70" y="98.90" font-size="6.0" text-anchor="end" fill="#111" stroke="#111" stroke-width="0.12" >0.1</text>
<path d="M427.10,51.90 L427.10,40.05 A11.85,11.85 0 1 1 425.98,40.10 Z" fill="#a6022c"/>
<path d="M427.10,51.90 L425.98,40.10 A11.85,11.85 0 0 1 427.10,40.05 Z" fill="#304b7c"/>
<text x="427.10" y="70.90" font-size="6.3" text-anchor="middle" fill="#333" stroke="#333" stroke-width="0.1" textLength="12.30" lengthAdjust="spacingAndGlyphs" >99%</text>
<rect x="238.95" y="111.30" width="1.70" height="59.70" fill="#ad0a33" />
<rect x="241.25" y="128.93" width="1.70" height="42.07" fill="#29457f" />
<rect x="244.05" y="133.13" width="1.70" height="37.87" fill="#29457f" />
<rect x="246.75" y="154.18" width="1.70" height="16.82" fill="#29457f" />
<rect x="249.25" y="142.20" width="1.70" height="28.80" fill="#29457f" />
<rect x="251.95" y="150.28" width="1.70" height="20.72" fill="#29457f" />
<rect x="254.45" y="159.02" width="1.70" height="11.98" fill="#29457f" />
<rect x="257.15" y="151.10" width="1.70" height="19.90" fill="#29457f" />
<rect x="262.45" y="159.46" width="1.70" height="11.54" fill="#29457f" />
<rect x="273.05" y="154.82" width="1.70" height="16.18" fill="#29457f" />
<rect x="275.75" y="155.51" width="1.70" height="15.49" fill="#29457f" />
<rect x="280.95" y="165.92" width="1.70" height="5.08" fill="#29457f" />
<line x1="238.40" y1="108.40" x2="238.40" y2="171.50" stroke="#000" stroke-width="1.1"/>
<line x1="237.90" y1="171.00" x2="290.20" y2="171.00" stroke="#000" stroke-width="1.1"/>
<line x1="235.40" y1="111.30" x2="238.40" y2="111.30" stroke="#000" stroke-width="0.8"/>
<text x="232.70" y="113.40" font-size="6.0" text-anchor="end" fill="#111" stroke="#111" stroke-width="0.12" >100</text>
<line x1="236.90" y1="125.21" x2="238.40" y2="125.21" stroke="#000" stroke-width="0.5"/>
<line x1="236.90" y1="121.71" x2="238.40" y2="121.71" stroke="#000" stroke-width="0.5"/>
<line x1="236.90" y1="119.22" x2="238.40" y2="119.22" stroke="#000" stroke-width="0.5"/>
<line x1="236.90" y1="117.29" x2="238.40" y2="117.29" stroke="#000" stroke-width="0.5"/>
<line x1="236.90" y1="115.71" x2="238.40" y2="115.71" stroke="#000" stroke-width="0.5"/>
<line x1="236.90" y1="114.38" x2="238.40" y2="114.38" stroke="#000" stroke-width="0.5"/>
<line x1="236.90" y1="113.23" x2="238.40" y2="113.23" stroke="#000" stroke-width="0.5"/>
<line x1="236.90" y1="112.21" x2="238.40" y2="112.21" stroke="#000" stroke-width="0.5"/>
<line x1="235.40" y1="131.20" x2="238.40" y2="131.20" stroke="#000" stroke-width="0.8"/>
<text x="232.70" y="133.30" font-size="6.0" text-anchor="end" fill="#111" stroke="#111" stroke-width="0.12" >10</text>
<line x1="236.90" y1="145.11" x2="238.40" y2="145.11" stroke="#000" stroke-width="0.5"/>
<line x1="236.90" y1="141.61" x2="238.40" y2="141.61" stroke="#000" stroke-width="0.5"/>
<line x1="236.90" y1="139.12" x2="238.40" y2="139.12" stroke="#000" stroke-width="0.5"/>
<line x1="236.90" y1="137.19" x2="238.40" y2="137.19" stroke="#000" stroke-width="0.5"/>
<line x1="236.90" y1="135.61" x2="238.40" y2="135.61" stroke="#000" stroke-width="0.5"/>
<line x1="236.90" y1="134.28" x2="238.40" y2="134.28" stroke="#000" stroke-width="0.5"/>
<line x1="236.90" y1="133.13" x2="238.40" y2="133.13" stroke="#000" stroke-width="0.5"/>
<line x1="236.90" y1="132.11" x2="238.40" y2="132.11" stroke="#000" stroke-width="0.5"/>
<line x1="235.40" y1="151.10" x2="238.40" y2="151.10" stroke="#000" stroke-width="0.8"/>
<text x="232.70" y="153.20" font-size="6.0" text-anchor="end" fill="#111" stroke="#111" stroke-width="0.12" >1</text>
<line x1="236.90" y1="165.01" x2="238.40" y2="165.01" stroke="#000" stroke-width="0.5"/>
<line x1="236.90" y1="161.51" x2="238.40" y2="161.51" stroke="#000" stroke-width="0.5"/>
<line x1="236.90" y1="159.02" x2="238.40" y2="159.02" stroke="#000" stroke-width="0.5"/>
<line x1="236.90" y1="157.09" x2="238.40" y2="157.09" stroke="#000" stroke-width="0.5"/>
<line x1="236.90" y1="155.51" x2="238.40" y2="155.51" stroke="#000" stroke-width="0.5"/>
<line x1="236.90" y1="154.18" x2="238.40" y2="154.18" stroke="#000" stroke-width="0.5"/>
<line x1="236.90" y1="153.03" x2="238.40" y2="153.03" stroke="#000" stroke-width="0.5"/>
<line x1="236.90" y1="152.01" x2="238.40" y2="152.01" stroke="#000" stroke-width="0.5"/>
<line x1="235.40" y1="171.00" x2="238.40" y2="171.00" stroke="#000" stroke-width="0.8"/>
<text x="232.70" y="173.10" font-size="6.0" text-anchor="end" fill="#111" stroke="#111" stroke-width="0.12" >0.1</text>
<path d="M276.10,125.70 L276.10,113.85 A11.85,11.85 0 1 1 264.27,126.44 Z" fill="#a6022c"/>
<path d="M276.10,125.70 L264.27,126.44 A11.85,11.85 0 0 1 276.10,113.85 Z" fill="#304b7c"/>
<text x="276.10" y="144.50" font-size="6.3" text-anchor="middle" fill="#333" stroke="#333" stroke-width="0.1" textLength="12.30" lengthAdjust="spacingAndGlyphs" >74%</text>
<rect x="314.55" y="112.21" width="1.70" height="58.79" fill="#ad0a33" />
<rect x="319.95" y="165.01" width="1.70" height="5.99" fill="#29457f" />
<rect x="348.75" y="163.80" width="1.70" height="7.20" fill="#29457f" />
<rect x="356.05" y="170.18" width="1.70" height="0.82" fill="#29457f" />
<rect x="359.25" y="166.94" width="1.70" height="4.06" fill="#29457f" />
<line x1="314.00" y1="108.40" x2="314.00" y2="171.50" stroke="#000" stroke-width="1.1"/>
<line x1="313.50" y1="171.00" x2="366.20" y2="171.00" stroke="#000" stroke-width="1.1"/>
<line x1="311.00" y1="111.30" x2="314.00" y2="111.30" stroke="#000" stroke-width="0.8"/>
<text x="308.30" y="113.40" font-size="6.0" text-anchor="end" fill="#111" stroke="#111" stroke-width="0.12" >100</text>
<line x1="312.50" y1="125.21" x2="314.00" y2="125.21" stroke="#000" stroke-width="0.5"/>
<line x1="312.50" y1="121.71" x2="314.00" y2="121.71" stroke="#000" stroke-width="0.5"/>
<line x1="312.50" y1="119.22" x2="314.00" y2="119.22" stroke="#000" stroke-width="0.5"/>
<line x1="312.50" y1="117.29" x2="314.00" y2="117.29" stroke="#000" stroke-width="0.5"/>
<line x1="312.50" y1="115.71" x2="314.00" y2="115.71" stroke="#000" stroke-width="0.5"/>
<line x1="312.50" y1="114.38" x2="314.00" y2="114.38" stroke="#000" stroke-width="0.5"/>
<line x1="312.50" y1="113.23" x2="314.00" y2="113.23" stroke="#000" stroke-width="0.5"/>
<line x1="312.50" y1="112.21" x2="314.00" y2="112.21" stroke="#000" stroke-width="0.5"/>
<line x1="311.00" y1="131.20" x2="314.00" y2="131.20" stroke="#000" stroke-width="0.8"/>
<text x="308.30" y="133.30" font-size="6.0" text-anchor="end" fill="#111" stroke="#111" stroke-width="0.12" >10</text>
<line x1="312.50" y1="145.11" x2="314.00" y2="145.11" stroke="#000" stroke-width="0.5"/>
<line x1="312.50" y1="141.61" x2="314.00" y2="141.61" stroke="#000" stroke-width="0.5"/>
<line x1="312.50" y1="139.12" x2="314.00" y2="139.12" stroke="#000" stroke-width="0.5"/>
<line x1="312.50" y1="137.19" x2="314.00" y2="137.19" stroke="#000" stroke-width="0.5"/>
<line x1="312.50" y1="135.61" x2="314.00" y2="135.61" stroke="#000" stroke-width="0.5"/>
<line x1="312.50" y1="134.28" x2="314.00" y2="134.28" stroke="#000" stroke-width="0.5"/>
<line x1="312.50" y1="133.13" x2="314.00" y2="133.13" stroke="#000" stroke-width="0.5"/>
<line x1="312.50" y1="132.11" x2="314.00" y2="132.11" stroke="#000" stroke-width="0.5"/>
<line x1="311.00" y1="151.10" x2="314.00" y2="151.10" stroke="#000" stroke-width="0.8"/>
<text x="308.30" y="153.20" font-size="6.0" text-anchor="end" fill="#111" stroke="#111" stroke-width="0.12" >1</text>
<line x1="312.50" y1="165.01" x2="314.00" y2="165.01" stroke="#000" stroke-width="0.5"/>
<line x1="312.50" y1="161.51" x2="314.00" y2="161.51" stroke="#000" stroke-width="0.5"/>
<line x1="312.50" y1="159.02" x2="314.00" y2="159.02" stroke="#000" stroke-width="0.5"/>
<line x1="312.50" y1="157.09" x2="314.00" y2="157.09" stroke="#000" stroke-width="0.5"/>
<line x1="312.50" y1="155.51" x2="314.00" y2="155.51" stroke="#000" stroke-width="0.5"/>
<line x1="312.50" y1="154.18" x2="314.00" y2="154.18" stroke="#000" stroke-width="0.5"/>
<line x1="312.50" y1="153.03" x2="314.00" y2="153.03" stroke="#000" stroke-width="0.5"/>
<line x1="312.50" y1="152.01" x2="314.00" y2="152.01" stroke="#000" stroke-width="0.5"/>
<line x1="311.00" y1="171.00" x2="314.00" y2="171.00" stroke="#000" stroke-width="0.8"/>
<text x="308.30" y="173.10" font-size="6.0" text-anchor="end" fill="#111" stroke="#111" stroke-width="0.12" >0.1</text>
<path d="M351.00,125.80 L351.00,113.95 A11.85,11.85 0 1 1 349.88,114.00 Z" fill="#a6022c"/>
<path d="M351.00,125.80 L349.88,114.00 A11.85,11.85 0 0 1 351.00,113.95 Z" fill="#304b7c"/>
<text x="351.00" y="144.70" font-size="6.3" text-anchor="middle" fill="#333" stroke="#333" stroke-width="0.1" textLength="12.30" lengthAdjust="spacingAndGlyphs" >99%</text>
<rect x="390.15" y="113.79" width="1.70" height="57.21" fill="#ad0a33" />
<rect x="408.05" y="170.18" width="1.70" height="0.82" fill="#29457f" />
<rect x="413.75" y="168.09" width="1.70" height="2.91" fill="#29457f" />
<rect x="421.55" y="168.73" width="1.70" height="2.27" fill="#29457f" />
<line x1="389.40" y1="108.40" x2="389.40" y2="171.50" stroke="#000" stroke-width="1.1"/>
<line x1="388.90" y1="171.00" x2="442.50" y2="171.00" stroke="#000" stroke-width="1.1"/>
<line x1="386.40" y1="111.30" x2="389.40" y2="111.30" stroke="#000" stroke-width="0.8"/>
<text x="383.70" y="113.40" font-size="6.0" text-anchor="end" fill="#111" stroke="#111" stroke-width="0.12" >100</text>
<line x1="387.90" y1="125.21" x2="389.40" y2="125.21" stroke="#000" stroke-width="0.5"/>
<line x1="387.90" y1="121.71" x2="389.40" y2="121.71" stroke="#000" stroke-width="0.5"/>
<line x1="387.90" y1="119.22" x2="389.40" y2="119.22" stroke="#000" stroke-width="0.5"/>
<line x1="387.90" y1="117.29" x2="389.40" y2="117.29" stroke="#000" stroke-width="0.5"/>
<line x1="387.90" y1="115.71" x2="389.40" y2="115.71" stroke="#000" stroke-width="0.5"/>
<line x1="387.90" y1="114.38" x2="389.40" y2="114.38" stroke="#000" stroke-width="0.5"/>
<line x1="387.90" y1="113.23" x2="389.40" y2="113.23" stroke="#000" stroke-width="0.5"/>
<line x1="387.90" y1="112.21" x2="389.40" y2="112.21" stroke="#000" stroke-width="0.5"/>
<line x1="386.40" y1="131.20" x2="389.40" y2="131.20" stroke="#000" stroke-width="0.8"/>
<text x="383.70" y="133.30" font-size="6.0" text-anchor="end" fill="#111" stroke="#111" stroke-width="0.12" >10</text>
<line x1="387.90" y1="145.11" x2="389.40" y2="145.11" stroke="#000" stroke-width="0.5"/>
<line x1="387.90" y1="141.61" x2="389.40" y2="141.61" stroke="#000" stroke-width="0.5"/>
<line x1="387.90" y1="139.12" x2="389.40" y2="139.12" stroke="#000" stroke-width="0.5"/>
<line x1="387.90" y1="137.19" x2="389.40" y2="137.19" stroke="#000" stroke-width="0.5"/>
<line x1="387.90" y1="135.61" x2="389.40" y2="135.61" stroke="#000" stroke-width="0.5"/>
<line x1="387.90" y1="134.28" x2="389.40" y2="134.28" stroke="#000" stroke-width="0.5"/>
<line x1="387.90" y1="133.13" x2="389.40" y2="133.13" stroke="#000" stroke-width="0.5"/>
<line x1="387.90" y1="132.11" x2="389.40" y2="132.11" stroke="#000" stroke-width="0.5"/>
<line x1="386.40" y1="151.10" x2="389.40" y2="151.10" stroke="#000" stroke-width="0.8"/>
<text x="383.70" y="153.20" font-size="6.0" text-anchor="end" fill="#111" stroke="#111" stroke-width="0.12" >1</text>
<line x1="387.90" y1="165.01" x2="389.40" y2="165.01" stroke="#000" stroke-width="0.5"/>
<line x1="387.90" y1="161.51" x2="389.40" y2="161.51" stroke="#000" stroke-width="0.5"/>
<line x1="387.90" y1="159.02" x2="389.40" y2="159.02" stroke="#000" stroke-width="0.5"/>
<line x1="387.90" y1="157.09" x2="389.40" y2="157.09" stroke="#000" stroke-width="0.5"/>
<line x1="387.90" y1="155.51" x2="389.40" y2="155.51" stroke="#000" stroke-width="0.5"/>
<line x1="387.90" y1="154.18" x2="389.40" y2="154.18" stroke="#000" stroke-width="0.5"/>
<line x1="387.90" y1="153.03" x2="389.40" y2="153.03" stroke="#000" stroke-width="0.5"/>
<line x1="387.90" y1="152.01" x2="389.40" y2="152.01" stroke="#000" stroke-width="0.5"/>
<line x1="386.40" y1="171.00" x2="389.40" y2="171.00" stroke="#000" stroke-width="0.8"/>
<text x="383.70" y="173.10" font-size="6.0" text-anchor="end" fill="#111" stroke="#111" stroke-width="0.12" >0.1</text>
<path d="M427.10,126.10 L427.10,114.25 A11.85,11.85 0 1 1 425.98,114.30 Z" fill="#a6022c"/>
<path d="M427.10,126.10 L425.98,114.30 A11.85,11.85 0 0 1 427.10,114.25 Z" fill="#304b7c"/>
<text x="427.10" y="144.70" font-size="6.3" text-anchor="middle" fill="#333" stroke="#333" stroke-width="0.1" textLength="12.30" lengthAdjust="spacingAndGlyphs" >99%</text>
<text x="215.00" y="104.00" font-size="7.2" text-anchor="middle" fill="#111" stroke="#111" stroke-width="0.3" textLength="44.40" lengthAdjust="spacingAndGlyphs" transform="rotate(-90 215.00 104.00)" dy="2.4">Indel by NGS (%)</text>
<text x="263.60" y="178.10" font-size="6.0" text-anchor="middle" fill="#222" stroke="#222" stroke-width="0.1" textLength="23.80" lengthAdjust="spacingAndGlyphs" >WT Cas9</text>
<text x="264.30" y="187.20" font-size="6.0" text-anchor="middle" fill="#222" stroke="#222" stroke-width="0.1" textLength="38.10" lengthAdjust="spacingAndGlyphs" >Stable cell line</text>
<text x="339.00" y="179.20" font-size="6.0" text-anchor="middle" fill="#222" stroke="#222" stroke-width="0.1" textLength="40.50" lengthAdjust="spacingAndGlyphs" >WT Cas9 RNP</text>
<text x="415.00" y="179.60" font-size="6.0" text-anchor="middle" fill="#222" stroke="#222" stroke-width="0.1" textLength="42.50" lengthAdjust="spacingAndGlyphs" >HIFI Cas9 RNP</text>
<text x="448.70" y="67.70" font-size="6.8" text-anchor="middle" fill="#222" stroke="#222" stroke-width="0.12" textLength="20.40" lengthAdjust="spacingAndGlyphs" transform="rotate(-90 448.70 67.70)" dy="2.2">Guide 1</text>
<text x="448.70" y="141.90" font-size="6.8" text-anchor="middle" fill="#222" stroke="#222" stroke-width="0.12" textLength="20.60" lengthAdjust="spacingAndGlyphs" transform="rotate(-90 448.70 141.90)" dy="2.2">Guide 2</text>
<rect x="455.00" y="87.00" width="5.00" height="4.30" fill="#304b7c" />
<text x="463.70" y="91.00" font-size="5.0" text-anchor="start" fill="#222" stroke="#222" stroke-width="0.1" textLength="22.50" lengthAdjust="spacingAndGlyphs" >Off-Target</text>
<rect x="455.00" y="97.50" width="5.00" height="4.60" fill="#a6022c" />
<text x="463.70" y="101.90" font-size="5.0" text-anchor="start" fill="#222" stroke="#222" stroke-width="0.1" textLength="21.50" lengthAdjust="spacingAndGlyphs" >On-Target</text>
<text x="309.30" y="229.20" font-size="7.8" text-anchor="start" fill="#111" stroke="#111" stroke-width="0.04" textLength="90.00" lengthAdjust="spacingAndGlyphs" >Double Guide Experiment</text>
<rect x="240.95" y="240.90" width="1.75" height="54.40" fill="#29457f" />
<rect x="242.70" y="240.90" width="1.75" height="54.40" fill="#ad0a33" />
<rect x="245.64" y="258.59" width="1.75" height="36.71" fill="#29457f" />
<rect x="247.39" y="280.62" width="1.75" height="14.68" fill="#ad0a33" />
<rect x="250.33" y="243.92" width="1.75" height="51.38" fill="#29457f" />
<rect x="252.08" y="278.92" width="1.75" height="16.38" fill="#ad0a33" />
<rect x="255.02" y="289.22" width="1.75" height="6.08" fill="#29457f" />
<rect x="264.40" y="280.62" width="1.75" height="14.68" fill="#29457f" />
<rect x="266.15" y="282.32" width="1.75" height="12.98" fill="#ad0a33" />
<rect x="273.78" y="280.62" width="1.75" height="14.68" fill="#29457f" />
<rect x="278.47" y="275.21" width="1.75" height="20.09" fill="#29457f" />
<rect x="280.22" y="282.32" width="1.75" height="12.98" fill="#ad0a33" />
<rect x="287.85" y="279.31" width="1.75" height="15.99" fill="#29457f" />
<rect x="292.54" y="282.32" width="1.75" height="12.98" fill="#29457f" />
<rect x="294.29" y="284.72" width="1.75" height="10.58" fill="#ad0a33" />
<rect x="297.23" y="287.11" width="1.75" height="8.19" fill="#29457f" />
<rect x="298.98" y="285.79" width="1.75" height="9.51" fill="#ad0a33" />
<rect x="303.67" y="278.92" width="1.75" height="16.38" fill="#ad0a33" />
<rect x="325.37" y="287.90" width="1.75" height="7.40" fill="#29457f" />
<rect x="327.12" y="287.11" width="1.75" height="8.19" fill="#ad0a33" />
<rect x="330.06" y="285.79" width="1.75" height="9.51" fill="#29457f" />
<rect x="331.81" y="291.83" width="1.75" height="3.47" fill="#ad0a33" />
<rect x="334.75" y="283.81" width="1.75" height="11.49" fill="#29457f" />
<rect x="336.50" y="285.79" width="1.75" height="9.51" fill="#ad0a33" />
<rect x="344.13" y="278.57" width="1.75" height="16.73" fill="#29457f" />
<line x1="238.20" y1="238.00" x2="238.20" y2="295.90" stroke="#000" stroke-width="1.2"/>
<line x1="237.60" y1="295.30" x2="355.70" y2="295.30" stroke="#000" stroke-width="1.3"/>
<line x1="235.60" y1="240.90" x2="238.20" y2="240.90" stroke="#000" stroke-width="0.8"/>
<text x="232.60" y="243.05" font-size="6.2" text-anchor="end" fill="#111" stroke="#111" stroke-width="0.12" >100</text>
<line x1="235.60" y1="254.50" x2="238.20" y2="254.50" stroke="#000" stroke-width="0.8"/>
<text x="232.60" y="256.65" font-size="6.2" text-anchor="end" fill="#111" stroke="#111" stroke-width="0.12" >10</text>
<line x1="235.60" y1="268.10" x2="238.20" y2="268.10" stroke="#000" stroke-width="0.8"/>
<text x="232.60" y="270.25" font-size="6.2" text-anchor="end" fill="#111" stroke="#111" stroke-width="0.12" >1</text>
<line x1="235.60" y1="281.70" x2="238.20" y2="281.70" stroke="#000" stroke-width="0.8"/>
<text x="232.60" y="283.85" font-size="6.2" text-anchor="end" fill="#111" stroke="#111" stroke-width="0.12" >0.1</text>
<line x1="235.60" y1="295.30" x2="238.20" y2="295.30" stroke="#000" stroke-width="0.8"/>
<text x="232.60" y="297.45" font-size="6.2" text-anchor="end" fill="#111" stroke="#111" stroke-width="0.12" >0.01</text>
<line x1="242.50" y1="295.30" x2="242.50" y2="297.70" stroke="#000" stroke-width="0.75"/>
<text x="244.40" y="301.30" font-size="4.8" text-anchor="end" fill="#222" stroke="#222" stroke-width="0.18" textLength="7.80" lengthAdjust="spacingAndGlyphs" transform="rotate(-90 244.40 301.30)" >ON</text>
<line x1="247.50" y1="295.30" x2="247.50" y2="297.70" stroke="#000" stroke-width="0.75"/>
<text x="249.09" y="301.30" font-size="4.8" text-anchor="end" fill="#222" stroke="#222" stroke-width="0.18" textLength="14.10" lengthAdjust="spacingAndGlyphs" transform="rotate(-90 249.09 301.30)" >OFF 01</text>
<line x1="252.50" y1="295.30" x2="252.50" y2="297.70" stroke="#000" stroke-width="0.75"/>
<text x="253.78" y="301.30" font-size="4.8" text-anchor="end" fill="#222" stroke="#222" stroke-width="0.18" textLength="14.10" lengthAdjust="spacingAndGlyphs" transform="rotate(-90 253.78 301.30)" >OFF 02</text>
<line x1="256.50" y1="295.30" x2="256.50" y2="297.70" stroke="#000" stroke-width="0.75"/>
<text x="258.47" y="301.30" font-size="4.8" text-anchor="end" fill="#222" stroke="#222" stroke-width="0.18" textLength="14.10" lengthAdjust="spacingAndGlyphs" transform="rotate(-90 258.47 301.30)" >OFF 03</text>
<line x1="261.50" y1="295.30" x2="261.50" y2="297.70" stroke="#000" stroke-width="0.75"/>
<text x="263.16" y="301.30" font-size="4.8" text-anchor="end" fill="#222" stroke="#222" stroke-width="0.18" textLength="14.10" lengthAdjust="spacingAndGlyphs" transform="rotate(-90 263.16 301.30)" >OFF 04</text>
<line x1="266.50" y1="295.30" x2="266.50" y2="297.70" stroke="#000" stroke-width="0.75"/>
<text x="267.85" y="301.30" font-size="4.8" text-anchor="end" fill="#222" stroke="#222" stroke-width="0.18" textLength="14.10" lengthAdjust="spacingAndGlyphs" transform="rotate(-90 267.85 301.30)" >OFF 05</text>
<line x1="270.50" y1="295.30" x2="270.50" y2="297.70" stroke="#000" stroke-width="0.75"/>
<text x="272.54" y="301.30" font-size="4.8" text-anchor="end" fill="#222" stroke="#222" stroke-width="0.18" textLength="14.10" lengthAdjust="spacingAndGlyphs" transform="rotate(-90 272.54 301.30)" >OFF 06</text>
<line x1="275.50" y1="295.30" x2="275.50" y2="297.70" stroke="#000" stroke-width="0.75"/>
<text x="277.23" y="301.30" font-size="4.8" text-anchor="end" fill="#222" stroke="#222" stroke-width="0.18" textLength="14.10" lengthAdjust="spacingAndGlyphs" transform="rotate(-90 277.23 301.30)" >OFF 07</text>
<line x1="280.50" y1="295.30" x2="280.50" y2="297.70" stroke="#000" stroke-width="0.75"/>
<text x="281.92" y="301.30" font-size="4.8" text-anchor="end" fill="#222" stroke="#222" stroke-width="0.18" textLength="14.10" lengthAdjust="spacingAndGlyphs" transform="rotate(-90 281.92 301.30)" >OFF 08</text>
<line x1="284.50" y1="295.30" x2="284.50" y2="297.70" stroke="#000" stroke-width="0.75"/>
<text x="286.61" y="301.30" font-size="4.8" text-anchor="end" fill="#222" stroke="#222" stroke-width="0.18" textLength="14.10" lengthAdjust="spacingAndGlyphs" transform="rotate(-90 286.61 301.30)" >OFF 09</text>
<line x1="289.50" y1="295.30" x2="289.50" y2="297.70" stroke="#000" stroke-width="0.75"/>
<text x="291.30" y="301.30" font-size="4.8" text-anchor="end" fill="#222" stroke="#222" stroke-width="0.18" textLength="14.10" lengthAdjust="spacingAndGlyphs" transform="rotate(-90 291.30 301.30)" >OFF 10</text>
<line x1="294.50" y1="295.30" x2="294.50" y2="297.70" stroke="#000" stroke-width="0.75"/>
<text x="295.99" y="301.30" font-size="4.8" text-anchor="end" fill="#222" stroke="#222" stroke-width="0.18" textLength="14.10" lengthAdjust="spacingAndGlyphs" transform="rotate(-90 295.99 301.30)" >OFF 11</text>
<line x1="298.50" y1="295.30" x2="298.50" y2="297.70" stroke="#000" stroke-width="0.75"/>
<text x="300.68" y="301.30" font-size="4.8" text-anchor="end" fill="#222" stroke="#222" stroke-width="0.18" textLength="14.10" lengthAdjust="spacingAndGlyphs" transform="rotate(-90 300.68 301.30)" >OFF 12</text>
<line x1="303.50" y1="295.30" x2="303.50" y2="297.70" stroke="#000" stroke-width="0.75"/>
<text x="305.37" y="301.30" font-size="4.8" text-anchor="end" fill="#222" stroke="#222" stroke-width="0.18" textLength="14.10" lengthAdjust="spacingAndGlyphs" transform="rotate(-90 305.37 301.30)" >OFF 13</text>
<line x1="308.50" y1="295.30" x2="308.50" y2="297.70" stroke="#000" stroke-width="0.75"/>
<text x="310.06" y="301.30" font-size="4.8" text-anchor="end" fill="#222" stroke="#222" stroke-width="0.18" textLength="14.10" lengthAdjust="spacingAndGlyphs" transform="rotate(-90 310.06 301.30)" >OFF 14</text>
<line x1="313.50" y1="295.30" x2="313.50" y2="297.70" stroke="#000" stroke-width="0.75"/>
<text x="314.75" y="301.30" font-size="4.8" text-anchor="end" fill="#222" stroke="#222" stroke-width="0.18" textLength="14.10" lengthAdjust="spacingAndGlyphs" transform="rotate(-90 314.75 301.30)" >OFF 15</text>
<line x1="317.50" y1="295.30" x2="317.50" y2="297.70" stroke="#000" stroke-width="0.75"/>
<text x="319.44" y="301.30" font-size="4.8" text-anchor="end" fill="#222" stroke="#222" stroke-width="0.18" textLength="14.10" lengthAdjust="spacingAndGlyphs" transform="rotate(-90 319.44 301.30)" >OFF 16</text>
<line x1="322.50" y1="295.30" x2="322.50" y2="297.70" stroke="#000" stroke-width="0.75"/>
<text x="324.13" y="301.30" font-size="4.8" text-anchor="end" fill="#222" stroke="#222" stroke-width="0.18" textLength="14.10" lengthAdjust="spacingAndGlyphs" transform="rotate(-90 324.13 301.30)" >OFF 17</text>
<line x1="327.50" y1="295.30" x2="327.50" y2="297.70" stroke="#000" stroke-width="0.75"/>
<text x="328.82" y="301.30" font-size="4.8" text-anchor="end" fill="#222" stroke="#222" stroke-width="0.18" textLength="14.10" lengthAdjust="spacingAndGlyphs" transform="rotate(-90 328.82 301.30)" >OFF 18</text>
<line x1="331.50" y1="295.30" x2="331.50" y2="297.70" stroke="#000" stroke-width="0.75"/>
<text x="333.51" y="301.30" font-size="4.8" text-anchor="end" fill="#222" stroke="#222" stroke-width="0.18" textLength="14.10" lengthAdjust="spacingAndGlyphs" transform="rotate(-90 333.51 301.30)" >OFF 19</text>
<line x1="336.50" y1="295.30" x2="336.50" y2="297.70" stroke="#000" stroke-width="0.75"/>
<text x="338.20" y="301.30" font-size="4.8" text-anchor="end" fill="#222" stroke="#222" stroke-width="0.18" textLength="14.10" lengthAdjust="spacingAndGlyphs" transform="rotate(-90 338.20 301.30)" >OFF 20</text>
<line x1="341.50" y1="295.30" x2="341.50" y2="297.70" stroke="#000" stroke-width="0.75"/>
<text x="342.89" y="301.30" font-size="4.8" text-anchor="end" fill="#222" stroke="#222" stroke-width="0.18" textLength="14.10" lengthAdjust="spacingAndGlyphs" transform="rotate(-90 342.89 301.30)" >OFF 21</text>
<line x1="345.50" y1="295.30" x2="345.50" y2="297.70" stroke="#000" stroke-width="0.75"/>
<text x="347.58" y="301.30" font-size="4.8" text-anchor="end" fill="#222" stroke="#222" stroke-width="0.18" textLength="14.10" lengthAdjust="spacingAndGlyphs" transform="rotate(-90 347.58 301.30)" >OFF 22</text>
<line x1="350.50" y1="295.30" x2="350.50" y2="297.70" stroke="#000" stroke-width="0.75"/>
<text x="352.27" y="301.30" font-size="4.8" text-anchor="end" fill="#222" stroke="#222" stroke-width="0.18" textLength="14.10" lengthAdjust="spacingAndGlyphs" transform="rotate(-90 352.27 301.30)" >OFF 23</text>
<text x="355.00" y="248.30" font-size="5.0" text-anchor="end" fill="#222" stroke="#222" stroke-width="0.08" >Exon 2- Guide 1</text>
<text x="210.00" y="268.10" font-size="7.2" text-anchor="middle" fill="#111" stroke="#111" stroke-width="0.3" textLength="55.60" lengthAdjust="spacingAndGlyphs" transform="rotate(-90 210.00 268.10)" dy="2.4">Editing efficiency (%)</text>
<text x="297.00" y="326.00" font-size="8.0" text-anchor="middle" fill="#111" font-weight="bold" textLength="34.40" lengthAdjust="spacingAndGlyphs" >Targeted sites</text>
<rect x="399.25" y="243.74" width="1.75" height="51.76" fill="#29457f" />
<rect x="401.00" y="243.74" width="1.75" height="51.76" fill="#ad0a33" />
<rect x="410.41" y="276.29" width="1.75" height="19.21" fill="#29457f" />
<rect x="412.16" y="281.36" width="1.75" height="14.14" fill="#ad0a33" />
<rect x="449.47" y="277.55" width="1.75" height="17.95" fill="#29457f" />
<rect x="451.22" y="278.14" width="1.75" height="17.36" fill="#ad0a33" />
<rect x="466.21" y="284.46" width="1.75" height="11.04" fill="#29457f" />
<rect x="467.96" y="284.46" width="1.75" height="11.04" fill="#ad0a33" />
<rect x="477.37" y="282.55" width="1.75" height="12.95" fill="#29457f" />
<rect x="479.12" y="284.94" width="1.75" height="10.56" fill="#ad0a33" />
<rect x="488.53" y="283.62" width="1.75" height="11.88" fill="#29457f" />
<rect x="490.28" y="286.01" width="1.75" height="9.49" fill="#ad0a33" />
<rect x="495.86" y="286.25" width="1.75" height="9.25" fill="#ad0a33" />
<rect x="505.27" y="287.33" width="1.75" height="8.17" fill="#29457f" />
<rect x="507.02" y="286.01" width="1.75" height="9.49" fill="#ad0a33" />
<line x1="395.40" y1="238.30" x2="395.40" y2="296.10" stroke="#000" stroke-width="1.2"/>
<line x1="394.80" y1="295.50" x2="512.90" y2="295.50" stroke="#000" stroke-width="1.3"/>
<line x1="392.80" y1="241.20" x2="395.40" y2="241.20" stroke="#000" stroke-width="0.8"/>
<text x="389.80" y="243.35" font-size="6.2" text-anchor="end" fill="#111" stroke="#111" stroke-width="0.12" >100</text>
<line x1="392.80" y1="254.77" x2="395.40" y2="254.77" stroke="#000" stroke-width="0.8"/>
<text x="389.80" y="256.92" font-size="6.2" text-anchor="end" fill="#111" stroke="#111" stroke-width="0.12" >10</text>
<line x1="392.80" y1="268.35" x2="395.40" y2="268.35" stroke="#000" stroke-width="0.8"/>
<text x="389.80" y="270.50" font-size="6.2" text-anchor="end" fill="#111" stroke="#111" stroke-width="0.12" >1</text>
<line x1="392.80" y1="281.93" x2="395.40" y2="281.93" stroke="#000" stroke-width="0.8"/>
<text x="389.80" y="284.07" font-size="6.2" text-anchor="end" fill="#111" stroke="#111" stroke-width="0.12" >0.1</text>
<line x1="392.80" y1="295.50" x2="395.40" y2="295.50" stroke="#000" stroke-width="0.8"/>
<text x="389.80" y="297.65" font-size="6.2" text-anchor="end" fill="#111" stroke="#111" stroke-width="0.12" >0.01</text>
<line x1="400.50" y1="295.50" x2="400.50" y2="297.90" stroke="#000" stroke-width="0.75"/>
<text x="402.70" y="301.50" font-size="4.8" text-anchor="end" fill="#222" stroke="#222" stroke-width="0.18" textLength="7.80" lengthAdjust="spacingAndGlyphs" transform="rotate(-90 402.70 301.50)" >ON</text>
<line x1="406.50" y1="295.50" x2="406.50" y2="297.90" stroke="#000" stroke-width="0.75"/>
<text x="408.28" y="301.50" font-size="4.8" text-anchor="end" fill="#222" stroke="#222" stroke-width="0.18" textLength="14.10" lengthAdjust="spacingAndGlyphs" transform="rotate(-90 408.28 301.50)" >OFF 01</text>
<line x1="412.50" y1="295.50" x2="412.50" y2="297.90" stroke="#000" stroke-width="0.75"/>
<text x="413.86" y="301.50" font-size="4.8" text-anchor="end" fill="#222" stroke="#222" stroke-width="0.18" textLength="14.10" lengthAdjust="spacingAndGlyphs" transform="rotate(-90 413.86 301.50)" >OFF 02</text>
<line x1="417.50" y1="295.50" x2="417.50" y2="297.90" stroke="#000" stroke-width="0.75"/>
<text x="419.44" y="301.50" font-size="4.8" text-anchor="end" fill="#222" stroke="#222" stroke-width="0.18" textLength="14.10" lengthAdjust="spacingAndGlyphs" transform="rotate(-90 419.44 301.50)" >OFF 03</text>
<line x1="423.50" y1="295.50" x2="423.50" y2="297.90" stroke="#000" stroke-width="0.75"/>
<text x="425.02" y="301.50" font-size="4.8" text-anchor="end" fill="#222" stroke="#222" stroke-width="0.18" textLength="14.10" lengthAdjust="spacingAndGlyphs" transform="rotate(-90 425.02 301.50)" >OFF 04</text>
<line x1="428.50" y1="295.50" x2="428.50" y2="297.90" stroke="#000" stroke-width="0.75"/>
<text x="430.60" y="301.50" font-size="4.8" text-anchor="end" fill="#222" stroke="#222" stroke-width="0.18" textLength="14.10" lengthAdjust="spacingAndGlyphs" transform="rotate(-90 430.60 301.50)" >OFF 05</text>
<line x1="434.50" y1="295.50" x2="434.50" y2="297.90" stroke="#000" stroke-width="0.75"/>
<text x="436.18" y="301.50" font-size="4.8" text-anchor="end" fill="#222" stroke="#222" stroke-width="0.18" textLength="14.10" lengthAdjust="spacingAndGlyphs" transform="rotate(-90 436.18 301.50)" >OFF 06</text>
<line x1="440.50" y1="295.50" x2="440.50" y2="297.90" stroke="#000" stroke-width="0.75"/>
<text x="441.76" y="301.50" font-size="4.8" text-anchor="end" fill="#222" stroke="#222" stroke-width="0.18" textLength="14.10" lengthAdjust="spacingAndGlyphs" transform="rotate(-90 441.76 301.50)" >OFF 07</text>
<line x1="445.50" y1="295.50" x2="445.50" y2="297.90" stroke="#000" stroke-width="0.75"/>
<text x="447.34" y="301.50" font-size="4.8" text-anchor="end" fill="#222" stroke="#222" stroke-width="0.18" textLength="14.10" lengthAdjust="spacingAndGlyphs" transform="rotate(-90 447.34 301.50)" >OFF 08</text>
<line x1="451.50" y1="295.50" x2="451.50" y2="297.90" stroke="#000" stroke-width="0.75"/>
<text x="452.92" y="301.50" font-size="4.8" text-anchor="end" fill="#222" stroke="#222" stroke-width="0.18" textLength="14.10" lengthAdjust="spacingAndGlyphs" transform="rotate(-90 452.92 301.50)" >OFF 09</text>
<line x1="456.50" y1="295.50" x2="456.50" y2="297.90" stroke="#000" stroke-width="0.75"/>
<text x="458.50" y="301.50" font-size="4.8" text-anchor="end" fill="#222" stroke="#222" stroke-width="0.18" textLength="14.10" lengthAdjust="spacingAndGlyphs" transform="rotate(-90 458.50 301.50)" >OFF 10</text>
<line x1="462.50" y1="295.50" x2="462.50" y2="297.90" stroke="#000" stroke-width="0.75"/>
<text x="464.08" y="301.50" font-size="4.8" text-anchor="end" fill="#222" stroke="#222" stroke-width="0.18" textLength="14.10" lengthAdjust="spacingAndGlyphs" transform="rotate(-90 464.08 301.50)" >OFF 11</text>
<line x1="467.50" y1="295.50" x2="467.50" y2="297.90" stroke="#000" stroke-width="0.75"/>
<text x="469.66" y="301.50" font-size="4.8" text-anchor="end" fill="#222" stroke="#222" stroke-width="0.18" textLength="14.10" lengthAdjust="spacingAndGlyphs" transform="rotate(-90 469.66 301.50)" >OFF 12</text>
<line x1="473.50" y1="295.50" x2="473.50" y2="297.90" stroke="#000" stroke-width="0.75"/>
<text x="475.24" y="301.50" font-size="4.8" text-anchor="end" fill="#222" stroke="#222" stroke-width="0.18" textLength="14.10" lengthAdjust="spacingAndGlyphs" transform="rotate(-90 475.24 301.50)" >OFF 13</text>
<line x1="479.50" y1="295.50" x2="479.50" y2="297.90" stroke="#000" stroke-width="0.75"/>
<text x="480.82" y="301.50" font-size="4.8" text-anchor="end" fill="#222" stroke="#222" stroke-width="0.18" textLength="14.10" lengthAdjust="spacingAndGlyphs" transform="rotate(-90 480.82 301.50)" >OFF 14</text>
<line x1="484.50" y1="295.50" x2="484.50" y2="297.90" stroke="#000" stroke-width="0.75"/>
<text x="486.40" y="301.50" font-size="4.8" text-anchor="end" fill="#222" stroke="#222" stroke-width="0.18" textLength="14.10" lengthAdjust="spacingAndGlyphs" transform="rotate(-90 486.40 301.50)" >OFF 15</text>
<line x1="490.50" y1="295.50" x2="490.50" y2="297.90" stroke="#000" stroke-width="0.75"/>
<text x="491.98" y="301.50" font-size="4.8" text-anchor="end" fill="#222" stroke="#222" stroke-width="0.18" textLength="14.10" lengthAdjust="spacingAndGlyphs" transform="rotate(-90 491.98 301.50)" >OFF 16</text>
<line x1="495.50" y1="295.50" x2="495.50" y2="297.90" stroke="#000" stroke-width="0.75"/>
<text x="497.56" y="301.50" font-size="4.8" text-anchor="end" fill="#222" stroke="#222" stroke-width="0.18" textLength="14.10" lengthAdjust="spacingAndGlyphs" transform="rotate(-90 497.56 301.50)" >OFF 17</text>
<line x1="501.50" y1="295.50" x2="501.50" y2="297.90" stroke="#000" stroke-width="0.75"/>
<text x="503.14" y="301.50" font-size="4.8" text-anchor="end" fill="#222" stroke="#222" stroke-width="0.18" textLength="14.10" lengthAdjust="spacingAndGlyphs" transform="rotate(-90 503.14 301.50)" >OFF 18</text>
<line x1="507.50" y1="295.50" x2="507.50" y2="297.90" stroke="#000" stroke-width="0.75"/>
<text x="508.72" y="301.50" font-size="4.8" text-anchor="end" fill="#222" stroke="#222" stroke-width="0.18" textLength="14.10" lengthAdjust="spacingAndGlyphs" transform="rotate(-90 508.72 301.50)" >OFF 19</text>
<text x="513.00" y="249.00" font-size="5.0" text-anchor="end" fill="#222" stroke="#222" stroke-width="0.08" >Exon 2- Guide 2</text>
<text x="369.50" y="268.35" font-size="7.2" text-anchor="middle" fill="#111" stroke="#111" stroke-width="0.3" textLength="55.60" lengthAdjust="spacingAndGlyphs" transform="rotate(-90 369.50 268.35)" dy="2.4">Editing efficiency (%)</text>
<text x="453.80" y="326.00" font-size="8.0" text-anchor="middle" fill="#111" font-weight="bold" textLength="34.40" lengthAdjust="spacingAndGlyphs" >Targeted sites</text>
<rect x="240.95" y="334.70" width="1.75" height="52.70" fill="#29457f" />
<rect x="242.70" y="333.96" width="1.75" height="53.44" fill="#ad0a33" />
<rect x="245.64" y="353.33" width="1.75" height="34.07" fill="#29457f" />
<rect x="247.39" y="372.25" width="1.75" height="15.15" fill="#ad0a33" />
<rect x="250.33" y="337.72" width="1.75" height="49.68" fill="#29457f" />
<rect x="255.02" y="377.89" width="1.75" height="9.51" fill="#29457f" />
<rect x="259.71" y="375.91" width="1.75" height="11.49" fill="#29457f" />
<rect x="294.29" y="376.82" width="1.75" height="10.58" fill="#ad0a33" />
<rect x="297.23" y="377.89" width="1.75" height="9.51" fill="#29457f" />
<rect x="298.98" y="380.91" width="1.75" height="6.49" fill="#ad0a33" />
<rect x="301.92" y="380.91" width="1.75" height="6.49" fill="#29457f" />
<rect x="303.67" y="381.99" width="1.75" height="5.41" fill="#ad0a33" />
<rect x="330.06" y="382.74" width="1.75" height="4.66" fill="#29457f" />
<rect x="240.97" y="333.30" width="1.70" height="1.40" fill="#b4b4b4" />
<line x1="241.82" y1="333.30" x2="241.82" y2="334.70" stroke="#555" stroke-width="0.35"/>
<line x1="241.22" y1="333.30" x2="242.42" y2="333.30" stroke="#444" stroke-width="0.5"/>
<rect x="242.72" y="333.30" width="1.70" height="0.66" fill="#b4b4b4" />
<line x1="243.57" y1="333.30" x2="243.57" y2="333.96" stroke="#555" stroke-width="0.35"/>
<line x1="242.97" y1="333.30" x2="244.17" y2="333.30" stroke="#444" stroke-width="0.5"/>
<rect x="247.41" y="368.39" width="1.70" height="3.86" fill="#b4b4b4" />
<line x1="248.26" y1="368.39" x2="248.26" y2="372.25" stroke="#555" stroke-width="0.35"/>
<line x1="247.66" y1="368.39" x2="248.86" y2="368.39" stroke="#444" stroke-width="0.5"/>
<rect x="255.04" y="370.33" width="1.70" height="7.57" fill="#b4b4b4" />
<line x1="255.89" y1="370.33" x2="255.89" y2="377.89" stroke="#555" stroke-width="0.35"/>
<line x1="255.29" y1="370.33" x2="256.50" y2="370.33" stroke="#444" stroke-width="0.5"/>
<rect x="256.79" y="369.71" width="1.70" height="17.69" fill="#b4b4b4" />
<line x1="257.64" y1="369.71" x2="257.64" y2="387.40" stroke="#555" stroke-width="0.35"/>
<line x1="257.04" y1="369.71" x2="258.25" y2="369.71" stroke="#444" stroke-width="0.5"/>
<rect x="259.73" y="373.80" width="1.70" height="2.11" fill="#b4b4b4" />
<line x1="260.58" y1="373.80" x2="260.58" y2="375.91" stroke="#555" stroke-width="0.35"/>
<line x1="259.98" y1="373.80" x2="261.19" y2="373.80" stroke="#444" stroke-width="0.5"/>
<line x1="265.50" y1="365.61" x2="265.50" y2="387.40" stroke="#555" stroke-width="0.75"/>
<line x1="264.70" y1="365.61" x2="266.30" y2="365.61" stroke="#555" stroke-width="0.8"/>
<rect x="294.31" y="375.50" width="1.70" height="1.32" fill="#b4b4b4" />
<line x1="295.16" y1="375.50" x2="295.16" y2="376.82" stroke="#555" stroke-width="0.35"/>
<line x1="294.56" y1="375.50" x2="295.76" y2="375.50" stroke="#444" stroke-width="0.5"/>
<rect x="297.25" y="370.67" width="1.70" height="7.23" fill="#b4b4b4" />
<line x1="298.11" y1="370.67" x2="298.11" y2="377.89" stroke="#555" stroke-width="0.35"/>
<line x1="297.50" y1="370.67" x2="298.71" y2="370.67" stroke="#444" stroke-width="0.5"/>
<rect x="299.00" y="372.72" width="1.70" height="8.19" fill="#b4b4b4" />
<line x1="299.86" y1="372.72" x2="299.86" y2="380.91" stroke="#555" stroke-width="0.35"/>
<line x1="299.25" y1="372.72" x2="300.46" y2="372.72" stroke="#444" stroke-width="0.5"/>
<rect x="301.94" y="374.42" width="1.70" height="6.49" fill="#b4b4b4" />
<line x1="302.80" y1="374.42" x2="302.80" y2="380.91" stroke="#555" stroke-width="0.35"/>
<line x1="302.19" y1="374.42" x2="303.40" y2="374.42" stroke="#444" stroke-width="0.5"/>
<rect x="303.69" y="375.12" width="1.70" height="6.87" fill="#b4b4b4" />
<line x1="304.55" y1="375.12" x2="304.55" y2="381.99" stroke="#555" stroke-width="0.35"/>
<line x1="303.94" y1="375.12" x2="305.15" y2="375.12" stroke="#444" stroke-width="0.5"/>
<rect x="330.08" y="376.34" width="1.70" height="6.40" fill="#b4b4b4" />
<line x1="330.94" y1="376.34" x2="330.94" y2="382.74" stroke="#555" stroke-width="0.35"/>
<line x1="330.33" y1="376.34" x2="331.54" y2="376.34" stroke="#444" stroke-width="0.5"/>
<line x1="335.50" y1="373.24" x2="335.50" y2="387.40" stroke="#555" stroke-width="0.75"/>
<line x1="334.70" y1="373.24" x2="336.30" y2="373.24" stroke="#555" stroke-width="0.8"/>
<line x1="238.20" y1="330.10" x2="238.20" y2="388.00" stroke="#000" stroke-width="1.2"/>
<line x1="237.60" y1="387.40" x2="355.70" y2="387.40" stroke="#000" stroke-width="1.3"/>
<line x1="235.60" y1="333.00" x2="238.20" y2="333.00" stroke="#000" stroke-width="0.8"/>
<text x="232.60" y="335.15" font-size="6.2" text-anchor="end" fill="#111" stroke="#111" stroke-width="0.12" >100</text>
<line x1="235.60" y1="346.60" x2="238.20" y2="346.60" stroke="#000" stroke-width="0.8"/>
<text x="232.60" y="348.75" font-size="6.2" text-anchor="end" fill="#111" stroke="#111" stroke-width="0.12" >10</text>
<line x1="235.60" y1="360.20" x2="238.20" y2="360.20" stroke="#000" stroke-width="0.8"/>
<text x="232.60" y="362.35" font-size="6.2" text-anchor="end" fill="#111" stroke="#111" stroke-width="0.12" >1</text>
<line x1="235.60" y1="373.80" x2="238.20" y2="373.80" stroke="#000" stroke-width="0.8"/>
<text x="232.60" y="375.95" font-size="6.2" text-anchor="end" fill="#111" stroke="#111" stroke-width="0.12" >0.1</text>
<line x1="235.60" y1="387.40" x2="238.20" y2="387.40" stroke="#000" stroke-width="0.8"/>
<text x="232.60" y="389.55" font-size="6.2" text-anchor="end" fill="#111" stroke="#111" stroke-width="0.12" >0.01</text>
<line x1="242.50" y1="387.40" x2="242.50" y2="389.80" stroke="#000" stroke-width="0.75"/>
<text x="244.40" y="393.40" font-size="4.8" text-anchor="end" fill="#222" stroke="#222" stroke-width="0.18" textLength="7.80" lengthAdjust="spacingAndGlyphs" transform="rotate(-90 244.40 393.40)" >ON</text>
<line x1="247.50" y1="387.40" x2="247.50" y2="389.80" stroke="#000" stroke-width="0.75"/>
<text x="249.09" y="393.40" font-size="4.8" text-anchor="end" fill="#222" stroke="#222" stroke-width="0.18" textLength="14.10" lengthAdjust="spacingAndGlyphs" transform="rotate(-90 249.09 393.40)" >OFF 01</text>
<line x1="252.50" y1="387.40" x2="252.50" y2="389.80" stroke="#000" stroke-width="0.75"/>
<text x="253.78" y="393.40" font-size="4.8" text-anchor="end" fill="#222" stroke="#222" stroke-width="0.18" textLength="14.10" lengthAdjust="spacingAndGlyphs" transform="rotate(-90 253.78 393.40)" >OFF 02</text>
<line x1="256.50" y1="387.40" x2="256.50" y2="389.80" stroke="#000" stroke-width="0.75"/>
<text x="258.47" y="393.40" font-size="4.8" text-anchor="end" fill="#222" stroke="#222" stroke-width="0.18" textLength="14.10" lengthAdjust="spacingAndGlyphs" transform="rotate(-90 258.47 393.40)" >OFF 03</text>
<line x1="261.50" y1="387.40" x2="261.50" y2="389.80" stroke="#000" stroke-width="0.75"/>
<text x="263.16" y="393.40" font-size="4.8" text-anchor="end" fill="#222" stroke="#222" stroke-width="0.18" textLength="14.10" lengthAdjust="spacingAndGlyphs" transform="rotate(-90 263.16 393.40)" >OFF 04</text>
<line x1="266.50" y1="387.40" x2="266.50" y2="389.80" stroke="#000" stroke-width="0.75"/>
<text x="267.85" y="393.40" font-size="4.8" text-anchor="end" fill="#222" stroke="#222" stroke-width="0.18" textLength="14.10" lengthAdjust="spacingAndGlyphs" transform="rotate(-90 267.85 393.40)" >OFF 05</text>
<line x1="270.50" y1="387.40" x2="270.50" y2="389.80" stroke="#000" stroke-width="0.75"/>
<text x="272.54" y="393.40" font-size="4.8" text-anchor="end" fill="#222" stroke="#222" stroke-width="0.18" textLength="14.10" lengthAdjust="spacingAndGlyphs" transform="rotate(-90 272.54 393.40)" >OFF 06</text>
<line x1="275.50" y1="387.40" x2="275.50" y2="389.80" stroke="#000" stroke-width="0.75"/>
<text x="277.23" y="393.40" font-size="4.8" text-anchor="end" fill="#222" stroke="#222" stroke-width="0.18" textLength="14.10" lengthAdjust="spacingAndGlyphs" transform="rotate(-90 277.23 393.40)" >OFF 07</text>
<line x1="280.50" y1="387.40" x2="280.50" y2="389.80" stroke="#000" stroke-width="0.75"/>
<text x="281.92" y="393.40" font-size="4.8" text-anchor="end" fill="#222" stroke="#222" stroke-width="0.18" textLength="14.10" lengthAdjust="spacingAndGlyphs" transform="rotate(-90 281.92 393.40)" >OFF 08</text>
<line x1="284.50" y1="387.40" x2="284.50" y2="389.80" stroke="#000" stroke-width="0.75"/>
<text x="286.61" y="393.40" font-size="4.8" text-anchor="end" fill="#222" stroke="#222" stroke-width="0.18" textLength="14.10" lengthAdjust="spacingAndGlyphs" transform="rotate(-90 286.61 393.40)" >OFF 09</text>
<line x1="289.50" y1="387.40" x2="289.50" y2="389.80" stroke="#000" stroke-width="0.75"/>
<text x="291.30" y="393.40" font-size="4.8" text-anchor="end" fill="#222" stroke="#222" stroke-width="0.18" textLength="14.10" lengthAdjust="spacingAndGlyphs" transform="rotate(-90 291.30 393.40)" >OFF 10</text>
<line x1="294.50" y1="387.40" x2="294.50" y2="389.80" stroke="#000" stroke-width="0.75"/>
<text x="295.99" y="393.40" font-size="4.8" text-anchor="end" fill="#222" stroke="#222" stroke-width="0.18" textLength="14.10" lengthAdjust="spacingAndGlyphs" transform="rotate(-90 295.99 393.40)" >OFF 11</text>
<line x1="298.50" y1="387.40" x2="298.50" y2="389.80" stroke="#000" stroke-width="0.75"/>
<text x="300.68" y="393.40" font-size="4.8" text-anchor="end" fill="#222" stroke="#222" stroke-width="0.18" textLength="14.10" lengthAdjust="spacingAndGlyphs" transform="rotate(-90 300.68 393.40)" >OFF 12</text>
<line x1="303.50" y1="387.40" x2="303.50" y2="389.80" stroke="#000" stroke-width="0.75"/>
<text x="305.37" y="393.40" font-size="4.8" text-anchor="end" fill="#222" stroke="#222" stroke-width="0.18" textLength="14.10" lengthAdjust="spacingAndGlyphs" transform="rotate(-90 305.37 393.40)" >OFF 13</text>
<line x1="308.50" y1="387.40" x2="308.50" y2="389.80" stroke="#000" stroke-width="0.75"/>
<text x="310.06" y="393.40" font-size="4.8" text-anchor="end" fill="#222" stroke="#222" stroke-width="0.18" textLength="14.10" lengthAdjust="spacingAndGlyphs" transform="rotate(-90 310.06 393.40)" >OFF 14</text>
<line x1="313.50" y1="387.40" x2="313.50" y2="389.80" stroke="#000" stroke-width="0.75"/>
<text x="314.75" y="393.40" font-size="4.8" text-anchor="end" fill="#222" stroke="#222" stroke-width="0.18" textLength="14.10" lengthAdjust="spacingAndGlyphs" transform="rotate(-90 314.75 393.40)" >OFF 15</text>
<line x1="317.50" y1="387.40" x2="317.50" y2="389.80" stroke="#000" stroke-width="0.75"/>
<text x="319.44" y="393.40" font-size="4.8" text-anchor="end" fill="#222" stroke="#222" stroke-width="0.18" textLength="14.10" lengthAdjust="spacingAndGlyphs" transform="rotate(-90 319.44 393.40)" >OFF 16</text>
<line x1="322.50" y1="387.40" x2="322.50" y2="389.80" stroke="#000" stroke-width="0.75"/>
<text x="324.13" y="393.40" font-size="4.8" text-anchor="end" fill="#222" stroke="#222" stroke-width="0.18" textLength="14.10" lengthAdjust="spacingAndGlyphs" transform="rotate(-90 324.13 393.40)" >OFF 17</text>
<line x1="327.50" y1="387.40" x2="327.50" y2="389.80" stroke="#000" stroke-width="0.75"/>
<text x="328.82" y="393.40" font-size="4.8" text-anchor="end" fill="#222" stroke="#222" stroke-width="0.18" textLength="14.10" lengthAdjust="spacingAndGlyphs" transform="rotate(-90 328.82 393.40)" >OFF 18</text>
<line x1="331.50" y1="387.40" x2="331.50" y2="389.80" stroke="#000" stroke-width="0.75"/>
<text x="333.51" y="393.40" font-size="4.8" text-anchor="end" fill="#222" stroke="#222" stroke-width="0.18" textLength="14.10" lengthAdjust="spacingAndGlyphs" transform="rotate(-90 333.51 393.40)" >OFF 19</text>
<line x1="336.50" y1="387.40" x2="336.50" y2="389.80" stroke="#000" stroke-width="0.75"/>
<text x="338.20" y="393.40" font-size="4.8" text-anchor="end" fill="#222" stroke="#222" stroke-width="0.18" textLength="14.10" lengthAdjust="spacingAndGlyphs" transform="rotate(-90 338.20 393.40)" >OFF 20</text>
<line x1="341.50" y1="387.40" x2="341.50" y2="389.80" stroke="#000" stroke-width="0.75"/>
<text x="342.89" y="393.40" font-size="4.8" text-anchor="end" fill="#222" stroke="#222" stroke-width="0.18" textLength="14.10" lengthAdjust="spacingAndGlyphs" transform="rotate(-90 342.89 393.40)" >OFF 21</text>
<line x1="345.50" y1="387.40" x2="345.50" y2="389.80" stroke="#000" stroke-width="0.75"/>
<text x="347.58" y="393.40" font-size="4.8" text-anchor="end" fill="#222" stroke="#222" stroke-width="0.18" textLength="14.10" lengthAdjust="spacingAndGlyphs" transform="rotate(-90 347.58 393.40)" >OFF 22</text>
<line x1="350.50" y1="387.40" x2="350.50" y2="389.80" stroke="#000" stroke-width="0.75"/>
<text x="352.27" y="393.40" font-size="4.8" text-anchor="end" fill="#222" stroke="#222" stroke-width="0.18" textLength="14.10" lengthAdjust="spacingAndGlyphs" transform="rotate(-90 352.27 393.40)" >OFF 23</text>
<text x="355.00" y="339.80" font-size="5.0" text-anchor="end" fill="#222" stroke="#222" stroke-width="0.08" >Exon 2- Guide 1</text>
<text x="212.50" y="360.20" font-size="7.2" text-anchor="middle" fill="#111" stroke="#111" stroke-width="0.3" textLength="55.60" lengthAdjust="spacingAndGlyphs" transform="rotate(-90 212.50 360.20)" dy="2.4">Editing efficiency (%)</text>
<text x="297.00" y="418.00" font-size="8.0" text-anchor="middle" fill="#111" font-weight="bold" textLength="34.40" lengthAdjust="spacingAndGlyphs" >Targeted sites</text>
<rect x="399.25" y="333.17" width="1.75" height="54.13" fill="#29457f" />
<rect x="401.00" y="333.17" width="1.75" height="54.13" fill="#ad0a33" />
<rect x="410.41" y="363.33" width="1.75" height="23.97" fill="#29457f" />
<rect x="449.47" y="375.66" width="1.75" height="11.64" fill="#29457f" />
<rect x="451.22" y="384.87" width="1.75" height="2.43" fill="#ad0a33" />
<rect x="477.37" y="371.96" width="1.75" height="15.34" fill="#29457f" />
<rect x="479.12" y="377.67" width="1.75" height="9.63" fill="#ad0a33" />
<rect x="505.27" y="381.82" width="1.75" height="5.48" fill="#29457f" />
<line x1="411.50" y1="359.75" x2="411.50" y2="363.33" stroke="#222" stroke-width="0.75"/>
<line x1="410.70" y1="359.75" x2="412.30" y2="359.75" stroke="#222" stroke-width="0.8"/>
<line x1="450.50" y1="369.38" x2="450.50" y2="375.66" stroke="#222" stroke-width="0.75"/>
<line x1="449.70" y1="369.38" x2="451.30" y2="369.38" stroke="#222" stroke-width="0.8"/>
<line x1="452.50" y1="376.58" x2="452.50" y2="384.87" stroke="#222" stroke-width="0.75"/>
<line x1="451.70" y1="376.58" x2="453.30" y2="376.58" stroke="#222" stroke-width="0.8"/>
<line x1="478.50" y1="365.54" x2="478.50" y2="371.96" stroke="#222" stroke-width="0.75"/>
<line x1="477.70" y1="365.54" x2="479.30" y2="365.54" stroke="#222" stroke-width="0.8"/>
<line x1="479.50" y1="372.43" x2="479.50" y2="377.67" stroke="#222" stroke-width="0.75"/>
<line x1="478.70" y1="372.43" x2="480.30" y2="372.43" stroke="#222" stroke-width="0.8"/>
<line x1="506.50" y1="374.86" x2="506.50" y2="381.82" stroke="#222" stroke-width="0.75"/>
<line x1="505.70" y1="374.86" x2="507.30" y2="374.86" stroke="#222" stroke-width="0.8"/>
<line x1="507.50" y1="371.10" x2="507.50" y2="387.30" stroke="#222" stroke-width="0.75"/>
<line x1="506.70" y1="371.10" x2="508.30" y2="371.10" stroke="#222" stroke-width="0.8"/>
<line x1="395.40" y1="329.30" x2="395.40" y2="387.90" stroke="#000" stroke-width="1.2"/>
<line x1="394.80" y1="387.30" x2="512.90" y2="387.30" stroke="#000" stroke-width="1.3"/>
<line x1="392.80" y1="332.20" x2="395.40" y2="332.20" stroke="#000" stroke-width="0.8"/>
<text x="389.80" y="334.35" font-size="6.2" text-anchor="end" fill="#111" stroke="#111" stroke-width="0.12" >100</text>
<line x1="392.80" y1="345.98" x2="395.40" y2="345.98" stroke="#000" stroke-width="0.8"/>
<text x="389.80" y="348.12" font-size="6.2" text-anchor="end" fill="#111" stroke="#111" stroke-width="0.12" >10</text>
<line x1="392.80" y1="359.75" x2="395.40" y2="359.75" stroke="#000" stroke-width="0.8"/>
<text x="389.80" y="361.90" font-size="6.2" text-anchor="end" fill="#111" stroke="#111" stroke-width="0.12" >1</text>
<line x1="392.80" y1="373.52" x2="395.40" y2="373.52" stroke="#000" stroke-width="0.8"/>
<text x="389.80" y="375.67" font-size="6.2" text-anchor="end" fill="#111" stroke="#111" stroke-width="0.12" >0.1</text>
<line x1="392.80" y1="387.30" x2="395.40" y2="387.30" stroke="#000" stroke-width="0.8"/>
<text x="389.80" y="389.45" font-size="6.2" text-anchor="end" fill="#111" stroke="#111" stroke-width="0.12" >0.01</text>
<line x1="400.50" y1="387.30" x2="400.50" y2="389.70" stroke="#000" stroke-width="0.75"/>
<text x="402.70" y="393.30" font-size="4.8" text-anchor="end" fill="#222" stroke="#222" stroke-width="0.18" textLength="7.80" lengthAdjust="spacingAndGlyphs" transform="rotate(-90 402.70 393.30)" >ON</text>
<line x1="406.50" y1="387.30" x2="406.50" y2="389.70" stroke="#000" stroke-width="0.75"/>
<text x="408.28" y="393.30" font-size="4.8" text-anchor="end" fill="#222" stroke="#222" stroke-width="0.18" textLength="14.10" lengthAdjust="spacingAndGlyphs" transform="rotate(-90 408.28 393.30)" >OFF 01</text>
<line x1="412.50" y1="387.30" x2="412.50" y2="389.70" stroke="#000" stroke-width="0.75"/>
<text x="413.86" y="393.30" font-size="4.8" text-anchor="end" fill="#222" stroke="#222" stroke-width="0.18" textLength="14.10" lengthAdjust="spacingAndGlyphs" transform="rotate(-90 413.86 393.30)" >OFF 02</text>
<line x1="417.50" y1="387.30" x2="417.50" y2="389.70" stroke="#000" stroke-width="0.75"/>
<text x="419.44" y="393.30" font-size="4.8" text-anchor="end" fill="#222" stroke="#222" stroke-width="0.18" textLength="14.10" lengthAdjust="spacingAndGlyphs" transform="rotate(-90 419.44 393.30)" >OFF 03</text>
<line x1="423.50" y1="387.30" x2="423.50" y2="389.70" stroke="#000" stroke-width="0.75"/>
<text x="425.02" y="393.30" font-size="4.8" text-anchor="end" fill="#222" stroke="#222" stroke-width="0.18" textLength="14.10" lengthAdjust="spacingAndGlyphs" transform="rotate(-90 425.02 393.30)" >OFF 04</text>
<line x1="428.50" y1="387.30" x2="428.50" y2="389.70" stroke="#000" stroke-width="0.75"/>
<text x="430.60" y="393.30" font-size="4.8" text-anchor="end" fill="#222" stroke="#222" stroke-width="0.18" textLength="14.10" lengthAdjust="spacingAndGlyphs" transform="rotate(-90 430.60 393.30)" >OFF 05</text>
<line x1="434.50" y1="387.30" x2="434.50" y2="389.70" stroke="#000" stroke-width="0.75"/>
<text x="436.18" y="393.30" font-size="4.8" text-anchor="end" fill="#222" stroke="#222" stroke-width="0.18" textLength="14.10" lengthAdjust="spacingAndGlyphs" transform="rotate(-90 436.18 393.30)" >OFF 06</text>
<line x1="440.50" y1="387.30" x2="440.50" y2="389.70" stroke="#000" stroke-width="0.75"/>
<text x="441.76" y="393.30" font-size="4.8" text-anchor="end" fill="#222" stroke="#222" stroke-width="0.18" textLength="14.10" lengthAdjust="spacingAndGlyphs" transform="rotate(-90 441.76 393.30)" >OFF 07</text>
<line x1="445.50" y1="387.30" x2="445.50" y2="389.70" stroke="#000" stroke-width="0.75"/>
<text x="447.34" y="393.30" font-size="4.8" text-anchor="end" fill="#222" stroke="#222" stroke-width="0.18" textLength="14.10" lengthAdjust="spacingAndGlyphs" transform="rotate(-90 447.34 393.30)" >OFF 08</text>
<line x1="451.50" y1="387.30" x2="451.50" y2="389.70" stroke="#000" stroke-width="0.75"/>
<text x="452.92" y="393.30" font-size="4.8" text-anchor="end" fill="#222" stroke="#222" stroke-width="0.18" textLength="14.10" lengthAdjust="spacingAndGlyphs" transform="rotate(-90 452.92 393.30)" >OFF 09</text>
<line x1="456.50" y1="387.30" x2="456.50" y2="389.70" stroke="#000" stroke-width="0.75"/>
<text x="458.50" y="393.30" font-size="4.8" text-anchor="end" fill="#222" stroke="#222" stroke-width="0.18" textLength="14.10" lengthAdjust="spacingAndGlyphs" transform="rotate(-90 458.50 393.30)" >OFF 10</text>
<line x1="462.50" y1="387.30" x2="462.50" y2="389.70" stroke="#000" stroke-width="0.75"/>
<text x="464.08" y="393.30" font-size="4.8" text-anchor="end" fill="#222" stroke="#222" stroke-width="0.18" textLength="14.10" lengthAdjust="spacingAndGlyphs" transform="rotate(-90 464.08 393.30)" >OFF 11</text>
<line x1="467.50" y1="387.30" x2="467.50" y2="389.70" stroke="#000" stroke-width="0.75"/>
<text x="469.66" y="393.30" font-size="4.8" text-anchor="end" fill="#222" stroke="#222" stroke-width="0.18" textLength="14.10" lengthAdjust="spacingAndGlyphs" transform="rotate(-90 469.66 393.30)" >OFF 12</text>
<line x1="473.50" y1="387.30" x2="473.50" y2="389.70" stroke="#000" stroke-width="0.75"/>
<text x="475.24" y="393.30" font-size="4.8" text-anchor="end" fill="#222" stroke="#222" stroke-width="0.18" textLength="14.10" lengthAdjust="spacingAndGlyphs" transform="rotate(-90 475.24 393.30)" >OFF 13</text>
<line x1="479.50" y1="387.30" x2="479.50" y2="389.70" stroke="#000" stroke-width="0.75"/>
<text x="480.82" y="393.30" font-size="4.8" text-anchor="end" fill="#222" stroke="#222" stroke-width="0.18" textLength="14.10" lengthAdjust="spacingAndGlyphs" transform="rotate(-90 480.82 393.30)" >OFF 14</text>
<line x1="484.50" y1="387.30" x2="484.50" y2="389.70" stroke="#000" stroke-width="0.75"/>
<text x="486.40" y="393.30" font-size="4.8" text-anchor="end" fill="#222" stroke="#222" stroke-width="0.18" textLength="14.10" lengthAdjust="spacingAndGlyphs" transform="rotate(-90 486.40 393.30)" >OFF 15</text>
<line x1="490.50" y1="387.30" x2="490.50" y2="389.70" stroke="#000" stroke-width="0.75"/>
<text x="491.98" y="393.30" font-size="4.8" text-anchor="end" fill="#222" stroke="#222" stroke-width="0.18" textLength="14.10" lengthAdjust="spacingAndGlyphs" transform="rotate(-90 491.98 393.30)" >OFF 16</text>
<line x1="495.50" y1="387.30" x2="495.50" y2="389.70" stroke="#000" stroke-width="0.75"/>
<text x="497.56" y="393.30" font-size="4.8" text-anchor="end" fill="#222" stroke="#222" stroke-width="0.18" textLength="14.10" lengthAdjust="spacingAndGlyphs" transform="rotate(-90 497.56 393.30)" >OFF 17</text>
<line x1="501.50" y1="387.30" x2="501.50" y2="389.70" stroke="#000" stroke-width="0.75"/>
<text x="503.14" y="393.30" font-size="4.8" text-anchor="end" fill="#222" stroke="#222" stroke-width="0.18" textLength="14.10" lengthAdjust="spacingAndGlyphs" transform="rotate(-90 503.14 393.30)" >OFF 18</text>
<line x1="507.50" y1="387.30" x2="507.50" y2="389.70" stroke="#000" stroke-width="0.75"/>
<text x="508.72" y="393.30" font-size="4.8" text-anchor="end" fill="#222" stroke="#222" stroke-width="0.18" textLength="14.10" lengthAdjust="spacingAndGlyphs" transform="rotate(-90 508.72 393.30)" >OFF 19</text>
<text x="513.00" y="339.00" font-size="5.0" text-anchor="end" fill="#222" stroke="#222" stroke-width="0.08" >Exon 2- Guide 2</text>
<text x="369.50" y="359.75" font-size="7.2" text-anchor="middle" fill="#111" stroke="#111" stroke-width="0.3" textLength="55.60" lengthAdjust="spacingAndGlyphs" transform="rotate(-90 369.50 359.75)" dy="2.4">Editing efficiency (%)</text>
<text x="454.60" y="418.00" font-size="8.0" text-anchor="middle" fill="#111" font-weight="bold" textLength="34.40" lengthAdjust="spacingAndGlyphs" >Targeted sites</text>
<rect x="324.30" y="429.00" width="5.40" height="4.80" fill="#304b7c" />
<text x="333.00" y="433.40" font-size="5.4" text-anchor="start" fill="#222" stroke="#222" stroke-width="0.1" textLength="21.60" lengthAdjust="spacingAndGlyphs" >WT Cas9</text>
<rect x="365.80" y="428.90" width="5.60" height="5.00" fill="#a6022c" />
<text x="374.00" y="433.40" font-size="5.4" text-anchor="start" fill="#222" stroke="#222" stroke-width="0.1" textLength="23.00" lengthAdjust="spacingAndGlyphs" >HIFI Cas9</text>
<rect x="0.5" y="0.5" width="519" height="440" fill="none" stroke="#000" stroke-width="1.3"/>
</svg>
</body></html>
